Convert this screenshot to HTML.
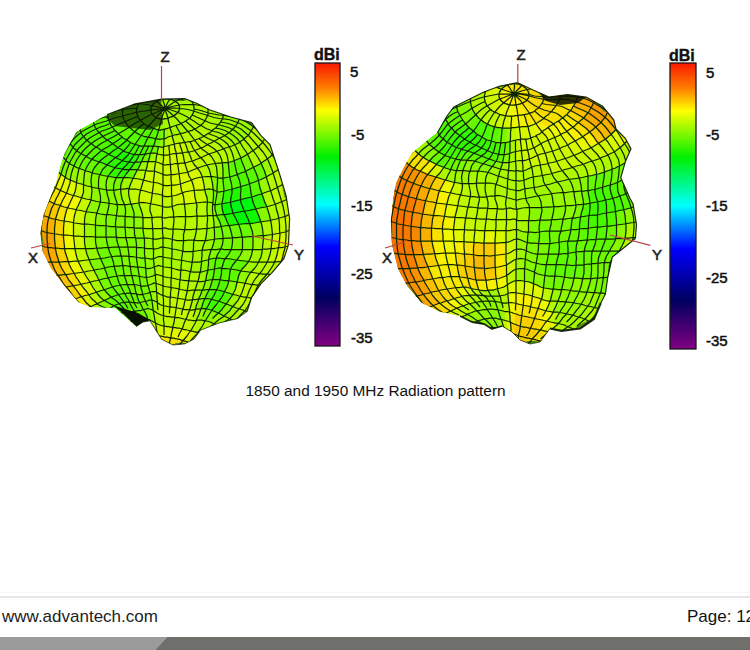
<!DOCTYPE html><html><head><meta charset="utf-8"><style>
html,body{margin:0;padding:0;background:#fff;}
body{width:750px;height:650px;position:relative;overflow:hidden;font-family:"Liberation Sans",sans-serif;}
.a{position:absolute;white-space:nowrap;}
.dbi{position:absolute;font-weight:bold;font-size:16px;line-height:1;color:#111;-webkit-text-stroke:0.4px #111;}
.lab{position:absolute;font-size:15px;line-height:1;color:#111;-webkit-text-stroke:0.5px #111;}
.ax{position:absolute;font-size:15px;line-height:1;color:#222;-webkit-text-stroke:0.55px #222;}
</style></head><body><svg style="position:absolute;left:0;top:0;filter:blur(0.45px)" width="750" height="370"><clipPath id="b1c"><polygon points="161.5,99.0 184.6,98.5 196.0,103.0 210.0,110.0 230.8,117.0 251.5,122.7 260.8,135.4 270.0,144.6 279.0,172.3 286.0,195.4 289.6,218.5 288.5,244.6 283.9,258.5 272.3,272.3 260.8,283.9 251.5,297.7 247.0,311.5 237.7,318.5 219.2,323.0 200.8,330.0 193.8,339.2 184.6,343.9 173.0,345.0 161.5,339.2 150.0,320.8 143.0,322.0 136.2,326.5 115.4,308.0 90.0,307.0 78.5,302.3 64.6,286.0 50.8,267.7 42.7,251.5 40.4,233.0 43.8,214.6 56.5,181.5 60.0,167.7 64.6,153.8 76.0,132.0 107.3,114.6 133.9,104.2"/></clipPath><g clip-path="url(#b1c)"><polygon points="161.5,99.0 184.6,98.5 196.0,103.0 210.0,110.0 230.8,117.0 251.5,122.7 260.8,135.4 270.0,144.6 279.0,172.3 286.0,195.4 289.6,218.5 288.5,244.6 283.9,258.5 272.3,272.3 260.8,283.9 251.5,297.7 247.0,311.5 237.7,318.5 219.2,323.0 200.8,330.0 193.8,339.2 184.6,343.9 173.0,345.0 161.5,339.2 150.0,320.8 143.0,322.0 136.2,326.5 115.4,308.0 90.0,307.0 78.5,302.3 64.6,286.0 50.8,267.7 42.7,251.5 40.4,233.0 43.8,214.6 56.5,181.5 60.0,167.7 64.6,153.8 76.0,132.0 107.3,114.6 133.9,104.2" fill="#4a8a10"/><path fill="#a8f800" stroke="#a8f800" stroke-width=".7" d="M165,108.5L179.5,108.5L179.5,109.5L165,108.5ZM165,108.5L179.5,109.5L179,110.5L165,108.5ZM165,108.5L179,110.5L178.5,111.5L165,108.5ZM165,108.5L178.5,111.5L177.5,112.5L165,108.5ZM165,108.5L177.5,112.5L177,113.5L165,108.5ZM165,108.5L177,113.5L176,114L165,108.5ZM165,108.5L176,114L174.5,115L165,108.5ZM165,108.5L174.5,115L173.5,115.5L165,108.5ZM165,108.5L173.5,115.5L172,116.5L165,108.5ZM165,108.5L172,116.5L170.5,117L165,108.5ZM165,108.5L170.5,117L169,117.5L165,108.5ZM165,108.5L169,117.5L167.5,118L165,108.5ZM165,108.5L167.5,118L166,118.5L165,108.5ZM165,108.5L166,118.5L164.5,118.5L165,108.5ZM165,108.5L164.5,118.5L163,119L165,108.5ZM165,108.5L163,119L161.5,119L165,108.5ZM165,108.5L161.5,119L160,119L165,108.5ZM165,108.5L160,119L158.5,118.5L165,108.5ZM165,108.5L158.5,118.5L157.5,118L165,108.5ZM165,108.5L164.5,99L166.5,99L165,108.5ZM165,108.5L166.5,99L168,99L165,108.5ZM165,108.5L168,99L170,99L165,108.5ZM165,108.5L170,99L171.5,99.5L165,108.5ZM165,108.5L171.5,99.5L173,100L165,108.5ZM165,108.5L173,100L174.5,100.5L165,108.5ZM165,108.5L174.5,100.5L175.5,101.5L165,108.5ZM165,108.5L175.5,101.5L176.5,102L165,108.5ZM165,108.5L176.5,102L177.5,103L165,108.5ZM165,108.5L177.5,103L178.5,104L165,108.5ZM165,108.5L178.5,104L179,105L165,108.5ZM165,108.5L179,105L179.5,106L165,108.5ZM165,108.5L179.5,106L179.5,107.5L165,108.5ZM165,108.5L179.5,107.5L179.5,108.5L165,108.5ZM179.5,108.5L194,111L193,113L179.5,109.5ZM179.5,109.5L193,113L192.5,115L179,110.5ZM179,110.5L192.5,115L191,116.5L178.5,111.5ZM178.5,111.5L191,116.5L189.5,118.5L177.5,112.5ZM177.5,112.5L189.5,118.5L187.5,119.5L177,113.5ZM177,113.5L187.5,119.5L185.5,121L176,114ZM176,114L185.5,121L183.5,122.5L174.5,115ZM174.5,115L183.5,122.5L181,123.5L173.5,115.5ZM173.5,115.5L181,123.5L178.5,124.5L172,116.5ZM172,116.5L178.5,124.5L176,125.5L170.5,117ZM170.5,117L176,125.5L173,126.5L169,117.5ZM169,117.5L173,126.5L170,127.5L167.5,118ZM167.5,118L170,127.5L167,128.5L166,118.5ZM166,118.5L167,128.5L164.5,129L164.5,118.5ZM171.5,99.5L177.5,104.5L180.5,103.5L173,100ZM173,100L180.5,103.5L183.5,103L174.5,100.5ZM174.5,100.5L183.5,103L186,102L175.5,101.5ZM175.5,101.5L186,102L188.5,101L176.5,102ZM176.5,102L188.5,101L191,100L177.5,103ZM177.5,103L191,100L192.5,102.5L178.5,104ZM178.5,104L192.5,102.5L193.5,104.5L179,105ZM179,105L193.5,104.5L194,107L179.5,106ZM179.5,106L194,107L194,109L179.5,107.5ZM179.5,107.5L194,109L194,111L179.5,108.5ZM183.5,122.5L191.5,130.5L188,131.5L181,123.5ZM181,123.5L188,131.5L184.5,132.5L178.5,124.5ZM178.5,124.5L184.5,132.5L180.5,133.5L176,125.5ZM176,125.5L180.5,133.5L176.5,134.5L173,126.5ZM173,126.5L176.5,134.5L172,136L170,127.5ZM170,127.5L172,136L168,137L167,128.5ZM191,100L202,109L205,107.5L192.5,102.5ZM207.5,115.5L222.5,118.5L221,122L206.5,118.5ZM206.5,118.5L221,122L218.5,125L205,121ZM207.5,106.5L220.5,113L223.5,112L208,110ZM208,110L223.5,112L223,115.5L208,113ZM208,113L223,115.5L222.5,118.5L207.5,115.5ZM224.5,135.5L235,144.5L229.5,147L219.5,138ZM239.5,142L247.5,154.5L241,158L235,144.5ZM235,144.5L241,158L234.5,160.5L229.5,147ZM215.5,163.5L217.5,177.5L211,176.5L207,165ZM129,188.5L131,204L124.5,204.5L120.5,189.5ZM213,215.5L214,227.5L207,228.5L207.5,215.5ZM97,213L95.5,225L84.5,224L86,211.5ZM152.5,228.5L153,239L144.5,238L143,228ZM205.5,240.5L202.5,250.5L193,251.5L194,240ZM194,240L193,251.5L182.5,251L183.5,240.5ZM183.5,240.5L182.5,251L172,249L172.5,239.5ZM172.5,239.5L172,249L163,247L163,237.5ZM163,237.5L163,247L153.5,249L153,239ZM202.5,250.5L201.5,261.5L192.5,262L193,251.5ZM193,251.5L192.5,262L181.5,260L182.5,251ZM182.5,251L181.5,260L172,258.5L172,249ZM172,249L172,258.5L163,257L163,247ZM163,247L163,257L153.5,259L153.5,249ZM192.5,262L190.5,271.5L181,270L181.5,260ZM181.5,260L181,270L171.5,268L172,258.5ZM172,258.5L171.5,268L163,266.5L163,257ZM163,257L163,266.5L154.5,267L153.5,259ZM205.5,281L202.5,290L195,290L197.5,281.5ZM99,280L104.5,289.5L96,292L89.5,282ZM202.5,290L199,299L192.5,299.5L195,290ZM97,303.5L108.5,309L103,312.5L91,306.5ZM234.5,319L220.5,323L220.5,327L234.5,321ZM234.5,321L220.5,327L218,326L229.5,318.5ZM229.5,318.5L218,326L214,324L224,316Z"/><path fill="#a0f800" stroke="#a0f800" stroke-width=".7" d="M165,108.5L157.5,118L156,117.5L165,108.5ZM165,108.5L156,117.5L155,117L165,108.5ZM165,108.5L155,117L154,116L165,108.5ZM165,108.5L154,116L153,115L165,108.5ZM165,108.5L154,103.5L155,102.5L165,108.5ZM165,108.5L155,102.5L156.5,101.5L165,108.5ZM165,108.5L156.5,101.5L158,100.5L165,108.5ZM165,108.5L158,100.5L159.5,100L165,108.5ZM165,108.5L159.5,100L161,99.5L165,108.5ZM165,108.5L161,99.5L163,99L165,108.5ZM165,108.5L163,99L164.5,99L165,108.5ZM164.5,118.5L164.5,129L161.5,129.5L163,119ZM215.5,128L229,132.5L224.5,135.5L212,131ZM148,161.5L146,170.5L137.5,169.5L141.5,162ZM133,178L129,188.5L120.5,189.5L124,177.5ZM85.5,170.5L84,185L76.5,182.5L79,168.5ZM213,203.5L213,215.5L207.5,215.5L207.5,202ZM95.5,225L95.5,237L84.5,236.5L84.5,224ZM263.5,235.5L262.5,249L253,249.5L253,236.5ZM214.5,239.5L211,249.5L202.5,250.5L205.5,240.5ZM153,239L153.5,249L144.5,248.5L144.5,238ZM95.5,237L97,248L85.5,248.5L84.5,236.5ZM262.5,249L258.5,262L248.5,261.5L253,249.5ZM211,249.5L209,259.5L201.5,261.5L202.5,250.5ZM258.5,262L251,272.5L241,271L248.5,261.5ZM201.5,261.5L200,272L190.5,271.5L192.5,262ZM207.5,270.5L205.5,281L197.5,281.5L200,272ZM240.5,296L233,306.5L226,304L233,294ZM239,309L229.5,318.5L224,316L233,306.5ZM157.5,302.5L158.5,313.5L153.5,310.5L152,300ZM153.5,310.5L155.5,323L151.5,320.5L148.5,308.5Z"/><path fill="#98f800" stroke="#98f800" stroke-width=".7" d="M165,108.5L153,115L152,114L165,108.5ZM165,108.5L152,114L151.5,113L165,108.5ZM165,108.5L151.5,113L151,112L165,108.5ZM165,108.5L151,112L151,111L165,108.5ZM165,108.5L151,111L150.5,110L165,108.5ZM165,108.5L150.5,110L151,109L165,108.5ZM165,108.5L151,109L151,107.5L165,108.5ZM165,108.5L151,107.5L151.5,106.5L165,108.5ZM165,108.5L151.5,106.5L152,105.5L165,108.5ZM165,108.5L152,105.5L153,104.5L165,108.5ZM165,108.5L153,104.5L154,103.5L165,108.5ZM163,119L161.5,129.5L158.5,129.5L161.5,119ZM167,128.5L168,137L164,138.5L164.5,129ZM222.5,118.5L238,122.5L235.5,126L221,122ZM221,122L235.5,126L232.5,129.5L218.5,125ZM218.5,125L232.5,129.5L229,132.5L215.5,128ZM223.5,112L238.5,116.5L239.5,119L223,115.5ZM223,115.5L239.5,119L238,122.5L222.5,118.5ZM238,122.5L251,131L248,135L235.5,126ZM235.5,126L248,135L244,139L232.5,129.5ZM232.5,129.5L244,139L239.5,142L229,132.5ZM229,132.5L239.5,142L235,144.5L224.5,135.5ZM157,153.5L155.5,161.5L148,161.5L150.5,153ZM239.5,119L253.5,126.5L251,131L238,122.5ZM222.5,163L223,178L217.5,177.5L215.5,163.5ZM267,159L273,173L266.5,177L261,163ZM92,173L91.5,187L84,185L85.5,170.5ZM79,168.5L76.5,182.5L70.5,180L74,166ZM266.5,177L270.5,190.5L262,193.5L258.5,180.5ZM213,189.5L213,203.5L207.5,202L205,189.5ZM215,204.5L216.5,215.5L213,215.5L213,203.5ZM214,227.5L214.5,239.5L205.5,240.5L207,228.5ZM153.5,249L153.5,259L145,258L144.5,248.5ZM97,248L100.5,258.5L89,260L85.5,248.5ZM155,274.5L156,283L148,285.5L146.5,277.5ZM156,283L156.5,292.5L150,292L148,285.5ZM156.5,292.5L157.5,302.5L152,300L150,292ZM224,316L214,324L210,322L218,313ZM206.5,309L201,320L196.5,320.5L201,308.5ZM147.5,319L152,333L149.5,332L144,319Z"/><path fill="#90f800" stroke="#90f800" stroke-width=".7" d="M161.5,119L158.5,129.5L156,129L160,119ZM164,138.5L163.5,146.5L158.5,146.5L160,139ZM238.5,116.5L250.5,126.5L253.5,126.5L239.5,119ZM74,166L70.5,180L65,177L69.5,163.5ZM120.5,189.5L124.5,204.5L117,204.5L113.5,190ZM99,188.5L100.5,202L91,200L91.5,187ZM139,203L143,217.5L134,217L131,204ZM100.5,202L97,213L86,211.5L91,200ZM216.5,215.5L221,226.5L214,227.5L213,215.5ZM143,217.5L143,228L134,227.5L134,217ZM253,249.5L248.5,261.5L237,260L242,249.5ZM209,259.5L207.5,270.5L200,272L201.5,261.5ZM153.5,259L154.5,267L145.5,268L145,258ZM251,272.5L245,283.5L237,282L241,271ZM154.5,267L155,274.5L146.5,277.5L145.5,268ZM104.5,289.5L111.5,297L104,300.5L96,292Z"/><path fill="#80f800" stroke="#80f800" stroke-width=".7" d="M160,119L156,129L153.5,128.5L158.5,118.5ZM156.5,101.5L148.5,105.5L151.5,106L158,100.5ZM164.5,129L164,138.5L160,139L161.5,129.5ZM116,177.5L113.5,190L106.5,189.5L108,176.5ZM69.5,163.5L65,177L61,174L66,160.5ZM66,160.5L61,174L57.5,171L63,157ZM217,191.5L215,204.5L213,203.5L213,189.5ZM116.5,215.5L115.5,226.5L106,226L107,214.5ZM125,227L126,237.5L116.5,237.5L115.5,226.5ZM106,226L106,237L95.5,237L95.5,225ZM253,236.5L253,249.5L242,249.5L242,237ZM223,238.5L220.5,249L211,249.5L214.5,239.5ZM144.5,238L144.5,248.5L136.5,247L135.5,237.5ZM135.5,237.5L136.5,247L128,246.5L126,237.5ZM126,237.5L128,246.5L118.5,247L116.5,237.5ZM106,237L108,247.5L97,248L95.5,237ZM220.5,249L216,258L209,259.5L211,249.5ZM144.5,248.5L145,258L136.5,257.5L136.5,247ZM136.5,247L136.5,257.5L129,256L128,246.5ZM128,246.5L129,256L121,256L118.5,247ZM145,258L145.5,268L137.5,267L136.5,257.5ZM136.5,257.5L137.5,267L130,266L129,256ZM129,256L130,266L122.5,265.5L121,256ZM100.5,258.5L104.5,268L94,270L89,260ZM145.5,268L146.5,277.5L139,276L137.5,267ZM104.5,268L108,278L99,280L94,270ZM209.5,289.5L205,298.5L199,299L202.5,290ZM233,306.5L224,316L218,313L226,304ZM212,310.5L205.5,320.5L201,320L206.5,309ZM152,300L153.5,310.5L148.5,308.5L145.5,301.5ZM148.5,308.5L151.5,320.5L147.5,319L144,309.5Z"/><path fill="#78f800" stroke="#78f800" stroke-width=".7" d="M158.5,118.5L153.5,128.5L150.5,127.5L157.5,118ZM155,102.5L145.5,105L148.5,105.5L156.5,101.5ZM247.5,154.5L253.5,167L245.5,171L241,158ZM228.5,162L229.5,177L223,178L222.5,163ZM223,178L224,191L217,191.5L217.5,177.5ZM124,177.5L120.5,189.5L113.5,190L116,177.5ZM229,225.5L232.5,237.5L223,238.5L221,226.5ZM221,226.5L223,238.5L214.5,239.5L214,227.5ZM115.5,226.5L116.5,237.5L106,237L106,226ZM242,237L242,249.5L231,249.5L232.5,237.5ZM232.5,237.5L231,249.5L220.5,249L223,238.5ZM116.5,237.5L118.5,247L108,247.5L106,237ZM137.5,267L139,276L131.5,275.5L130,266ZM130,266L131.5,275.5L124.5,275.5L122.5,265.5ZM146.5,277.5L148,285.5L140.5,286L139,276ZM139,276L140.5,286L134,284.5L131.5,275.5ZM131.5,275.5L134,284.5L127.5,284.5L124.5,275.5ZM108,278L112.5,287L104.5,289.5L99,280ZM148,285.5L150,292L143,294.5L140.5,286ZM140.5,286L143,294.5L136.5,294L134,284.5ZM134,284.5L136.5,294L130.5,293L127.5,284.5ZM150,292L152,300L145.5,301.5L143,294.5ZM143,294.5L145.5,301.5L139.5,302.5L136.5,294ZM145.5,301.5L148.5,308.5L144,309.5L139.5,302.5ZM140.5,319L147,332L144.5,332L137,320Z"/><path fill="#70f800" stroke="#70f800" stroke-width=".7" d="M157.5,118L150.5,127.5L148.5,126L156,117.5ZM152,105.5L138.5,103.5L140.5,103L153,104.5ZM153,104.5L140.5,103L143,104L154,103.5ZM154,103.5L143,104L145.5,105L155,102.5ZM158.5,146.5L157,153.5L150.5,153L153.5,146ZM150.5,153L148,161.5L141.5,162L145,154ZM238.5,224.5L242,237L232.5,237.5L229,225.5ZM118.5,247L121,256L111.5,257L108,247.5ZM108,247.5L111.5,257L100.5,258.5L97,248ZM121,256L122.5,265.5L114.5,266L111.5,257ZM122.5,265.5L124.5,275.5L116.5,276L114.5,266ZM124.5,275.5L127.5,284.5L120,285.5L116.5,276ZM127.5,284.5L130.5,293L124.5,293.5L120,285.5ZM136.5,294L139.5,302.5L134,302.5L130.5,293ZM139.5,302.5L144,309.5L139,310.5L134,302.5ZM103,312.5L116,316L115.5,314L99.5,314.5ZM144,309.5L147.5,319L144,319L139,310.5ZM137,320L144.5,332L142.5,332L134,320.5ZM134,320.5L142.5,332L141,330.5L131.5,321.5Z"/><path fill="#68f800" stroke="#68f800" stroke-width=".7" d="M156,117.5L148.5,126L146,125L155,117ZM155,117L146,125L144,123.5L154,116ZM154,116L144,123.5L142,122L153,115ZM153,115L142,122L140.5,120.5L152,114ZM152,114L140.5,120.5L139,118.5L151.5,113ZM151.5,113L139,118.5L138,116.5L151,112ZM151,112L138,116.5L137,114.5L151,111ZM151,111L137,114.5L136.5,112.5L150.5,110ZM150.5,110L136.5,112.5L136.5,110L151,109ZM151,109L136.5,110L137,108L151,107.5ZM151,107.5L137,108L137.5,106L151.5,106.5ZM151.5,106.5L137.5,106L138.5,103.5L152,105.5ZM161.5,129.5L160,139L156,138.5L158.5,129.5ZM142,122L132,129.5L129,127L140.5,120.5ZM140.5,120.5L129,127L127,124.5L139,118.5ZM139,118.5L127,124.5L125,121.5L138,116.5ZM138,116.5L125,121.5L123.5,118.5L137,114.5ZM137,114.5L123.5,118.5L122.5,116L136.5,112.5ZM136.5,112.5L122.5,116L122.5,112.5L136.5,110ZM136.5,110L122.5,112.5L122.5,109.5L137,108ZM137,108L122.5,109.5L124,108L137.5,106ZM137.5,106L124,108L127,110L138.5,103.5ZM160,139L158.5,146.5L153.5,146L156,138.5ZM129,127L118.5,134L115,130.5L127,124.5ZM127,124.5L115,130.5L112.5,127L125,121.5ZM125,121.5L112.5,127L110,123.5L123.5,118.5ZM123.5,118.5L110,123.5L108.5,120L122.5,116ZM122.5,116L108.5,120L108,116.5L122.5,112.5ZM122.5,112.5L108,116.5L108.5,114L122.5,109.5ZM122.5,109.5L108.5,114L112.5,116L124,108ZM99,162L92,173L85.5,170.5L92,159ZM92,159L85.5,170.5L79,168.5L86,156.5ZM86,156.5L79,168.5L74,166L81,153.5ZM81,153.5L74,166L69.5,163.5L76.5,150.5ZM76.5,150.5L69.5,163.5L66,160.5L73,147.5ZM261,163L266.5,177L258.5,180.5L253.5,167ZM224,191L222,204L215,204.5L217,191.5ZM222,204L224,214.5L216.5,215.5L215,204.5ZM249.5,223.5L253,236.5L242,237L238.5,224.5ZM242,249.5L237,260L225.5,258.5L231,249.5ZM216,258L214.5,269L207.5,270.5L209,259.5ZM111.5,257L114.5,266L104.5,268L100.5,258.5ZM214.5,269L212.5,279.5L205.5,281L207.5,270.5ZM114.5,266L116.5,276L108,278L104.5,268ZM116.5,276L120,285.5L112.5,287L108,278ZM120,285.5L124.5,293.5L118.5,294.5L112.5,287ZM112.5,287L118.5,294.5L111.5,297L104.5,289.5ZM130.5,293L134,302.5L129.5,302L124.5,293.5ZM111.5,297L119.5,303.5L114,306L104,300.5ZM134,302.5L139,310.5L134.5,311.5L129.5,302ZM139,310.5L144,319L140.5,319L134.5,311.5ZM131.5,321.5L141,330.5L140,327.5L129,322.5ZM129,322.5L140,327.5L139.5,325L127.5,321Z"/><path fill="#b0f800" stroke="#b0f800" stroke-width=".7" d="M194,111L207.5,115.5L206.5,118.5L193,113ZM193,113L206.5,118.5L205,121L192.5,115ZM192.5,115L205,121L203,123L191,116.5ZM191,116.5L203,123L200.5,125.5L189.5,118.5ZM189.5,118.5L200.5,125.5L198,127.5L187.5,119.5ZM187.5,119.5L198,127.5L195,129L185.5,121ZM185.5,121L195,129L191.5,130.5L183.5,122.5ZM192.5,102.5L205,107.5L207.5,106.5L193.5,104.5ZM193.5,104.5L207.5,106.5L208,110L194,107ZM194,107L208,110L208,113L194,109ZM194,109L208,113L207.5,115.5L194,111ZM205,121L218.5,125L215.5,128L203,123ZM203,123L215.5,128L212,131L200.5,125.5ZM200.5,125.5L212,131L208,133.5L198,127.5ZM212,131L224.5,135.5L219.5,138L208,133.5ZM163.5,146.5L163.5,155L157,153.5L158.5,146.5ZM219.5,138L229.5,147L223.5,149L214,141.5ZM244,139L253.5,150.5L247.5,154.5L239.5,142ZM229.5,147L234.5,160.5L228.5,162L223.5,149ZM250.5,126.5L260,139L265.5,137.5L253.5,126.5ZM253.5,150.5L261,163L253.5,167L247.5,154.5ZM272,154.5L279,169L273,173L267,159ZM274,151.5L279,166.5L279,169L272,154.5ZM91.5,187L91,200L81.5,198L84,185ZM270.5,190.5L275,204L266.5,206.5L262,193.5ZM275,204L278.5,218.5L270.5,220.5L266.5,206.5ZM270.5,220.5L272.5,234.5L263.5,235.5L261,222ZM207,228.5L205.5,240.5L194,240L196.5,229ZM196.5,229L194,240L183.5,240.5L185,229.5ZM185,229.5L183.5,240.5L172.5,239.5L173,229ZM173,229L172.5,239.5L163,237.5L162.5,228.5ZM162.5,228.5L163,237.5L153,239L152.5,228.5ZM271,248.5L267.5,262L258.5,262L262.5,249ZM267.5,262L259.5,273.5L251,272.5L258.5,262ZM200,272L197.5,281.5L189,280.5L190.5,271.5ZM190.5,271.5L189,280.5L180,280L181,270ZM163,266.5L163,276.5L155,274.5L154.5,267ZM247,310.5L234.5,319L234.5,321L244.5,310.5ZM244.5,310.5L234.5,321L229.5,318.5L239,309ZM199,299L195.5,309.5L189.5,310L192.5,299.5ZM201,308.5L196.5,320.5L191.5,320.5L195.5,309.5ZM220.5,327L207,331L206.5,334L218,326ZM218,326L206.5,334L204,333.5L214,324ZM214,324L204,333.5L201,333L210,322ZM210,322L201,333L198,332.5L205.5,320.5ZM205.5,320.5L198,332.5L194.5,331.5L201,320ZM158.5,313.5L159.5,325L155.5,323L153.5,310.5ZM206.5,334L193,338.5L192,341L204,333.5ZM151.5,320.5L155,334L152,333L147.5,319ZM144.5,332L154.5,337L153.5,335.5L142.5,332Z"/><path fill="#60f800" stroke="#60f800" stroke-width=".7" d="M158.5,129.5L156,138.5L152,138L156,129ZM148.5,126L141.5,135L138,133.5L146,125ZM146,125L138,133.5L135,131.5L144,123.5ZM144,123.5L135,131.5L132,129.5L142,122ZM135,131.5L126.5,140L122.5,137L132,129.5ZM132,129.5L122.5,137L118.5,134L129,127ZM108.5,120L94.5,125L93,121L108,116.5ZM108,116.5L93,121L96.5,122L108.5,114ZM234.5,160.5L237.5,174.5L229.5,177L228.5,162ZM137.5,169.5L133,178L124,177.5L129.5,169.5ZM107,165L100,175L92,173L99,162ZM73,147.5L66,160.5L63,157L70,143.5ZM70,143.5L63,157L65,156L71,141.5ZM229.5,177L232,189L224,191L223,178ZM231,249.5L225.5,258.5L216,258L220.5,249ZM248.5,261.5L241,271L231,269L237,260ZM241,271L237,282L228.5,281L231,269ZM124.5,293.5L129.5,302L124.5,302.5L118.5,294.5ZM118.5,294.5L124.5,302.5L119.5,303.5L111.5,297ZM129.5,302L134.5,311.5L130,311.5L124.5,302.5ZM108.5,309L119.5,314L116,316L103,312.5ZM134.5,311.5L140.5,319L137,320L130,311.5Z"/><path fill="#58f800" stroke="#58f800" stroke-width=".7" d="M156,129L152,138L148.5,137L153.5,128.5ZM153.5,128.5L148.5,137L144.5,136.5L150.5,127.5ZM150.5,127.5L144.5,136.5L141.5,135L148.5,126ZM156,138.5L153.5,146L148.5,146L152,138ZM152,138L148.5,146L144,146L148.5,137ZM141.5,135L135,144.5L130.5,142.5L138,133.5ZM138,133.5L130.5,142.5L126.5,140L135,131.5ZM153.5,146L150.5,153L145,154L148.5,146ZM118.5,134L107.5,140L103,136.5L115,130.5ZM115,130.5L103,136.5L99,132.5L112.5,127ZM112.5,127L99,132.5L96.5,129L110,123.5ZM110,123.5L96.5,129L94.5,125L108.5,120ZM107.5,140L96,147L91,143.5L103,136.5ZM103,136.5L91,143.5L87,140L99,132.5ZM99,132.5L87,140L83.5,136.5L96.5,129ZM96.5,129L83.5,136.5L81,132.5L94.5,125ZM94.5,125L81,132.5L80.5,129.5L93,121ZM102,150.5L92,159L86,156.5L96,147ZM96,147L86,156.5L81,153.5L91,143.5ZM91,143.5L81,153.5L76.5,150.5L87,140ZM87,140L76.5,150.5L73,147.5L83.5,136.5ZM83.5,136.5L73,147.5L70,143.5L81,132.5ZM81,132.5L70,143.5L71,141.5L80.5,129.5ZM241,158L245.5,171L237.5,174.5L234.5,160.5ZM253.5,167L258.5,180.5L249.5,184L245.5,171ZM237.5,174.5L241,187L232,189L229.5,177ZM258.5,180.5L262,193.5L251.5,197L249.5,184ZM224,214.5L229,225.5L221,226.5L216.5,215.5ZM237,260L231,269L222,268.5L225.5,258.5ZM225.5,258.5L222,268.5L214.5,269L216,258ZM231,269L228.5,281L220,279.5L222,268.5ZM222,268.5L220,279.5L212.5,279.5L214.5,269ZM220,279.5L216.5,290L209.5,289.5L212.5,279.5ZM211.5,299.5L206.5,309L201,308.5L205,298.5ZM124.5,302.5L130,311.5L126.5,312L119.5,303.5ZM119.5,303.5L126.5,312L123,312.5L114,306ZM114,306L123,312.5L119.5,314L108.5,309ZM130,311.5L137,320L134,320.5L126.5,312ZM126.5,312L134,320.5L131.5,321.5L123,312.5ZM123,312.5L131.5,321.5L129,322.5L119.5,314ZM119.5,314L129,322.5L127.5,321L116,316Z"/><path fill="#b8f800" stroke="#b8f800" stroke-width=".7" d="M198,127.5L208,133.5L204,136L195,129ZM195,129L204,136L199,138.5L191.5,130.5ZM191.5,130.5L199,138.5L194.5,140.5L188,131.5ZM188,131.5L194.5,140.5L189.5,141.5L184.5,132.5ZM184.5,132.5L189.5,141.5L185,142.5L180.5,133.5ZM180.5,133.5L185,142.5L179.5,143L176.5,134.5ZM176.5,134.5L179.5,143L174.5,144L172,136ZM168,137L169,145.5L163.5,146.5L164,138.5ZM208,133.5L219.5,138L214,141.5L204,136ZM214,141.5L223.5,149L216.5,151L207.5,144.5ZM251,131L262.5,142L258.5,146.5L248,135ZM248,135L258.5,146.5L253.5,150.5L244,139ZM223.5,149L228.5,162L222.5,163L216.5,151ZM216.5,151L222.5,163L215.5,163.5L209,154ZM253.5,126.5L265.5,137.5L262.5,142L251,131ZM262.5,142L272,154.5L267,159L258.5,146.5ZM258.5,146.5L267,159L261,163L253.5,150.5ZM207,165L211,176.5L202.5,177L197.5,168ZM146,170.5L143.5,180.5L133,178L137.5,169.5ZM265.5,137.5L274,151.5L272,154.5L262.5,142ZM211,176.5L213,189.5L205,189.5L202.5,177ZM273,173L277.5,187.5L270.5,190.5L266.5,177ZM279,166.5L281.5,182.5L283,184L279,169ZM207.5,202L207.5,215.5L197,216L196.5,203ZM196.5,203L197,216L185.5,216.5L184.5,204ZM184.5,204L185.5,216.5L174,217L172,206.5ZM150.5,203.5L152,217.5L143,217.5L139,203ZM282,201.5L285,216.5L278.5,218.5L275,204ZM207.5,215.5L207,228.5L196.5,229L197,216ZM197,216L196.5,229L185,229.5L185.5,216.5ZM185.5,216.5L185,229.5L173,229L174,217ZM152,217.5L152.5,228.5L143,228L143,217.5ZM272.5,234.5L271,248.5L262.5,249L263.5,235.5ZM281,261.5L273.5,274.5L267,274L274.5,262ZM274.5,262L267,274L259.5,273.5L267.5,262ZM274,272.5L262.5,283.5L263.5,286L273.5,274.5ZM273.5,274.5L263.5,286L258,285L267,274ZM267,274L258,285L252,284.5L259.5,273.5ZM259.5,273.5L252,284.5L245,283.5L251,272.5ZM181,270L180,280L171,278L171.5,268ZM171.5,268L171,278L163,276.5L163,266.5ZM245,283.5L240.5,296L233,294L237,282ZM197.5,281.5L195,290L187,290.5L189,280.5ZM189,280.5L187,290.5L179,289L180,280ZM180,280L179,289L171,287.5L171,278ZM171,278L171,287.5L163,286L163,276.5ZM163,276.5L163,286L156,283L155,274.5ZM256.5,299L247,310.5L244.5,310.5L252,298ZM252,298L244.5,310.5L239,309L247,297ZM247,297L239,309L233,306.5L240.5,296ZM195,290L192.5,299.5L185.5,300L187,290.5ZM171,287.5L170.5,297L163,295.5L163,286ZM163,286L163,295.5L156.5,292.5L156,283ZM96,292L104,300.5L97,303.5L88.5,294.5ZM163,295.5L163.5,305.5L157.5,302.5L156.5,292.5ZM201,320L194.5,331.5L190.5,331L196.5,320.5ZM163.5,315.5L164,326L159.5,325L158.5,313.5ZM204,333.5L192,341L191,343L201,333Z"/><path fill="#c0f800" stroke="#c0f800" stroke-width=".7" d="M172,136L174.5,144L169,145.5L168,137ZM204,136L214,141.5L207.5,144.5L199,138.5ZM199,138.5L207.5,144.5L201,148L194.5,140.5ZM194.5,140.5L201,148L194.5,150.5L189.5,141.5ZM189.5,141.5L194.5,150.5L188.5,152L185,142.5ZM207.5,144.5L216.5,151L209,154L201,148ZM201,148L209,154L200.5,157.5L194.5,150.5ZM194.5,150.5L200.5,157.5L192.5,161L188.5,152ZM163.5,155L163,164.5L155.5,161.5L157,153.5ZM209,154L215.5,163.5L207,165L200.5,157.5ZM200.5,157.5L207,165L197.5,168L192.5,161ZM155.5,161.5L154.5,171.5L146,170.5L148,161.5ZM279,169L283,184L277.5,187.5L273,173ZM172,196L172,206.5L162.5,206L162.5,195.5ZM140.5,190L139,203L131,204L129,188.5ZM283,184L287,199L282,201.5L277.5,187.5ZM277.5,187.5L282,201.5L275,204L270.5,190.5ZM172,206.5L174,217L162,217L162.5,206ZM162.5,206L162,217L152,217.5L150.5,203.5ZM281.5,182.5L284,197.5L287,199L283,184ZM287,199L290,214L285,216.5L282,201.5ZM174,217L173,229L162.5,228.5L162,217ZM162,217L162.5,228.5L152.5,228.5L152,217.5ZM285,216.5L286,231.5L280,233L278.5,218.5ZM278.5,218.5L280,233L272.5,234.5L270.5,220.5ZM278.5,247.5L274.5,262L267.5,262L271,248.5ZM85.5,248.5L89,260L78,261L75,248.5ZM283,260L274,272.5L273.5,274.5L281,261.5ZM89,260L94,270L83.5,272L78,261ZM94,270L99,280L89.5,282L83.5,272ZM263.5,286L256.5,299L252,298L258,285ZM258,285L252,298L247,297L252,284.5ZM252,284.5L247,297L240.5,296L245,283.5ZM187,290.5L185.5,300L177.5,298.5L179,289ZM179,289L177.5,298.5L170.5,297L171,287.5ZM170.5,297L170,307L163.5,305.5L163,295.5ZM91,306.5L103,312.5L99.5,314.5L85,309.5ZM170,307L169,316.5L163.5,315.5L163.5,305.5ZM163.5,305.5L163.5,315.5L158.5,313.5L157.5,302.5ZM196.5,320.5L190.5,331L186.5,330L191.5,320.5ZM186,319.5L182,329L177.5,328L180.5,318ZM180.5,318L177.5,328L173,327.5L175,317ZM175,317L173,327.5L168.5,326.5L169,316.5ZM169,316.5L168.5,326.5L164,326L163.5,315.5ZM155.5,323L158,335L155,334L151.5,320.5ZM147,332L155.5,338.5L154.5,337L144.5,332Z"/><path fill="#50f800" stroke="#50f800" stroke-width=".7" d="M148.5,137L144,146L139.5,145.5L144.5,136.5ZM144.5,136.5L139.5,145.5L135,144.5L141.5,135ZM148.5,146L145,154L139.5,154.5L144,146ZM144,146L139.5,154.5L134.5,154.5L139.5,145.5ZM122.5,137L112.5,144L107.5,140L118.5,134ZM145,154L141.5,162L135,162.5L139.5,154.5ZM112.5,144L102,150.5L96,147L107.5,140ZM141.5,162L137.5,169.5L129.5,169.5L135,162.5ZM115,167.5L108,176.5L100,175L107,165ZM245.5,171L249.5,184L241,187L237.5,174.5ZM228.5,281L224.5,291.5L216.5,290L220,279.5ZM233,294L226,304L219,301.5L224.5,291.5ZM216.5,290L211.5,299.5L205,298.5L209.5,289.5ZM226,304L218,313L212,310.5L219,301.5Z"/><path fill="#c8f800" stroke="#c8f800" stroke-width=".7" d="M185,142.5L188.5,152L182.5,152.5L179.5,143ZM169,145.5L169.5,154.5L163.5,155L163.5,146.5ZM188.5,152L192.5,161L185,162.5L182.5,152.5ZM163,164.5L163,174.5L154.5,171.5L155.5,161.5ZM143.5,180.5L140.5,190L129,188.5L133,178ZM205,189.5L207.5,202L196.5,203L194.5,190.5ZM162.5,195.5L162.5,206L150.5,203.5L152.5,193ZM91,200L86,211.5L76.5,209.5L81.5,198ZM290,214L290.5,230L286,231.5L285,216.5ZM84.5,224L84.5,236.5L73.5,235.5L73.5,222.5ZM192.5,299.5L189.5,310L183,309L185.5,300ZM185.5,300L183,309L176.5,307.5L177.5,298.5ZM177.5,298.5L176.5,307.5L170,307L170.5,297ZM195.5,309.5L191.5,320.5L186,319.5L189.5,310ZM189.5,310L186,319.5L180.5,318L183,309ZM183,309L180.5,318L175,317L176.5,307.5ZM176.5,307.5L175,317L169,316.5L170,307ZM191.5,320.5L186.5,330L182,329L186,319.5ZM201,333L191,343L188.5,342.5L198,332.5Z"/><path fill="#d0f800" stroke="#d0f800" stroke-width=".7" d="M179.5,143L182.5,152.5L176,153.5L174.5,144ZM174.5,144L176,153.5L169.5,154.5L169,145.5ZM182.5,152.5L185,162.5L177.5,163.5L176,153.5ZM176,153.5L177.5,163.5L170.5,164.5L169.5,154.5ZM169.5,154.5L170.5,164.5L163,164.5L163.5,155ZM192.5,161L197.5,168L187.5,172L185,162.5ZM185,162.5L187.5,172L179,174L177.5,163.5ZM177.5,163.5L179,174L171,174.5L170.5,164.5ZM170.5,164.5L171,174.5L163,174.5L163,164.5ZM171,174.5L171.5,185L163,185L163,174.5ZM163,174.5L163,185L153.5,182L154.5,171.5ZM154.5,171.5L153.5,182L143.5,180.5L146,170.5ZM171.5,185L172,196L162.5,195.5L163,185ZM163,185L162.5,195.5L152.5,193L153.5,182ZM153.5,182L152.5,193L140.5,190L143.5,180.5ZM182.5,193L184.5,204L172,206.5L172,196ZM152.5,193L150.5,203.5L139,203L140.5,190ZM84,185L81.5,198L73.5,195.5L76.5,182.5ZM86,211.5L84.5,224L73.5,222.5L76.5,209.5ZM290.5,230L288,245L285,246.5L286,231.5ZM280,233L278.5,247.5L271,248.5L272.5,234.5ZM84.5,236.5L85.5,248.5L75,248.5L73.5,235.5ZM159.5,325L161,336L158,335L155.5,323ZM149.5,332L156.5,340L155.5,338.5L147,332Z"/><path fill="#48f800" stroke="#48f800" stroke-width=".7" d="M139.5,145.5L134.5,154.5L129,153L135,144.5ZM126.5,140L118,147.5L112.5,144L122.5,137ZM108.5,154L99,162L92,159L102,150.5Z"/><path fill="#40f800" stroke="#40f800" stroke-width=".7" d="M135,144.5L129,153L123.5,151L130.5,142.5ZM130.5,142.5L123.5,151L118,147.5L126.5,140ZM118,147.5L108.5,154L102,150.5L112.5,144ZM115.5,157.5L107,165L99,162L108.5,154ZM224.5,291.5L219,301.5L211.5,299.5L216.5,290ZM219,301.5L212,310.5L206.5,309L211.5,299.5Z"/><path fill="#30f800" stroke="#30f800" stroke-width=".7" d="M139.5,154.5L135,162.5L129,162L134.5,154.5ZM123.5,151L115.5,157.5L108.5,154L118,147.5ZM122.5,160.5L115,167.5L107,165L115.5,157.5ZM129.5,169.5L124,177.5L116,177.5L122.5,169ZM232,189L230.5,202L222,204L224,191ZM262,193.5L266.5,206.5L256,209L251.5,197Z"/><path fill="#20f800" stroke="#20f800" stroke-width=".7" d="M134.5,154.5L129,162L122.5,160.5L129,153ZM129,153L122.5,160.5L115.5,157.5L123.5,151ZM135,162.5L129.5,169.5L122.5,169L129,162ZM241,187L241,200L230.5,202L232,189ZM233,213L238.5,224.5L229,225.5L224,214.5Z"/><path fill="#18f800" stroke="#18f800" stroke-width=".7" d="M129,162L122.5,169L115,167.5L122.5,160.5Z"/><path fill="#d8f800" stroke="#d8f800" stroke-width=".7" d="M197.5,168L202.5,177L191,180L187.5,172ZM187.5,172L191,180L180.5,184L179,174ZM179,174L180.5,184L171.5,185L171,174.5ZM202.5,177L205,189.5L194.5,190.5L191,180ZM191,180L194.5,190.5L182.5,193L180.5,184ZM180.5,184L182.5,193L172,196L171.5,185ZM194.5,190.5L196.5,203L184.5,204L182.5,193ZM286,231.5L285,246.5L278.5,247.5L280,233ZM285,246.5L281,261.5L274.5,262L278.5,247.5ZM89.5,282L96,292L88.5,294.5L81,284ZM88.5,294.5L97,303.5L91,306.5L81.5,296.5ZM198,332.5L188.5,342.5L186,341.5L194.5,331.5ZM164,326L164,336.5L161,336L159.5,325Z"/><path fill="#38f800" stroke="#38f800" stroke-width=".7" d="M122.5,169L116,177.5L108,176.5L115,167.5ZM249.5,184L251.5,197L241,200L241,187Z"/><path fill="#88f800" stroke="#88f800" stroke-width=".7" d="M217.5,177.5L217,191.5L213,189.5L211,176.5ZM108,176.5L106.5,189.5L99,188.5L100,175ZM100,175L99,188.5L91.5,187L92,173ZM113.5,190L117,204.5L109,203.5L106.5,189.5ZM106.5,189.5L109,203.5L100.5,202L99,188.5ZM131,204L134,217L125,216.5L124.5,204.5ZM124.5,204.5L125,216.5L116.5,215.5L117,204.5ZM117,204.5L116.5,215.5L107,214.5L109,203.5ZM109,203.5L107,214.5L97,213L100.5,202ZM266.5,206.5L270.5,220.5L261,222L256,209ZM134,217L134,227.5L125,227L125,216.5ZM125,216.5L125,227L115.5,226.5L116.5,215.5ZM107,214.5L106,226L95.5,225L97,213ZM261,222L263.5,235.5L253,236.5L249.5,223.5ZM143,228L144.5,238L135.5,237.5L134,227.5ZM134,227.5L135.5,237.5L126,237.5L125,227ZM237,282L233,294L224.5,291.5L228.5,281ZM212.5,279.5L209.5,289.5L202.5,290L205.5,281ZM205,298.5L201,308.5L195.5,309.5L199,299ZM104,300.5L114,306L108.5,309L97,303.5ZM218,313L210,322L205.5,320.5L212,310.5ZM144,319L149.5,332L147,332L140.5,319Z"/><path fill="#e0f800" stroke="#e0f800" stroke-width=".7" d="M76.5,182.5L73.5,195.5L66.5,193L70.5,180ZM61,174L55.5,187.5L52.5,185L57.5,171ZM288,245L283,260L281,261.5L285,246.5ZM177.5,328L174,338L171,337.5L173,327.5ZM173,327.5L171,337.5L167.5,337L168.5,326.5ZM168.5,326.5L167.5,337L164,336.5L164,326ZM152,333L158,341.5L156.5,340L149.5,332Z"/><path fill="#e8f800" stroke="#e8f800" stroke-width=".7" d="M70.5,180L66.5,193L60.5,190.5L65,177ZM73.5,222.5L73.5,235.5L63.5,235L64,221ZM75,248.5L78,261L68,261.5L64.5,248.5ZM83.5,272L89.5,282L81,284L74,273.5ZM194.5,331.5L186,341.5L183,340.5L190.5,331ZM190.5,331L183,340.5L180.5,339.5L186.5,330ZM186.5,330L180.5,339.5L177,339L182,329ZM182,329L177,339L174,338L177.5,328Z"/><path fill="#f0f800" stroke="#f0f800" stroke-width=".7" d="M65,177L60.5,190.5L55.5,187.5L61,174ZM81.5,198L76.5,209.5L67.5,208L73.5,195.5ZM76.5,209.5L73.5,222.5L64,221L67.5,208ZM73.5,235.5L75,248.5L64.5,248.5L63.5,235ZM78,261L83.5,272L74,273.5L68,261.5ZM155,334L159.5,342.5L158,341.5L152,333Z"/><path fill="#00f810" stroke="#00f810" stroke-width=".7" d="M251.5,197L256,209L244,211.5L241,200Z"/><path fill="#00f818" stroke="#00f818" stroke-width=".7" d="M241,200L244,211.5L233,213L230.5,202Z"/><path fill="#08f800" stroke="#08f800" stroke-width=".7" d="M230.5,202L233,213L224,214.5L222,204Z"/><path fill="#f8f000" stroke="#f8f000" stroke-width=".7" d="M73.5,195.5L67.5,208L60,205.5L66.5,193ZM81,284L88.5,294.5L81.5,296.5L73.5,286ZM81.5,296.5L91,306.5L85,309.5L75.5,298.5ZM161,336L163,344.5L161,343.5L158,335ZM158,335L161,343.5L159.5,342.5L155,334Z"/><path fill="#f8e800" stroke="#f8e800" stroke-width=".7" d="M66.5,193L60,205.5L54,203.5L60.5,190.5ZM191,343L177.5,340.5L176.5,341.5L188.5,342.5ZM167.5,337L166.5,345L164.5,345L164,336.5ZM164,336.5L164.5,345L163,344.5L161,336Z"/><path fill="#f8e000" stroke="#f8e000" stroke-width=".7" d="M60.5,190.5L54,203.5L49,201L55.5,187.5ZM67.5,208L64,221L55.5,219.5L60,205.5ZM74,273.5L81,284L73.5,286L65.5,274.5ZM75.5,298.5L85,309.5L86,306L74,297ZM188.5,342.5L176.5,341.5L175.5,342.5L186,341.5ZM186,341.5L175.5,342.5L174.5,343L183,340.5ZM183,340.5L174.5,343L173,344L180.5,339.5ZM180.5,339.5L173,344L171.5,344.5L177,339ZM177,339L171.5,344.5L170,345L174,338ZM174,338L170,345L168,345L171,337.5ZM171,337.5L168,345L166.5,345L167.5,337Z"/><path fill="#f8d800" stroke="#f8d800" stroke-width=".7" d="M55.5,187.5L49,201L47.5,199L52.5,185ZM68,261.5L74,273.5L65.5,274.5L59,262Z"/><path fill="#10f800" stroke="#10f800" stroke-width=".7" d="M256,209L261,222L249.5,223.5L244,211.5Z"/><path fill="#00f808" stroke="#00f808" stroke-width=".7" d="M244,211.5L249.5,223.5L238.5,224.5L233,213Z"/><path fill="#f8c800" stroke="#f8c800" stroke-width=".7" d="M60,205.5L55.5,219.5L49,217.5L54,203.5Z"/><path fill="#f8c000" stroke="#f8c000" stroke-width=".7" d="M54,203.5L49,217.5L43.5,215.5L49,201ZM49,201L43.5,215.5L43,213.5L47.5,199ZM65.5,274.5L73.5,286L66.5,287.5L58,275ZM66.5,287.5L75.5,298.5L74,297L63,287Z"/><path fill="#f8d000" stroke="#f8d000" stroke-width=".7" d="M64,221L63.5,235L54.5,233.5L55.5,219.5ZM63.5,235L64.5,248.5L55.5,248L54.5,233.5ZM64.5,248.5L68,261.5L59,262L55.5,248ZM73.5,286L81.5,296.5L75.5,298.5L66.5,287.5Z"/><path fill="#f8b000" stroke="#f8b000" stroke-width=".7" d="M55.5,219.5L54.5,233.5L47,232.5L49,217.5ZM43.5,215.5L41,230.5L41.5,228.5L43,213.5ZM58,275L66.5,287.5L63,287L52.5,275.5Z"/><path fill="#f8a800" stroke="#f8a800" stroke-width=".7" d="M49,217.5L47,232.5L41,230.5L43.5,215.5ZM55.5,248L59,262L51.5,262L47.5,247.5Z"/><path fill="#f8a000" stroke="#f8a000" stroke-width=".7" d="M54.5,233.5L55.5,248L47.5,247.5L47,232.5ZM51.5,262L58,275L52.5,275.5L45,261.5Z"/><path fill="#f89800" stroke="#f89800" stroke-width=".7" d="M47,232.5L47.5,247.5L41.5,246.5L41,230.5ZM41,230.5L41.5,246.5L44,244L41.5,228.5ZM47.5,247.5L51.5,262L45,261.5L41.5,246.5Z"/><path fill="#f8b800" stroke="#f8b800" stroke-width=".7" d="M59,262L65.5,274.5L58,275L51.5,262Z"/><path fill="none" stroke="#0e2600" stroke-width="1.25" d="M179.5,108.5L179.5,109L179.5,109L179.5,109.5L179,110L179,110.5L179,111L178.5,111L178.5,111.5L178,112L178,112.5L177.5,112.5L177,113L177,113.5L176.5,113.5L176,114L175.5,114.5L175,114.5L175,115L174.5,115L174,115.5L173.5,116L173,116L172.5,116.5L172,116.5L171.5,116.5L171,117L170,117L169.5,117.5L169,117.5L168.5,118L168,118L167.5,118L167,118.5L166,118.5L165.5,118.5L165,118.5L164.5,118.5L164,119L163.5,119L162.5,119L162,119L161.5,119L161,119L160.5,119L160,119L159.5,118.5L159,118.5L158.5,118.5L158,118.5L157.5,118L157,118L156.5,117.5L156,117.5L155.5,117L155,117L154.5,116.5L154,116L154,116L153.5,115.5L153,115L153,115L152.5,114.5L152,114L152,114L151.5,113.5L151.5,113L151.5,112.5L151,112L151,112L151,111.5L151,111L151,110.5L150.5,110L150.5,109.5L151,109L151,109L151,108.5L151,108L151,107.5L151.5,107L151.5,106.5L151.5,106L152,106L152,105.5L152.5,105L153,104.5L153,104L153.5,103.5L154,103.5L154.5,103L155,102.5L155.5,102L156,102L156.5,101.5L157,101L157.5,101L158,100.5L158.5,100.5L159,100L160,100L160.5,99.5L161,99.5L161.5,99.5L162.5,99L163,99L163.5,99L164.5,99L165,99L165.5,99L166.5,99L167,99L167.5,99L168.5,99L169,99L169.5,99L170.5,99.5L171,99.5L171.5,99.5L172,99.5L172.5,100L173,100L174,100.5L174.5,100.5L175,101L175.5,101L175.5,101.5L176,102L176.5,102L177,102.5L177.5,103L177.5,103L178,103.5L178.5,104L178.5,104.5L178.5,104.5L179,105L179,105.5L179,106L179.5,106.5L179.5,106.5L179.5,107L179.5,107.5L179.5,108L179.5,108.5M194,111L193.5,112L193.5,112.5L193,113.5L192.5,114L192.5,114.5L192,115.5L191.5,116L191,116.5L190.5,117.5L190,118L189,118.5L188.5,119L188,119.5L187,120L186.5,120.5L185.5,121L184.5,121.5L184,122L183,122.5L182,123L181,123.5L180,124L179,124.5L178,124.5L177,125L176,125.5L175,125.5L174,126L172.5,126.5L171.5,127L170.5,127L169.5,127.5L168.5,128L167,128.5L166,128.5L165,129L164,129L163,129.5L162,129.5L160.5,130L159.5,130L158.5,129.5L157.5,129.5L156.5,129.5L155.5,129L154.5,128.5L153.5,128.5L152.5,128L151.5,127.5L150.5,127L149.5,126.5L148.5,126.5L147.5,126L147,125.5L146,125L145,124.5L144.5,124L143.5,123.5L143,122.5L142,122L141.5,121.5L141,121L140.5,120L139.5,119.5L139,119L138.5,118L138.5,117.5L138,116.5L137.5,116L137.5,115L137,114.5L137,113.5L136.5,112.5L136.5,112L136.5,111L136.5,110L136.5,109.5L137,108.5L137,107.5L137.5,107L137.5,106L138,105L138.5,104.5L139,103.5L139.5,102.5L140,102.5L141,103M189.5,100.5L190.5,100.5L191,100L191.5,101L192,102L192.5,102.5L193,103.5L193.5,104.5L193.5,105.5L193.5,106L194,107L194,108L194,108.5L194,109.5L194,110.5L194,111M207.5,115.5L207,116.5L206.5,118L206,118.5L205.5,119.5L205,120.5L204.5,121.5L203.5,122.5L203,123.5L202,124L201,125L200,126L199,126.5L198,127L197,128L195.5,128.5L194.5,129L193.5,129.5L192,130.5L190.5,130.5L189.5,131L188,131.5L186.5,132L185,132.5L183.5,133L182,133L180.5,133.5L179,134L177.5,134.5L176,134.5L174.5,135L173,135.5L171.5,136L169.5,136.5L168,137L166.5,138L165,138.5L163.5,138.5L162,139L160.5,139L159,139L157.5,139L156,138.5L154.5,138.5L153,138L151.5,137.5L150,137.5L148.5,137L147,137L146,136.5L144.5,136.5L143,136L142,135.5L140.5,135L139,134.5L138,133.5L136.5,133L135.5,132L134.5,131.5L133,130.5L132,129.5L131,128.5L130,128L129,127L128,126L127.5,125L126.5,124L126,122.5L125,121.5L124.5,120.5L124,119.5L123.5,118.5L123,117.5L123,116L122.5,115L122.5,114L122.5,112.5L122.5,111.5L122.5,110L122.5,109L123,108L123.5,108M206.5,106.5L207.5,106.5L208,107.5L208,109L208,110L208,111.5L208,112.5L208,113.5L208,114.5L207.5,115.5M222.5,118.5L222,120L221,121L220.5,122L219.5,123.5L218.5,124.5L217.5,125.5L216.5,127L215.5,128L214,129L212.5,130L211.5,131.5L210,132.5L208,133.5L206.5,134.5L205,135.5L203.5,136.5L201.5,137.5L200,138L198,139L196,139.5L194.5,140.5L192.5,141L191,141.5L189,141.5L187,142L185,142.5L183,142.5L181,143L179,143L177,143.5L175,144L173,144.5L171,145L169,145.5L167,146L165,146.5L163,147L161,147L159,146.5L157,146.5L155,146L153,146L151.5,146L149.5,146L147.5,146L146,146L144,146L142.5,146L140.5,146L139,145.5L137.5,145L135.5,144.5L134,144L132.5,143.5L130.5,142.5L129,141.5L127.5,140.5L126,139.5L124,138.5L122.5,137.5L121,136L119.5,135L118.5,133.5L117,132.5L115.5,131L114.5,130L113.5,128.5L112.5,127L111.5,126L110.5,124.5L110,123L109.5,122L109,120.5L108.5,119L108,117.5L108,116L108,114.5L108,113.5M223,111.5L223.5,112.5L223.5,113.5L223.5,115L223,116L223,117.5L222.5,118.5M238,122.5L237,124L236,125.5L235.5,126.5L234,128L233,129L231.5,130.5L230.5,131.5L229,132.5L227,134L225.5,135L224,136L222,137L220,138L218,139L215.5,140.5L213.5,141.5L211,143L208.5,144L206,145.5L203.5,147L201,148L198.5,149L196,150L193.5,151L191.5,151.5L189,152L186.5,152L184.5,152.5L182,153L179.5,153L177,153.5L174.5,153.5L172,154L170,154.5L167.5,155L165,155L162.5,155L160,154.5L157.5,154L155,153L153,153L150.5,153L148,153.5L146,154L144,154L142,154.5L140,154.5L138,154.5L136,154.5L134,154.5L132,154L130,153.5L128,152.5L125.5,152L123.5,151L121.5,149.5L119.5,148.5L117,147L115,145.5L113,144L111,142.5L109,141L107,140L105,138.5L103.5,137L102,135.5L100.5,134L99.5,132.5L98,131.5L97,130L96,128.5L95,127L94.5,125.5L94,124L93.5,122.5L93,120.5L94,120.5M239,116.5L240,116.5L239.5,118L239,119.5L238.5,121L238,122.5M251,131L250,132.5L249,134.5L247.5,136L246,137L244.5,138.5L243,140L241,141L239.5,142.5L237.5,143.5L235.5,144.5L234,145L232,146L230,146.5L227.5,147.5L225.5,148L223,149L220.5,150L217.5,151L215,152L212,153L208.5,154L205.5,155.5L202.5,157L199,158.5L196,159.5L193,161L190,161.5L187,162.5L184.5,163L181.5,163L179,163.5L176,163.5L173.5,164L170.5,164.5L167.5,164.5L165,165L162.5,164.5L159.5,163L156.5,162L153.5,161.5L150.5,161.5L148,161.5L145.5,161.5L142.5,161.5L140,162L137.5,162L135.5,162L133,162.5L130.5,162L128.5,162L126,161.5L123.5,161L121,160L118.5,159L115.5,157.5L113,156.5L110,155L107.5,153.5L105,152L102.5,151L100,149.5L98,148L95.5,147L93.5,145.5L92,144L90,143L88.5,141.5L87,140.5L85.5,139L84.5,137.5L83,136L82,134.5L81,133L80.5,131.5L79.5,129.5L80.5,129.5M253,125.5L254,126L253,127.5L252,129.5L251,131M262.5,142L261,144L259.5,145.5L258,147L256,148.5L254,150L251.5,151.5L249.5,153L247,154.5L244.5,156L242,157.5L239.5,158.5L237,159.5L234.5,160.5L232,161.5L230,162L227.5,162.5L225.5,162.5L223,162.5L220.5,163L218,163L215.5,163.5L212,164L209,164.5L205.5,165.5L202,166.5L198,168L194,169.5L190.5,171L187,172.5L183.5,173L180.5,173.5L177,174L174,174.5L171,174.5L168,175L165,175L162,174L158.5,172.5L155.5,171.5L152,171L149,171L145.5,170.5L142.5,170L139,170L136,169.5L133,169.5L130,169.5L127.5,169.5L124.5,169.5L122,169L119,168.5L116,168L113,167L110,166L107,165L104,163.5L101,162.5L98,161.5L95,160.5L92.5,159.5L90,158.5L88,157.5L85.5,156L83.5,155L82,154L80,153L78.5,152L77,151L75.5,149.5L74,148.5L73,147L71.5,145.5L70.5,144L69.5,142.5L69.5,141.5M265,137.5L265,138.5L263.5,140.5L262.5,142M272,154.5L270.5,156.5L268.5,158L266.5,159.5L264,161L261.5,163L259,164.5L256,166L253,167.5L250,169L247,170.5L244,172L241,173L237.5,174.5L234.5,175.5L231.5,176.5L229,177L226,177.5L223.5,178L221.5,178L219.5,178L217.5,177.5L215,177L212.5,176.5L209.5,176.5L206.5,176.5L203,177L199,177.5L195,178.5L190.5,180.5L186,182L182,183.5L178,184.5L175,185L171.5,185L168.5,185.5L165,185.5L161.5,184.5L158,183L154.5,182.5L151,182L147,181L143,180L139,179L135,178.5L131,178L127.5,177.5L124.5,177.5L121.5,177.5L118.5,177.5L115.5,177.5L112.5,177L109,176.5L106,176L103,175.5L100,174.5L97,174L94,173.5L91,172.5L88.5,171.5L86,171L83.5,170L81,169L79,168.5L76.5,167.5L75,166.5L73,165.5L71,164.5L69.5,163.5L68,162.5L67,161.5L65.5,160L64.5,158.5L63,157.5L62,156M275,151L273.5,153L272,154.5M279,169L277,170.5L274.5,172L272.5,173.5L269.5,175L267,176.5L264,178L261,179.5L258,180.5L254.5,182L251.5,183L248,184.5L244.5,185.5L241,186.5L237.5,187.5L234.5,188.5L231,189.5L228,190L225,191L222,191.5L219,192L217,191.5L215.5,191L214,190L212,189.5L209,189L205.5,189.5L201.5,190L197.5,190L193.5,190.5L189.5,191L184.5,192L179.5,194L175.5,195.5L172,196L168.5,196.5L165,196.5L161.5,195L157.5,194L153.5,193.5L149.5,192.5L144.5,191L140,190L135.5,189L131,189L127.5,188.5L124,189L121,189L118,189.5L115.5,190L113,190L110,190L107.5,190L104.5,189.5L102,189L99,188.5L96,188L93,187.5L90,186.5L87,186L84.5,185L81.5,184L79,183.5L76,182.5L74,181.5L71.5,180.5L69,179.5L67,178.5L65,177L63.5,176L62,175L60.5,174L59,172.5L58,171.5L58,170.5M280.5,166.5L280.5,167.5L279,169M283,184L281,185.5L279,186.5L276.5,188L274,189L271.5,190.5L268,191.5L265,192.5L261.5,194L257.5,195L253.5,196.5L249.5,197.5L245,198.5L241,199.5L237,200.5L233.5,201.5L229.5,202.5L226,203L223,203.5L220,204L217,204.5L215,204.5L213.5,204.5L213,204L212.5,203L211,202.5L208,202L204,202L200,202.5L195.5,203L190.5,203.5L186,204L182,204L177.5,204.5L172.5,206.5L168.5,207L165,207L161,206L157,205L152,204L147,203L142.5,202.5L138.5,203L135,203.5L132.5,204L129.5,204L127,204.5L124.5,204.5L122,204.5L119.5,204.5L116.5,204.5L113.5,204L110.5,203.5L107,203L103.5,202.5L100,202L96.5,201.5L93,200.5L89.5,199.5L86,199L82.5,198L79,197L76,196L73,195.5L70,194.5L67.5,193.5L65,192.5L63,191.5L60.5,190.5L58.5,189.5L57,188.5L55,187.5L53.5,186L52,185M285,182.5L283,184M287,199L285.5,200L283.5,201L281,202L278.5,203L276,204L273,205L269.5,206L266,207L262,207.5L258,208.5L253.5,209.5L249,210.5L244.5,211L240,212L236,212.5L232,213.5L228.5,214L225,214.5L222,214.5L219,215L216.5,215.5L214.5,215.5L213.5,215.5L212.5,215.5L211,215.5L208,215.5L204.5,216L200.5,216L196,216L191.5,216.5L187.5,216.5L183,216.5L178.5,216.5L174,217L169.5,217L165,218L160.5,217L156,217L153,217.5L149.5,217.5L146,217.5L142.5,217.5L139,217L135.5,217L132.5,217L129,216.5L125.5,216.5L122,216L119,216L115.5,215.5L112,215L108,214.5L104.5,214.5L100.5,214L96.5,213L92.5,212.5L88.5,212L84.5,211.5L81,210.5L77,210L73.5,209L70,208.5L67,207.5L64,207L61.5,206L59,205L56.5,204.5L54,203.5L52,202.5L50,201.5L48.5,200.5L47,199.5L46.5,199M287.5,198L287,199M290,214L288,215L286.5,216L284,216.5L282,217.5L279,218L276.5,219L273.5,219.5L270,220.5L266.5,221L263,221.5L259,222L254.5,223L250,223.5L245.5,223.5L241.5,224L237.5,224.5L233.5,225L230,225.5L227,225.5L224,226L221,226.5L218,227L215.5,227L213,227.5L210.5,228L207.5,228.5L204,228.5L200,229L195.5,229L191.5,229.5L187,229.5L182.5,229.5L177.5,229L173,229L169,229L165,228L161.5,228.5L157.5,228.5L154,228.5L150,228.5L146,228.5L142.5,228L139.5,228L136,228L132.5,227.5L129,227.5L125.5,227L122,227L118.5,227L115,226.5L111,226.5L107,226L103.5,225.5L99.5,225.5L95,225L91,224.5L87,224L82.5,224L78.5,223.5L74.5,223L70.5,222L67,221.5L63.5,221L60,220.5L57,219.5L54,219L51.5,218.5L49,217.5L46.5,216.5L44.5,216L42.5,215L41,214.5M290.5,230L289,230.5L287.5,231L285,232L283,232.5L280.5,233L278,233.5L275,234L272,234.5L268.5,235L265,235.5L261.5,235.5L257.5,236L253.5,236.5L249,236.5L245,237L241,237L237,237.5L233.5,237.5L230,238L226,238L223,238.5L219.5,238.5L216,239L213,239.5L209.5,240L206,240.5L202,240.5L197.5,240.5L193,240L189,240L185,240.5L181,240.5L177,240.5L172.5,239.5L168.5,238.5L165,238L161.5,238L157.5,239L154,239L150.5,238.5L147.5,238L144,238L140.5,238L137,238L133.5,237.5L130,237.5L126.5,237.5L123,237.5L119,237.5L115.5,237L111.5,237L107.5,237L103.5,237L99.5,237L95.5,237L91,236.5L87,236.5L83,236.5L78.5,236L74.5,236L70.5,235.5L66.5,235L63,235L59,234.5L56,234L52.5,233.5L49.5,233L47,232.5L44.5,232L42.5,231L40.5,230.5L39,230M288.5,246L286.5,246.5L284,247L282,247.5L279,247.5L276.5,248L273.5,248.5L270.5,248.5L267.5,249L264,249L260.5,249.5L257,249.5L253,249.5L249,249.5L245,249.5L241,249.5L237,249.5L232.5,249.5L228.5,249.5L224.5,249.5L220.5,249L216.5,249.5L213,249.5L209.5,249.5L206,250L203,250L199.5,250.5L196,251L192.5,251.5L188.5,251.5L184.5,251.5L180,250.5L176,249.5L172,249L168.5,248L165,247.5L161.5,247L158,248.5L154,249L151,248.5L147.5,248.5L144,248L141,247.5L138,247.5L135,247L131.5,247L128.5,247L125,247L121.5,247L117.5,247L114,247L109.5,247.5L105.5,247.5L101,248L97,248L92.5,248.5L88,248.5L84,248.5L80,248.5L75.5,248.5L71.5,248.5L68,248.5L64,248.5L60.5,248.5L57,248L53.5,248L50.5,247.5L48,247.5L45.5,247L43,246.5L41,246M284.5,261L282.5,261.5L280,261.5L278,261.5L275.5,262L272.5,262L270,262L267,262L263.5,262L260.5,262L257,262L253,262L249,261.5L244.5,261L240,260.5L235.5,260L231,259L226.5,258.5L222.5,258.5L219,258L216,258L213,258.5L210.5,259L207.5,260L205,260.5L202,261.5L199,262L195.5,262L191.5,262L187.5,261.5L183,260.5L179.5,260L175.5,259.5L172,258.5L168.5,258L165,257.5L161.5,256.5L158.5,256.5L154.5,258.5L151,259L148,258.5L144.5,258L141.5,258L138,257.5L135,257L132.5,256.5L129.5,256.5L126.5,256L123.5,256L120.5,256L117,256L113,256.5L109,257L105,258L100.5,258.5L96,259L91.5,259.5L87.5,260L83,260.5L79,261L75,261L71,261.5L67.5,261.5L64,261.5L60.5,262L57.5,262L54.5,262L51.5,262L49,262L46.5,261.5L44.5,261.5M274.5,274.5L272.5,274.5L270,274.5L267.5,274L265,274L262.5,274L259,273.5L256,273L252.5,272.5L249,272L245,271.5L241,271L237,270L233.5,269.5L229.5,269L226.5,268.5L223,268.5L220,268L217,268.5L214.5,269L211.5,269.5L209,270L206.5,270.5L203.5,271.5L200.5,272L197.5,272L193.5,272L189.5,271.5L186,270.5L182.5,270L179,270L175,269L171.5,268L168.5,267.5L165,267L162,266.5L158.5,265.5L155.5,266.5L151.5,268L148.5,268.5L145,268L142.5,267.5L139,267L136,267L133,266.5L130.5,266.5L127.5,266L124.5,265.5L122,265.5L119,266L115.5,266L112,266.5L108.5,267L104.5,268L100.5,269L96.5,269.5L92.5,270.5L88.5,271L84.5,272L80.5,272.5L77,273L73.5,273.5L70,274L67,274.5L64,274.5L61,275L58,275L55.5,275.5L53,275.5M264.5,286L263,286L261,285.5L258.5,285L256.5,285L254,284.5L251.5,284.5L249,284L246.5,283.5L243.5,283L240.5,282.5L237,282L234,281.5L231,281L227.5,280.5L224.5,280.5L221.5,280L218,279.5L215,279.5L212.5,279.5L209.5,280L207,280.5L204.5,281L201.5,281.5L198.5,281.5L195,281L191.5,281L188,280.5L185,280.5L181.5,280L178,279.5L174.5,278.5L171.5,278L168,277.5L165,277L162,276L159,275L156,274.5L153,276L149.5,277L146,277.5L143,277L140.5,276.5L137.5,276L135,275.5L132,275.5L129,275.5L126.5,275.5L123.5,275.5L121,275.5L118,276L114.5,276.5L111.5,277L108,278L104.5,278.5L101,279.5L97.5,280.5L94,281L90.5,282L87,283L84,283.5L80.5,284.5L77.5,285L74.5,285.5L71.5,286L69,286.5L66.5,287L64,288L62,288M256,299L254.5,298.5L252.5,298L250.5,298L248.5,297.5L246.5,297L244,297L241.5,296.5L239,296L236,295L233,294.5L230,293.5L227,292.5L223.5,291.5L220.5,290.5L217.5,290L214.5,289.5L212,289.5L209,289.5L206.5,289.5L204,290L201,290L198.5,290L195.5,290L192.5,290L189.5,290.5L186.5,290.5L183.5,290L180.5,289.5L177,288.5L174,288L171,287.5L168,287L165,286.5L162,285.5L159.5,284.5L156.5,283.5L154,283L151,284.5L147.5,285.5L144.5,286L142,286L139.5,285.5L137,285L134.5,284.5L132,284.5L129,284.5L126.5,284.5L124,284.5L121,285L118.5,285.5L115.5,286L112.5,287L109.5,288L106.5,289L103,290L100,291L97,292L94,293L91,294L88,295L85,295.5L82.5,296.5L80,297L78,298L75.5,298.5L73.5,299.5M247.5,311L246.5,311.5L245,311L243,310L241,309.5L239,308.5L236.5,308L234,307L231.5,306L229,305L226.5,304L223.5,303L221,302L218,301L215.5,300.5L212.5,299.5L210,299L207.5,298.5L205,298.5L202.5,298.5L200,299L198,299L195.5,299.5L193,299.5L190,300L187.5,300L184.5,299.5L182,299L179,298.5L176,298L173.5,297.5L170.5,297L167.5,297L165,296L162.5,295.5L159.5,294L157.5,292.5L155,291.5L152.5,291.5L149.5,292.5L147,293.5L144,294L141.5,294.5L139,294.5L136.5,294L134.5,293.5L132.5,293.5L130,293L128,293L125.5,293.5L123,293.5L121,294L118.5,294.5L116,295.5L113,296.5L110.5,297.5L107.5,299L105,300L102,301.5L99.5,302.5L97,304L94,305L92,306L89.5,307L87.5,308L85.5,309.5L84.5,309M235.5,321L234.5,321.5L233,320.5L231,319.5L229.5,318.5L227.5,317.5L225,316.5L223,315.5L220.5,314L218.5,313L216,312L213.5,311L211.5,310L209,309.5L207,309L205,308.5L203,308.5L201,308.5L198.5,309L196.5,309L194.5,309.5L192.5,310L190,310L187.5,309.5L185,309.5L182.5,309L180,308.5L177.5,308L175,307.5L172.5,307L170,307L167.5,306.5L165,306L162.5,305.5L160,304.5L158,303L156,301.5L153.5,300.5L151.5,300L149.5,300L147,301L144.5,301.5L142,302L140,302.5L138,303L135.5,302.5L133.5,302.5L132,302.5L130,302L128,302L126,302L124.5,302.5L122.5,302.5L120.5,303L118.5,304L116.5,304.5L114.5,305.5L112.5,306.5L110.5,308L108,309L106,310.5L104,311.5L102,313L100,314.5L99.5,314.5M220.5,326.5L220.5,328L219,327L218,326L216.5,325L215,324L213,323.5L211.5,322.5L210,322L208.5,321.5L206.5,321L205,320.5L203.5,320.5L201.5,320L200,320L198,320L196.5,320.5L194.5,320.5L192.5,320.5L190.5,320L188.5,320L186.5,319.5L184,319L182,318.5L180,318L178,317.5L175.5,317.5L173.5,317L171.5,317L169,316.5L167,316.5L165,316L163,315.5L161,315L159,314L157,313L155,311.5L153,310.5L151.5,309.5L149.5,309L148,308.5L146,309L144,309.5L142,310L140.5,310.5L138.5,310.5L136.5,311L135,311L133.5,311.5L131.5,311.5L130,311.5L128.5,311.5L127.5,311.5L126,312L124.5,312L123,312.5L121.5,313L120.5,313.5L119,314L118,315L116.5,315.5L115.5,316.5L115,315.5M206.5,333L206.5,334L205.5,334.5L204.5,334L203.5,333.5L202.5,333L201.5,333L200,332.5L199,332.5L197.5,332L196.5,332L195,332L193.5,331.5L192,331L190.5,331L189,330.5L187,330L185.5,329.5L184,329.5L182,329L180.5,328.5L179,328L177,328L175.5,327.5L173.5,327.5L172,327L170,327L168.5,326.5L166.5,326.5L165,326L163.5,326L161.5,325.5L160,325L158.5,324.5L156.5,323.5L155,322.5L153.5,322L152,321L150.5,320.5L149.5,319.5L148,319.5L146.5,319L145,319L143.5,319L142.5,319L141,319L140,319.5L138.5,319.5L137,320L136,320L135,320.5L133.5,320.5L132.5,321L131.5,321.5L130.5,322L129.5,322L128.5,322.5L128,322.5L127.5,321.5M191.5,342L191,343L190,343L189.5,342.5L188.5,342.5L187.5,342L186.5,341.5L185.5,341L184.5,341L183,340.5L182,340L181,340L180,339.5L178.5,339L177.5,339L176,338.5L175,338.5L174,338L172.5,338L171.5,338L170,337.5L169,337.5L167.5,337L166.5,337L165,337L163.5,336.5L162.5,336.5L161.5,336L160,336L159,335.5L157.5,335L156.5,334.5L155.5,334L154.5,333.5L153,333.5L152,333L151,332.5L150,332.5L149,332L148,332L147,332L146.5,332L145.5,332L144.5,332L143.5,332L143,332L142,332.5L141.5,332L141,331M169.5,345L169,345L168.5,345L167.5,345L167,345L166.5,345L165.5,345L165,345L164.5,344.5L163.5,344.5L163,344.5L162.5,344L161.5,344L161,343.5L160.5,343.5M165,108.5L170,108L175,108L180,108.5L185,109L190,110L195,111.5L199.5,113L204.5,114.5L209.5,116L214,117.5L219.5,118.5L225,119L230.5,120L236,122L241,124L245.5,127L250,130L254,133.5L258,137.5L262,141.5L265.5,145.5L269,150L272,154.5L275,159L277,164L279,169.5L280.5,174.5L282,180L283.5,185L285,190L286.5,195.5L287.5,200.5L288.5,206L289.5,211L290.5,216.5L290.5,222L290.5,227.5L290,233L289.5,238M221,122L226,123L231.5,124.5L236,126.5L241,129L245,132.5L249,136L252.5,140L256,144L259.5,148L263,152L266,156.5L268.5,161L270.5,166L272.5,171L274,176L275.5,181L277,186L278.5,191L280,196L281.5,201L283,206L284,211L285,216L285.5,221.5L286,226.5L286,232L286,237L285.5,242.5L285,248L283.5,253L282.5,258L280.5,263L278,267.5L275,272L272,276.5L268.5,280.5L265,284L262,288.5L259.5,293L257.5,297.5L254.5,302L251.5,306M192.5,115L196.5,117L201,119L205.5,121L210,123L214.5,124L219.5,125L225,126.5L229.5,128L234.5,130.5L238.5,133.5L242.5,137L245.5,141L249,145L252,149L255,153L258,157.5L260.5,162L262.5,166.5L264.5,171L266,176L267.5,181L269,185.5L270.5,190.5L272,195L273.5,200L275.5,204.5L276.5,209.5L278,214.5L279,219.5L279.5,224.5L279.5,229.5L280,234.5L279.5,240L279,245L278,250L277,255L275.5,259.5L273.5,264.5L271,268.5L268,273L265,276.5L261.5,280.5L258.5,284.5L256.5,288.5L254.5,293L252,297.5L250,302.5L247.5,307L244.5,311L241,314.5L237.5,318.5L233.5,321.5L229.5,324.5L224.5,326.5L219.5,327M215.5,128L220.5,129L225,130.5L229.5,133L233.5,135.5L237.5,139L240.5,143L243,147.5L246,151.5L248.5,156L250.5,160.5L252.5,165L254.5,169.5L256.5,174L258,178.5L259,183.5L260,188L261.5,192.5L263,197L264.5,201.5L266.5,206L268,210.5L269.5,215.5L270.5,220L271.5,225L272,230L272.5,235L272,240L271.5,244.5L271,249.5L270,254.5L268.5,259L266.5,263.5L264,267.5L261.5,271.5L258.5,275L255.5,278.5L253,282.5L251,287L249,291L247.5,295.5L245.5,300L243,304.5L240,308L236.5,311.5L233.5,315L230,318.5L226,321L222,323.5M165,108.5L169.5,109.5L174,111L178,112.5L182.5,114.5L186.5,116.5L190.5,119L194.5,121.5L198,124L202,126L206,128.5L210,130L214,131.5L218.5,132.5L223,134.5L227,137L231,140L234,143.5L236.5,148L238.5,152.5L240.5,157L242,162L244,166.5L245.5,171L247,175.5L248.5,179.5L249.5,184L250.5,189L251,193.5L252,197.5L253,202L254.5,206L256.5,210.5L258.5,215L260,219.5L261.5,224L262.5,228.5L263,233.5L263.5,238L263,243L262.5,247.5L262,252.5L261,257L259,261L257,265L254,269L251,272L248.5,275.5L246.5,279.5L245,283.5L243.5,288L242,292.5L240,296.5L238,300.5L235,304L232,307.5L229.5,311L226,314L223,317L219,319.5L215.5,322.5L212,325.5L209,328.5L205.5,332.5L202,336L198,340M208,133.5L212,135L216,136.5L220,138.5L224,141L227.5,144L230,148L232,152.5L233.5,157.5L234.5,162.5L235.5,167.5L236.5,172L238,176.5L239.5,180.5L240.5,185L241,189.5L240.5,194L240.5,198.5L241,203L242.5,206.5L244,210.5L246,214.5L248,219L249.5,223L251,227.5L252.5,232L253,236.5L253,241.5L253,246L252.5,250.5L251.5,255L250,259L248,262.5L245,266L242,269L240,272.5L238.5,276L237.5,280.5L236.5,284.5L235.5,289L233.5,293L231.5,296.5L229,300L226.5,303.5L224,306.5L221.5,310L218.5,313L215.5,315.5L212.5,318.5M185.5,121L189,124L192,126.5L195,129.5L198.5,132L201.5,134.5L204.5,136.5L208,138.5L211.5,140L215.5,142L219,144L222,147L225,150.5L227,155L228,160L228.5,165.5L229,170.5L229.5,175.5L230.5,180L231.5,184L232,188.5L232,193L231,197.5L230.5,202L231,206L232,209.5L233,213.5L235,217L237,221L239,225.5L240.5,229.5L241.5,234L242.5,238.5L242.5,243L242.5,247.5L242,251.5L240,255.5L238,258.5L235.5,261.5L233,264.5L231,268L230,271.5L229.5,275.5L229,280L228,284L226.5,288L224.5,291.5L223,295L221,298.5L218.5,301.5L216.5,304.5L214,307.5L211.5,311L209.5,314L207,318L204.5,322L202.5,326L199.5,330L197,334L193.5,337.5L190.5,341M199,138.5L202,141L205,143L208,145L211.5,147L214.5,149L217.5,152L220,155.5L221.5,159.5L222.5,164.5L223,170L223,175.5L223,180.5L223.5,185L224,189.5L223.5,194L223,198.5L222,202.5L222,206.5L222.5,210.5L223.5,214L225.5,217.5L227,221.5L229,225.5L230.5,229.5L231.5,233.5L232.5,238L232.5,242L232,246.5L231,250L229,253.5L227,256.5L224.5,259.5L223.5,262.5L222.5,266L221.5,270L221.5,274L220.5,278L219.5,282L218.5,285.5L217,289L215.5,292L214,295.5L212,298.5L210,302L208.5,305L206.5,308.5L204.5,312.5L203,316.5M165,108.5L168,111L171,113.5L173.5,116L176.5,118.5L179,121.5L181.5,124L184,127L186.5,130L189,132.5L191,135.5L193.5,138.5L195.5,141.5L198,144.5L200,147L202.5,149.5L205.5,151.5L208,153.5L211,156L213,159L215,162.5L216.5,167L217,172L217.5,177L217.5,182.5L217,187.5L217,192L216.5,196.5L215.5,201.5L215,205.5L215,209.5L216,213L217,216.5L219,220L220.5,224L221.5,228L222.5,232.5L223,236.5L223,240.5L222.5,244.5L221,248L219.5,251.5L217.5,254.5L216.5,257.5L215.5,261L215,264.5L214.5,268.5L214,272.5L213.5,276L212.5,279.5L211.5,283L210.5,286.5L209,290L207.5,293L206,296L204.5,299.5L203,303L202,306.5L200.5,310L199,314.5L197,318.5L195.5,322.5L193.5,326L191.5,329.5L189,333L186.5,336.5L184,339.5L181,343L178,346M189.5,141.5L191.5,144.5L193,148L195,151L197,153.5L199,156L201,158L203.5,160.5L205.5,163L207.5,166L209.5,170L210.5,174L211.5,179L212.5,183.5L213,188L213.5,192.5L213.5,197L213,202L212.5,206.5L212.5,211L213,215L213.5,219L214,223L214,227.5L214.5,231.5L214.5,235.5L214.5,239.5L213.5,243.5L212.5,247L211,250L210,253.5L209,257L208.5,260.5L208.5,264.5L208,268L207.5,272L206.5,275.5L206,279L205,282.5L204,286L203,289L201.5,292L200.5,295L199,298L198,301.5L196.5,305L195.5,309L194.5,313L193,317M176,125.5L177.5,128.5L179,131L180.5,134L182,137L183.5,140L185,143L186.5,146.5L187.5,150L189,153L190.5,156.5L191.5,159.5L193,162.5L194.5,165L196.5,167L198.5,169.5L200.5,172.5L202,176L203,180L204,184.5L204.5,189L205.5,193L207,197.5L207.5,202L207,207L207,211.5L207.5,216L207.5,220.5L207,225L207,229.5L206.5,233.5L206,237.5L205,241.5L203.5,245L202.5,248.5L202,252L202,256L201.5,259.5L201.5,263.5L201,267L200.5,271L199.5,274.5L199,277.5L198,281L197,284L196,287L195,290L194,293L193,296.5L192.5,300L191.5,303.5L190.5,307L189.5,310.5L188,314L187,317L185.5,320L184,323.5L183,327L181.5,330L179.5,333.5L178,337M179.5,143L180.5,146.5L181.5,149.5L182.5,153L183.5,156.5L184,160L185,163.5L186,167L187,170L188,173L189,176L190.5,178.5L192,181.5L193,184.5L194,188.5L194.5,193L195,197.5L196,201.5L197,206L196.5,211L197,215.5L197,220L197,224.5L196.5,229L196,233L195,237L194,240.5L193.5,244L193.5,248L193,252L193,256L192.5,259.5L192,263L191.5,266.5L191,269.5L190,273L189.5,276L189,279.5L188.5,282.5L188,286L187.5,289L187,292.5L186,296L185.5,299L184.5,302.5L184,305.5L183,308.5L182,312L181.5,315M165,108.5L166,112L167,115L168,118.5L168.5,121.5L169.5,125L170,128L171,131L172,134L172.5,137L173,139.5L174,142.5L174.5,145.5L175,149L176,152L176.5,155.5L177,159L177.5,162.5L178,166L178.5,169.5L179,173L179.5,177L180,180.5L180.5,184L181,187.5L181.5,190.5L182.5,193L183.5,196.5L184,200.5L184.5,205L185,209L185.5,213.5L185.5,218L185.5,222.5L185,227L184.5,231L183.5,234.5L183.5,238.5L183.5,242.5L183,246.5L183,250L182.5,253L182,256.5L181.5,259.5L181.5,263L181,266.5L181,270L180.5,273.5L180.5,276.5L180,280L179.5,283.5L179.5,286.5L179,289.5L178.5,293L178,296L177.5,299.5L177,302.5L176.5,305.5L176,309L175.5,312.5L175,315.5L174.5,319L174,322.5L173,326L172.5,329.5L171.5,333L171,337L170,340.5L169,344L168,345.5M169,145.5L169,148.5L169.5,151.5L169.5,155L170,158.5L170,161.5L170.5,165L170.5,168.5L171,172.5L171,176L171,179.5L171.5,183L171.5,187L171.5,190.5L171.5,194.5L172,198.5L172,202L172,205.5L172.5,208.5L173.5,212L173.5,216L174,220.5L173.5,225L173,229L173,233L172.5,236.5L172.5,239.5L172,243L172,246.5L172,249.5L172,253L172,256L171.5,259.5L171.5,263L171.5,266L171.5,269.5L171.5,273L171.5,276.5L171,280L171,283L171,286.5L171,290L170.5,293L170.5,296.5L170,300L170,303L170,306.5L169.5,310L169.5,313.5M164.5,129L164,132.5L164,136L164,139L164,142L164,144.5L163.5,147.5L163.5,150.5L163.5,153L163.5,156.5L163.5,159.5L163,163L163,166L163,169.5L163,173L163,176.5L163,180.5L163,184L163,187.5L162.5,191.5L162.5,195L162.5,198.5L162.5,202.5L162.5,206L162.5,210L162.5,213.5L162,217.5L162.5,222L162.5,225.5L162.5,229.5L162.5,232.5L163,235.5L163,238.5L163,242L163,245L163,248.5L163,252L163,255.5L163,259L163,262L163,265.5L163,269L163,272.5L163,276L163,279L163,282.5L163,286L163,289L163,292.5L163,296L163.5,299.5L163.5,302.5L163.5,306L163.5,309.5L163.5,313L163.5,316.5L163.5,320L164,324L164,327.5L164,331L164,335M158.5,146.5L158,149L157.5,151.5L157,154L156.5,156.5L156,159.5L155.5,162.5L155,165.5L154.5,169L154.5,172.5L154,176.5L153.5,180L153.5,184L153,188L152.5,191.5L152,195.5L151.5,199L151,202.5L150,206.5L150,211L152,216.5L152,221L152.5,224.5L152.5,228.5L153,232L153,235.5L153,239L153,242.5L153,246L153.5,249.5L153.5,253.5L153.5,256.5L153.5,260L154,263L154,265.5L154.5,268L155,271L155,273.5L155.5,276.5L155.5,279L156,282L156,285L156.5,288.5L156.5,291.5L157,295L157,298.5L157.5,302.5L157.5,306L158,310M165,108.5L164,112L162.5,115.5L161.5,119.5L160.5,123L159.5,127L158.5,130.5L157.5,134L156.5,137L155.5,139.5L155,142L154,144.5L153,147L152,149.5L151,152L150,154.5L149.5,157.5L148.5,160.5L147.5,163.5L147,167L146,170L145,173.5L144.5,177L143.5,180L142.5,183.5L141.5,187L140.5,190.5L139.5,194.5L139,198.5L139,204L141,209.5L142.5,214.5L143,218.5L143,222.5L143,226L143,230L143.5,233.5L144,236.5L144.5,240L144.5,243.5L144.5,247L144.5,250.5L144.5,254L145,257.5L145,260.5L145.5,264L145.5,267.5L146,271L146,274.5L146.5,277.5L147,280.5L147.5,283.5L148,286L149,288.5L149.5,290.5L150,293L151,295.5L151.5,298L152,301L152.5,304.5L153,308.5L153.5,312.5L154.5,317L155,321.5L156,325.5L156.5,330L157.5,334L158.5,338L159.5,342L161,344M148.5,146L147.5,149L146,151.5L145,154.5L143.5,157L142.5,159.5L141,162.5L140,165L138.5,168L137,170.5L135.5,173.5L134,176.5L132.5,179.5L131,183L129.5,187L128.5,191.5L129,196.5L130.5,202.5L132.5,208L134,212.5L134,216.5L134,220L134,224L134,227.5L134.5,231L134.5,234.5L135.5,238L136,241L136.5,244.5L136.5,248L136.5,251.5L136.5,255L136.5,258.5L137,262L137.5,265L138,268.5L138.5,271.5L139,274.5L139.5,278L140,281.5L140.5,284.5L141,288L142,291L142.5,294L143.5,296.5L144.5,299L145.5,301L146.5,303.5L148,306M153.5,128.5L151.5,131.5L150,134.5L148,137.5L146.5,140.5L145,144L143.5,147L142,150L140.5,153L139,155.5L137.5,158.5L136,161L134,163.5L132.5,166L130.5,168.5L128.5,171L126.5,173.5L124.5,176.5L122.5,180L121,184L120.5,188.5L121,193.5L122,199L124.5,204.5L125.5,209L125.5,213L125,216.5L125,220.5L125,224L125,228L125.5,231.5L125.5,235L126,238.5L127,242L127.5,245L128,248L128.5,251.5L129,254.5L129,258L129.5,261.5L130,265L130.5,268.5L131,272L131.5,275L132.5,278L133,281L134,284.5L135,287.5L135.5,291L136.5,294L137.5,297.5L138.5,300.5L140,303L141.5,305.5L142.5,308L144,310.5L145.5,313L147,316.5L148,321L149.5,326L151,330.5M139.5,145.5L137.5,149L136,152L134,155L132.5,157.5L130.5,160L128.5,162.5L126.5,165L124,167.5L122,170L119.5,173L117.5,176L115.5,179.5L114,183.5L113.5,188L114,193L115.5,198.5L117,203L117.5,207.5L117,211.5L116.5,215L116,219L115.5,222.5L115.5,226.5L116,230L116,234L116.5,237.5L117,241L118,244.5L119,247.5L120,250.5L120.5,254L121.5,257L122,260.5L122.5,263.5L123,267L123.5,270.5L124,274L125,277.5L126,280.5L127,283.5L128,286.5L129.5,289.5L130.5,292.5L131.5,295.5L133,299L134,302.5L135.5,305.5L137,308M165,108.5L162,111.5L158.5,114.5L156,118L153,121L150.5,124L147.5,127L145,130L143,133L140.5,136.5L138.5,139.5L136,143L134,146L132,149L130,152L128,155L125.5,157.5L123,160L121,162L118,164.5L115.5,167L113,170L110.5,173L108,176.5L106.5,180.5L106,185L106.5,190L107.5,195.5L109,200L109,204.5L108.5,208L107.5,212L106.5,216L106,219.5L106,223.5L106,227.5L106,231.5L106,235.5L106.5,239L107,243L108,246.5L109,250L110,253L111.5,256L112.5,259.5L113.5,262.5L114,266L115,269.5L116,273L117,276L118,279.5L119,282.5L120.5,285.5L122,288.5L123.5,291.5L125,294L126.5,297L128.5,300L130,303.5L131.5,306.5L133.5,310L135.5,312.5L137.5,315.5L140,318L142,321.5L144,326L146.5,330.5L148.5,335.5L151.5,339M130.5,142.5L128.5,145.5L126,148.5L123.5,151L120.5,153.5L118,156L115,158L112,160.5L109,163L106,166L103,169L101,172.5L99,177L98.5,181.5L98.5,186.5L99.5,192L100.5,196.5L100.5,201L99.5,205L98.5,208.5L97,212.5L96,216.5L95.5,220.5L95.5,225L95.5,229L95.5,233L95.5,237L95.5,241L96,245L97,249L98,252.5L99.5,256L101,259.5L102.5,263L104,266L105,269.5L106.5,273L107.5,276.5L109,279.5L110.5,283L112,286L114,289L116,291.5L118,294L120,296.5L122,299.5L124,302L126,305L128,308.5M144,123.5L140.5,126.5L137.5,129L134.5,132L131.5,135L128.5,138L126,141L123,143.5L120,146L117,148.5L113.5,150.5L110.5,153L107,155.5L103.5,158L100.5,160.5L97.5,164L94.5,167.5L92.5,171.5L91.5,176L91,181L91.5,186L92,191L91.5,195.5L91,200L89.5,204L87.5,208L86,212L85,216L84.5,220.5L84.5,225L84.5,229L84.5,233.5L84.5,237.5L84.5,242L85,246L86,250.5L87,254.5L88.5,258L90,262L91.5,265.5L93.5,269L95,272.5L97,276L98.5,279.5L100.5,283L102,286L104,289.5L106.5,292.5L109,295L111.5,297.5L114.5,299.5L117,301.5L119.5,304L122,306.5L124.5,309.5L127,312.5L129.5,316L132.5,319L135.5,321.5L138,325L141,330M122.5,137L119,139.5L115.5,142L112,144L108.5,146.5L104.5,148.5L101,151L97.5,154L94,157L91,160.5L88.5,164L86,168.5L84.5,173L84,178L83.5,183L83.5,188L83.5,192.5L82,196.5L80.5,200.5L78.5,205L76.5,209L75,213.5L74,218L73.5,222.5L73.5,227L73.5,231.5L73.5,236L74,240.5L74.5,245L75,249.5L76,254L77,258L78.5,262L80.5,266L82.5,270L84.5,273.5L86.5,277L89,280.5L91,284L93,287.5L95.5,291L98,294.5L100.5,297.5L103.5,300L107,302L110.5,304L114,305.5L117,307.5L120,310M165,108.5L160.5,110.5L156,112.5L151.5,114.5L147.5,116.5L143.5,118.5L139.5,121L135.5,123L131.5,125.5L128,128L124,130.5L120.5,132.5L116.5,135L113,137L109,139L105,141.5L101,143.5L97,146.5L93.5,149L90,152.5L86.5,156L83.5,159.5L81,164L79,168.5L78,173L77,178L76.5,183L76,187.5L75,192L73,196.5L71,200.5L69,205L67,209L65.5,214L64.5,218.5L64,223L63.5,228L63.5,232.5L63.5,237.5L64,242.5L64.5,247L65,251.5L66.5,256L68,260.5L69.5,265L71.5,269L74,273L76,277L78.5,280.5L81,284.5L83.5,288L86.5,291.5L89,295L91.5,298.5L95,301.5L98,304.5L102,306.5L106,308L110,309.5L114,311L117.5,313L121,315.5L124.5,318.5L127.5,321.5L131,324.5L135,325.5M115,130.5L111,132.5L106.5,134.5L102.5,136.5L98,139L94,141.5L90,144.5L86.5,147.5L83,151L80,155L77,159.5L75,163.5L73,168.5L71.5,173L70.5,178L70,183L68.5,187.5L67,192L65,196L62.5,200.5L60.5,205L58.5,209.5L57,214.5L55.5,219L55,224L54.5,229L54.5,234L54.5,239L55,244L55.5,249L56.5,254L58,258.5L59.5,263.5L61.5,268L64,272L66.5,276L69,280.5L72,284L75,288L77.5,291.5L80.5,295.5L83.5,299L86.5,303L90,306L94,309L98,311L103,312L107.5,313L112,314.5M138,116.5L133.5,118L129,120L124.5,122L120,123.5L116,125.5L111.5,127.5L106.5,129.5L102,131L97.5,133.5L93,136L89,138.5L85,142L81.5,145.5L78,149L75,153L72.5,157.5L70,162L68,167L66.5,171.5L65.5,176.5L64,181L62.5,185.5L60.5,190L58.5,194.5L56,199L54,204L51.5,208.5L50,213.5L48.5,218.5L47.5,223.5L47,229L47,234L47,239L47.5,244.5L48,249.5L49,254.5L50.5,259.5L52.5,264.5L54.5,269.5L57,274L60,278L62.5,282.5L65.5,286.5L69,290.5L72,294.5L75,298.5L78.5,302.5L81.5,306L85.5,309.5L89.5,312.5L94.5,314L100.5,314.5M110,123.5L105.5,125.5L100.5,127L96,129L91,131.5L86.5,134L82.5,137.5L78.5,141L75,144.5L72,149L69.5,153.5L67,158L65,162.5L63,167.5L61.5,172.5L60,177L58,181.5L56,186.5L54,191L51.5,195.5L49.5,200L47,205L45,210L43.5,215L42,220.5L41.5,226L41,231L41,236.5L41,242L41.5,247.5L42.5,253L44,258L45.5,263.5L47.5,268.5L50.5,273L54,277.5L57.5,281.5M165,108.5L160,109L155,109.5L150,110L145.5,111L140.5,111.5L135.5,112.5L130.5,114L126,115L121,116.5L116,117.5L111.5,119L106.5,121L101.5,122.5L96.5,124L91.5,126.5L86.5,129L82,131.5L78,135L74,138.5L70.5,143L68,147L65,152L63,156.5L61,161.5L59,166.5L57.5,171.5L55.5,176L54,181L52.5,186L50.5,190.5M108,116.5L103,117.5L97.5,119.5L92.5,121L87.5,123.5L83,126.5L79.5,130.5M137,108L132,108.5L127,109L122,109.5L117,110.5L112,112L107.5,114.5M165,108.5L160.5,107.5L156,106.5L151.5,105.5L147,104.5L142.5,104L137.5,103.5L133.5,105M165,108.5L162,106L159,103.5L156,101L153,99.5M165,108.5L164.5,105L163.5,102L162.5,99M165,108.5L166.5,105L168,102L170,99M165,108.5L168.5,106L172,103.5L176,101L180,99L183.5,100M165,108.5L170,107L174.5,106L179.5,105L184.5,104.5L189.5,104.5L194.5,104.5L199.5,105.5L204.5,106L209.5,107L214,109.5M223.5,112L229,112.5L234.5,114.5M194,109L199,110L204,111.5L208.5,113L213.5,114L219,115L224.5,115.5L230.5,116.5L236,117.5L241.5,119.5L246.5,122L251,125L255.5,128.5L260,132L264,136L267.5,140.5L270.5,145L273,150"/><polygon points="105,117 134,104 161,99 163,124 150,130 132,128 115,126" fill="#081400" fill-opacity="0.65"/><polygon points="115,306 137,327 150,320 138,313" fill="#081000"/></g><clipPath id="b2c"><polygon points="517.8,82.7 533.0,90.0 549.0,97.0 567.7,94.6 586.0,97.0 602.3,106.0 613.8,120.0 616.0,129.0 625.4,138.5 631.0,148.8 625.4,161.5 620.8,177.7 630.0,198.5 633.0,203.8 636.5,224.6 635.4,238.5 623.9,247.7 612.3,257.0 607.7,277.7 605.4,293.9 600.8,303.0 593.8,319.2 580.0,328.5 561.5,330.8 550.0,328.5 546.0,334.0 540.0,342.0 530.0,344.0 520.0,340.0 512.0,332.0 502.0,326.0 492.0,329.0 484.0,324.0 472.0,322.0 460.0,316.0 439.2,311.5 420.8,302.3 407.0,286.0 397.7,267.7 392.0,244.6 390.8,221.5 393.0,198.5 396.0,183.0 405.4,164.6 412.3,153.0 426.0,141.5 437.7,132.3 447.0,116.0 453.8,107.0 467.7,100.0 483.9,92.0 500.0,86.0"/></clipPath><g clip-path="url(#b2c)"><polygon points="517.8,82.7 533.0,90.0 549.0,97.0 567.7,94.6 586.0,97.0 602.3,106.0 613.8,120.0 616.0,129.0 625.4,138.5 631.0,148.8 625.4,161.5 620.8,177.7 630.0,198.5 633.0,203.8 636.5,224.6 635.4,238.5 623.9,247.7 612.3,257.0 607.7,277.7 605.4,293.9 600.8,303.0 593.8,319.2 580.0,328.5 561.5,330.8 550.0,328.5 546.0,334.0 540.0,342.0 530.0,344.0 520.0,340.0 512.0,332.0 502.0,326.0 492.0,329.0 484.0,324.0 472.0,322.0 460.0,316.0 439.2,311.5 420.8,302.3 407.0,286.0 397.7,267.7 392.0,244.6 390.8,221.5 393.0,198.5 396.0,183.0 405.4,164.6 412.3,153.0 426.0,141.5 437.7,132.3 447.0,116.0 453.8,107.0 467.7,100.0 483.9,92.0 500.0,86.0" fill="#4a8a10"/><path fill="#f8e000" stroke="#f8e000" stroke-width=".7" d="M514,94L529,96L528.5,97L514,94ZM514,94L528.5,97L528.5,98L514,94ZM514,94L528.5,98L527.5,99L514,94ZM514,94L527.5,99L527,100L514,94ZM514,94L527,100L526,101L514,94ZM514,94L526,101L525,101.5L514,94ZM514,94L525,101.5L523.5,102.5L514,94ZM514,94L523.5,102.5L522.5,103L514,94ZM514,94L516.5,84L518.5,84L514,94ZM514,94L518.5,84L520,84.5L514,94ZM514,94L520,84.5L521.5,85.5L514,94ZM514,94L521.5,85.5L523.5,86L514,94ZM514,94L523.5,86L524.5,87L514,94ZM514,94L524.5,87L526,88.5L514,94ZM514,94L526,88.5L527,89.5L514,94ZM514,94L527,89.5L528,90.5L514,94ZM514,94L528,90.5L528.5,92L514,94ZM514,94L528.5,92L529,93.5L514,94ZM514,94L529,93.5L529,94.5L514,94ZM514,94L529,94.5L529,96L514,94ZM526,101L536.5,109.5L534.5,111L525,101.5ZM525,101.5L534.5,111L532,112.5L523.5,102.5ZM523.5,102.5L532,112.5L529.5,113.5L522.5,103ZM522.5,103L529.5,113.5L527,114L521,103.5ZM543.5,99L559.5,99L558.5,102L543,101.5ZM536.5,109.5L547.5,115L544,118L534.5,111ZM534.5,111L544,118L540,121L532,112.5ZM532,112.5L540,121L536,123.5L529.5,113.5ZM540.5,88L552,95.5L555.5,92.5L542,90ZM542,90L555.5,92.5L559,90L543,92.5ZM543,92.5L559,90L560,93L543.5,94.5ZM543.5,94.5L560,93L560,96L544,97ZM544,97L560,96L559.5,99L543.5,99ZM559.5,99L576,101.5L573.5,106L558.5,102ZM558.5,102L573.5,106L570.5,110.5L556.5,105.5ZM556.5,105.5L570.5,110.5L566.5,114.5L554,108.5ZM554,108.5L566.5,114.5L562.5,118L551,112ZM551,112L562.5,118L558.5,121L547.5,115ZM547.5,115L558.5,121L553.5,124L544,118ZM544,118L553.5,124L548,127.5L540,121ZM560,96L577.5,97L576,101.5L559.5,99ZM578.5,122.5L589.5,132L582.5,136.5L572.5,127.5ZM429.5,161L420.5,171.5L414.5,168.5L423,157.5ZM423,157.5L414.5,168.5L409,165L418.5,153.5ZM442.5,229L443.5,241L432,241L431.5,228ZM474,242.5L473.5,255L464.5,254L464,241.5ZM476,280L479,290L471,288.5L467.5,278ZM467.5,278L471,288.5L463.5,287L459.5,277ZM446.5,301L456.5,308.5L450.5,311L439.5,303ZM538,308.5L534.5,318.5L528,317L530.5,307ZM530.5,307L528,317L522,316L523,305.5ZM547,321L540,330L535.5,329L541,319.5ZM548.5,332L538.5,340.5L535.5,339.5L544.5,331ZM511.5,333L512.5,341L510.5,340L508,331.5Z"/><path fill="#f8e800" stroke="#f8e800" stroke-width=".7" d="M514,94L522.5,103L521,103.5L514,94ZM514,94L521,103.5L519.5,104L514,94ZM514,94L519.5,104L517.5,104.5L514,94ZM514,94L517.5,104.5L516,104.5L514,94ZM514,94L516,104.5L514.5,105L514,94ZM514,94L514.5,105L513,105L514,94ZM514,94L513,105L511,105L514,94ZM514,94L500.5,90L501.5,89L514,94ZM514,94L501.5,89L502.5,88L514,94ZM514,94L502.5,88L504,87L514,94ZM514,94L504,87L505.5,86L514,94ZM514,94L505.5,86L507,85L514,94ZM514,94L507,85L509,84.5L514,94ZM514,94L509,84.5L510.5,84L514,94ZM514,94L510.5,84L512.5,83.5L514,94ZM514,94L512.5,83.5L514.5,83.5L514,94ZM514,94L514.5,83.5L516.5,84L514,94ZM521,103.5L527,114L524,114.5L519.5,104ZM519.5,104L524,114.5L521,115L517.5,104.5ZM529.5,113.5L536,123.5L532,125L527,114ZM527,114L532,125L528,126L524,114.5ZM560,93L578,92L577.5,97L560,96ZM566.5,114.5L578.5,122.5L572.5,127.5L562.5,118ZM418.5,153.5L409,165L405,161L414.5,149.5ZM447,204.5L444,216.5L433.5,215L436,203ZM506,242.5L506,254L495,255.5L495,243ZM506,254L506.5,265L495.5,267.5L495,255.5ZM506.5,265L507,275.5L496,279L495.5,267.5ZM457,265L459.5,277L451,276.5L448,264.5ZM438.5,265.5L442.5,277.5L433,279L428,266.5ZM486,280L488,290.5L479,290L476,280ZM459.5,277L463.5,287L455.5,287.5L451,276.5ZM451,276.5L455.5,287.5L447,289L442.5,277.5ZM455.5,287.5L462,296.5L454.5,298.5L447,289ZM546,311L541,319.5L534.5,318.5L538,308.5ZM523,305.5L522,316L515.5,314L516,303.5ZM515.5,314L515,324.5L510.5,322L509.5,312Z"/><path fill="#f8f000" stroke="#f8f000" stroke-width=".7" d="M514,94L511,105L509.5,104.5L514,94ZM514,94L509.5,104.5L508,104.5L514,94ZM514,94L508,104.5L506.5,104L514,94ZM514,94L506.5,104L505,103.5L514,94ZM514,94L505,103.5L504,102.5L514,94ZM514,94L504,102.5L502.5,102L514,94ZM514,94L502.5,102L501.5,101L514,94ZM514,94L501.5,101L500.5,100L514,94ZM514,94L500.5,100L500,99L514,94ZM514,94L500,99L499.5,98L514,94ZM514,94L499.5,98L499,96.5L514,94ZM514,94L499,96.5L499,95.5L514,94ZM514,94L499,95.5L499,94L514,94ZM514,94L499,94L499.5,93L514,94ZM514,94L499.5,93L500,91.5L514,94ZM514,94L500,91.5L500.5,90L514,94ZM517.5,104.5L521,115L518,115.5L516,104.5ZM516,104.5L518,115.5L515,115.5L514.5,105ZM504,87L494.5,90L497.5,90.5L505.5,86ZM505.5,86L497.5,90.5L501,91L507,85ZM524,114.5L528,126L523.5,126.5L521,115ZM521,115L523.5,126.5L519.5,127L518,115.5ZM540,121L548,127.5L542,132L536,123.5ZM562.5,118L572.5,127.5L567,131L558.5,121ZM558.5,121L567,131L560.5,134.5L553.5,124ZM572.5,127.5L582.5,136.5L575,141L567,131ZM589.5,132L598.5,143.5L591,147.5L582.5,136.5ZM436.5,164.5L428,174.5L420.5,171.5L429.5,161ZM450,193L447,204.5L436,203L439.5,191ZM455,217.5L453.5,229.5L442.5,229L444,216.5ZM464,241.5L464.5,254L455.5,253L454,241ZM443.5,241L445.5,253L434.5,253.5L432,241ZM455.5,253L457,265L448,264.5L445.5,253ZM445.5,253L448,264.5L438.5,265.5L434.5,253.5ZM448,264.5L451,276.5L442.5,277.5L438.5,265.5ZM496,279L497.5,289L488,290.5L486,280ZM541.5,299L538,308.5L530.5,307L532.5,296ZM532.5,296L530.5,307L523,305.5L524,294ZM524,294L523,305.5L516,303.5L516,292.5ZM553,322.5L544.5,331L540,330L547,321ZM552.5,333L541,341.5L538.5,340.5L548.5,332ZM508,331.5L510.5,340L509,339L504.5,330Z"/><path fill="#f8d800" stroke="#f8d800" stroke-width=".7" d="M529,96L543.5,99L543,101.5L528.5,97ZM528.5,97L543,101.5L542,103.5L528.5,98ZM528.5,98L542,103.5L540.5,105.5L527.5,99ZM527.5,99L540.5,105.5L538.5,107.5L527,100ZM527,100L538.5,107.5L536.5,109.5L526,101ZM521.5,85.5L529,91L532,90.5L523.5,86ZM523.5,86L532,90.5L535,90L524.5,87ZM524.5,87L535,90L537.5,89.5L526,88.5ZM526,88.5L537.5,89.5L540.5,88L527,89.5ZM527,89.5L540.5,88L542,90L528,90.5ZM528,90.5L542,90L543,92.5L528.5,92ZM528.5,92L543,92.5L543.5,94.5L529,93.5ZM529,93.5L543.5,94.5L544,97L529,94.5ZM529,94.5L544,97L543.5,99L529,96ZM543,101.5L558.5,102L556.5,105.5L542,103.5ZM542,103.5L556.5,105.5L554,108.5L540.5,105.5ZM540.5,105.5L554,108.5L551,112L538.5,107.5ZM538.5,107.5L551,112L547.5,115L536.5,109.5ZM570.5,110.5L583.5,118L578.5,122.5L566.5,114.5ZM444,216.5L442.5,229L431.5,228L433.5,215ZM464.5,254L465.5,266L457,265L455.5,253ZM442.5,277.5L447,289L439,290.5L433,279ZM447,289L454.5,298.5L446.5,301L439,290.5ZM439.5,303L450.5,311L445,314L433,305.5ZM541,319.5L535.5,329L530.5,328L534.5,318.5ZM544.5,331L535.5,339.5L532.5,339L540,330ZM515,324.5L515,334.5L511.5,333L510.5,322Z"/><path fill="#f8f800" stroke="#f8f800" stroke-width=".7" d="M514.5,105L515,115.5L511.5,116L513,105ZM502.5,88L491.5,89.5L494.5,90L504,87ZM454.5,298.5L463,306L456.5,308.5L446.5,301Z"/><path fill="#f0f800" stroke="#f0f800" stroke-width=".7" d="M513,105L511.5,116L508.5,116L511,105ZM511,105L508.5,116L505.5,115.5L509.5,104.5ZM501.5,89L489,88.5L491.5,89.5L502.5,88ZM518,115.5L519.5,127L515,127.5L515,115.5ZM559,90L574,94L578,92L560,93ZM553.5,124L560.5,134.5L554.5,137.5L548,127.5ZM454.5,182.5L450,193L439.5,191L445.5,180ZM453.5,229.5L454,241L443.5,241L442.5,229ZM454,241L455.5,253L445.5,253L443.5,241ZM507,275.5L507.5,285L497.5,289L496,279ZM550,301L546,311L538,308.5L541.5,299ZM516,292.5L516,303.5L508.5,302.5L508,294ZM553,312L547,321L541,319.5L546,311ZM516,303.5L515.5,314L509.5,312L508.5,302.5ZM445,314L459,319L457.5,317.5L441,316ZM510.5,322L511.5,333L508,331.5L505.5,320.5Z"/><path fill="#e8f800" stroke="#e8f800" stroke-width=".7" d="M509.5,104.5L505.5,115.5L502.5,115L508,104.5ZM500.5,90L487,89L489,88.5L501.5,89ZM515,115.5L515,127.5L511,128L511.5,116ZM536,123.5L542,132L536,135.5L532,125ZM548,127.5L554.5,137.5L548,140L542,132ZM567,131L575,141L567.5,145L560.5,134.5ZM582.5,136.5L591,147.5L583,151.5L575,141ZM619.5,124.5L626,140L624.5,143.5L616,129.5ZM457.5,206L455,217.5L444,216.5L447,204.5ZM495.5,230.5L495,243L484,243L485,230.5ZM463.5,287L469.5,295L462,296.5L455.5,287.5ZM556,334L542.5,339.5L541,341.5L552.5,333Z"/><path fill="#e0f800" stroke="#e0f800" stroke-width=".7" d="M508,104.5L502.5,115L500,114.5L506.5,104ZM506.5,104L500,114.5L497,113.5L505,103.5ZM500,91.5L485.5,91.5L487,89L500.5,90ZM511.5,116L511,128L506.5,128L508.5,116ZM532,125L536,135.5L531,138L528,126ZM616,129.5L624.5,143.5L620,147.5L611,134.5ZM464.5,229.5L464,241.5L454,241L453.5,229.5ZM543.5,288L541.5,299L532.5,296L533.5,283.5ZM516,280.5L516,292.5L508,294L507.5,285ZM450.5,311L463,316.5L459,319L445,314ZM558,323.5L548.5,332L544.5,331L553,322.5ZM504.5,330L509,339L507.5,337.5L501.5,329Z"/><path fill="#d8f800" stroke="#d8f800" stroke-width=".7" d="M505,103.5L497,113.5L495,112L504,102.5ZM504,102.5L495,112L492.5,111L502.5,102ZM502.5,102L492.5,111L490.5,109.5L501.5,101ZM499,94L484.5,97L485,94.5L499.5,93ZM499.5,93L485,94.5L485.5,91.5L500,91.5ZM508.5,116L506.5,128L502.5,128L505.5,115.5ZM528,126L531,138L525.5,139L523.5,126.5ZM523.5,126.5L525.5,139L520.5,139.5L519.5,127ZM542,132L548,140L541,144L536,135.5ZM560.5,134.5L567.5,145L560,148.5L554.5,137.5ZM575,141L583,151.5L574,155L567.5,145ZM611,134.5L620,147.5L614.5,151.5L605.5,139ZM443.5,167.5L436,177.5L428,174.5L436.5,164.5ZM460.5,195L457.5,206L447,204.5L450,193ZM466,218L464.5,229.5L453.5,229.5L455,217.5ZM506,230.5L506,242.5L495,243L495.5,230.5ZM485,230.5L484,243L474,242.5L475,230ZM475,230L474,242.5L464,241.5L464.5,229.5ZM533.5,283.5L532.5,296L524,294L524.5,281ZM524.5,281L524,294L516,292.5L516,280.5ZM462,296.5L469.5,304L463,306L454.5,298.5ZM559,335.5L544,337L542.5,339.5L556,334Z"/><path fill="#d0f800" stroke="#d0f800" stroke-width=".7" d="M501.5,101L490.5,109.5L488.5,107.5L500.5,100ZM500.5,100L488.5,107.5L487,105.5L500,99ZM500,99L487,105.5L486,103.5L499.5,98ZM499.5,98L486,103.5L485,101.5L499,96.5ZM499,96.5L485,101.5L484.5,99L499,95.5ZM499,95.5L484.5,99L484.5,97L499,94ZM505.5,115.5L502.5,128L498.5,127.5L502.5,115ZM519.5,127L520.5,139.5L515.5,140L515,127.5ZM536,135.5L541,144L534,147.5L531,138ZM531,138L534,147.5L527.5,150L525.5,139ZM525.5,139L527.5,150L521.5,150.5L520.5,139.5ZM554.5,137.5L560,148.5L552.5,151L548,140ZM548,140L552.5,151L545,153L541,144ZM541,144L545,153L537.5,155.5L534,147.5ZM534,147.5L537.5,155.5L529.5,159L527.5,150ZM527.5,150L529.5,159L522.5,160.5L521.5,150.5ZM567.5,145L574,155L565.5,158.5L560,148.5ZM545,153L548.5,163.5L540,165L537.5,155.5ZM537.5,155.5L540,165L531.5,167.5L529.5,159ZM605.5,139L614.5,151.5L607.5,155L598.5,143.5ZM598.5,143.5L607.5,155L600.5,158L591,147.5ZM516.5,239L516.5,249.5L506,254L506,242.5ZM516.5,249.5L516.5,259L506.5,265L506,254ZM516.5,259L516,269L507,275.5L506.5,265ZM471,288.5L476.5,295L469.5,295L463.5,287ZM456.5,308.5L467.5,314.5L463,316.5L450.5,311Z"/><path fill="#c8f800" stroke="#c8f800" stroke-width=".7" d="M502.5,115L498.5,127.5L494.5,126.5L500,114.5ZM520.5,139.5L521.5,150.5L515.5,151.5L515.5,140ZM521.5,150.5L522.5,160.5L515.5,161L515.5,151.5ZM560,148.5L565.5,158.5L556.5,161.5L552.5,151ZM552.5,151L556.5,161.5L548.5,163.5L545,153ZM529.5,159L531.5,167.5L523,170.5L522.5,160.5ZM591,147.5L600.5,158L592,161L583,151.5ZM583,151.5L592,161L583,164L574,155ZM574,155L583,164L572.5,167.5L565.5,158.5ZM565.5,158.5L572.5,167.5L562,170.5L556.5,161.5ZM556.5,161.5L562,170.5L552,173.5L548.5,163.5ZM462,183.5L460.5,195L450,193L454.5,182.5ZM468,207L466,218L455,217.5L457.5,206ZM476,218.5L475,230L464.5,229.5L466,218ZM507.5,285L508,294L499.5,296L497.5,289ZM560,312.5L553,322.5L547,321L553,312ZM509.5,312L510.5,322L505.5,320.5L503.5,311Z"/><path fill="#c0f800" stroke="#c0f800" stroke-width=".7" d="M500,114.5L494.5,126.5L491,125.5L497,113.5ZM497,113.5L491,125.5L487.5,124L495,112ZM515,127.5L515.5,140L510,141.5L511,128ZM522.5,160.5L523,170.5L516,170.5L515.5,161ZM548.5,163.5L552,173.5L542,175.5L540,165ZM626,140L632,155.5L631.5,158L624.5,143.5ZM470.5,196.5L468,207L457.5,206L460.5,195ZM516.5,209L516.5,220L506.5,219.5L506.5,208.5ZM506.5,208.5L506.5,219.5L496,219.5L497,208.5ZM497,208.5L496,219.5L486,219L487.5,208.5ZM487.5,208.5L486,219L476,218.5L478,207.5ZM478,207.5L476,218.5L466,218L468,207ZM516.5,220L516.5,229.5L506,230.5L506.5,219.5ZM506.5,219.5L506,230.5L495.5,230.5L496,219.5ZM496,219.5L495.5,230.5L485,230.5L486,219ZM486,219L485,230.5L475,230L476,218.5ZM516.5,229.5L516.5,239L506,242.5L506,230.5ZM516,269L516,280.5L507.5,285L507,275.5ZM553,289L550,301L541.5,299L543.5,288ZM469.5,295L476,302L469.5,304L462,296.5ZM463,306L472,312.5L467.5,314.5L456.5,308.5ZM563.5,324.5L552.5,333L548.5,332L558,323.5ZM505.5,320.5L508,331.5L504.5,330L501,319.5ZM501.5,329L507.5,337.5L506,336L498.5,328Z"/><path fill="#b8f800" stroke="#b8f800" stroke-width=".7" d="M495,112L487.5,124L484,122L492.5,111ZM492.5,111L484,122L481,120L490.5,109.5ZM490.5,109.5L481,120L478.5,117.5L488.5,107.5ZM485.5,91.5L472.5,96.5L475.5,98L487,89ZM540,165L542,175.5L533,177L531.5,167.5ZM624.5,143.5L631.5,158L626,162.5L620,147.5ZM592,161L596.5,174.5L588,176.5L583,164ZM476.5,183L479,197L470.5,196.5L469,183.5ZM469,183.5L470.5,196.5L460.5,195L462,183.5ZM506.5,197.5L506.5,208.5L497,208.5L495,196ZM495,196L497,208.5L487.5,208.5L486.5,197ZM486.5,197L487.5,208.5L478,207.5L479,197ZM479,197L478,207.5L468,207L470.5,196.5ZM639.5,221L636.5,236L633,237.5L634,222.5ZM479,290L484,295.5L476.5,295L471,288.5ZM558,301L553,312L546,311L550,301ZM508,294L508.5,302.5L501.5,302.5L499.5,296ZM508.5,302.5L509.5,312L503.5,311L501.5,302.5Z"/><path fill="#b0f800" stroke="#b0f800" stroke-width=".7" d="M488.5,107.5L478.5,117.5L476,114.5L487,105.5ZM487,105.5L476,114.5L473.5,111.5L486,103.5ZM486,103.5L473.5,111.5L472,108.5L485,101.5ZM485,101.5L472,108.5L471,105L484.5,99ZM484.5,99L471,105L470.5,101.5L484.5,97ZM484.5,97L470.5,101.5L470.5,98L485,94.5ZM485,94.5L470.5,98L472.5,96.5L485.5,91.5ZM515.5,161L516,170.5L508.5,170.5L509,162.5ZM531.5,167.5L533,177L524,180.5L523,170.5ZM523,170.5L524,180.5L516,180.5L516,170.5ZM516,170.5L516,180.5L508,179L508.5,170.5ZM620,147.5L626,162.5L619.5,166L614.5,151.5ZM614.5,151.5L619.5,166L612.5,169L607.5,155ZM607.5,155L612.5,169L604.5,172L600.5,158ZM600.5,158L604.5,172L596.5,174.5L592,161ZM583,164L588,176.5L579.5,178L572.5,167.5ZM572.5,167.5L579.5,178L569.5,179.5L562,170.5ZM562,170.5L569.5,179.5L557.5,182L552,173.5ZM516,180.5L516,190L507.5,188L508,179ZM508,179L507.5,188L496,184.5L498.5,176ZM450.5,169.5L445.5,180L436,177.5L443.5,167.5ZM516,190L516,200L506.5,197.5L507.5,188ZM507.5,188L506.5,197.5L495,196L496,184.5ZM496,184.5L495,196L486.5,197L485.5,183ZM485.5,183L486.5,197L479,197L476.5,183ZM516,200L516.5,209L506.5,208.5L506.5,197.5ZM634,222.5L633,237.5L625,238.5L626,224ZM636.5,236L630,250.5L627,251.5L633,237.5ZM633,237.5L627,251.5L618.5,251L625,238.5ZM603,309L590.5,319L589.5,321.5L600,309ZM600,309L589.5,321.5L584.5,319L594,307.5ZM476.5,295L482,301.5L476,302L469.5,295ZM590.5,319L576,326L576,330L589.5,321.5ZM589.5,321.5L576,330L573,329L584.5,319ZM469.5,304L477,311L472,312.5L463,306ZM576,330L560,332.5L559,335.5L573,329ZM573,329L559,335.5L556,334L568,326.5ZM568,326.5L556,334L552.5,333L563.5,324.5ZM459,319L473,321.5L472.5,319L457.5,317.5Z"/><path fill="#98f800" stroke="#98f800" stroke-width=".7" d="M511,128L510,141.5L505.5,142.5L506.5,128ZM470.5,98L457.5,104.5L461.5,107L472.5,96.5ZM433.5,148L423,157.5L418.5,153.5L429,144ZM425.5,140L414.5,149.5L418,149.5L427.5,138.5ZM579.5,178L582,191L574,191.5L569.5,179.5ZM574,191.5L576,205L566,206L563.5,192.5ZM563.5,192.5L566,206L554,206.5L551.5,194ZM551.5,194L554,206.5L541.5,207.5L538,196ZM538,196L541.5,207.5L529.5,207.5L526,198.5ZM528,232L527.5,242.5L516.5,239L516.5,229.5ZM527.5,242.5L526,251L516.5,249.5L516.5,239ZM524.5,268.5L524.5,281L516,280.5L516,269ZM610.5,294L603,309L600,309L606,293.5ZM606,293.5L600,309L594,307.5L600.5,293ZM587,292L581,304.5L573.5,303L579.5,291.5ZM562,289.5L558,301L550,301L553,289ZM581,304.5L573,315.5L566.5,313.5L573.5,303ZM573.5,303L566.5,313.5L560,312.5L566,302ZM566,302L560,312.5L553,312L558,301ZM499.5,296L501.5,302.5L495,301.5L491.5,296ZM482,301.5L487,309.5L482,310L476,302ZM503.5,311L505.5,320.5L501,319.5L498,310ZM477,311L484.5,319L481,320L472,312.5ZM472,312.5L481,320L478,321L467.5,314.5ZM501,319.5L504.5,330L501.5,329L496.5,318.5ZM496,327.5L504.5,334.5L503,332.5L493,327.5Z"/><path fill="#78f800" stroke="#78f800" stroke-width=".7" d="M506.5,128L505.5,142.5L500.5,143L502.5,128ZM476,114.5L465.5,124L462.5,120L473.5,111.5ZM457,107L444,114L447.5,115.5L457.5,104.5ZM626,162.5L624,179L617.5,182L619.5,166ZM572.5,218L570.5,230L561,231L563,219ZM563,219L561,231L549.5,231L552,219.5ZM552,219.5L549.5,231L539.5,232L540,220ZM539.5,232L538.5,243.5L527.5,242.5L528,232ZM550,243.5L548,254L537.5,254L538.5,243.5ZM627,251.5L616.5,263L610.5,262.5L618.5,251ZM548,254L546.5,264.5L536,263.5L537.5,254ZM617,261L611,274L613,277L616.5,263ZM616.5,263L613,277L608.5,277L610.5,262.5ZM610.5,262.5L608.5,277L603.5,277.5L604.5,262.5ZM604.5,262.5L603.5,277.5L597.5,278L598,263ZM598,263L597.5,278L591,278.5L591.5,264ZM546.5,264.5L545,275.5L534.5,272.5L536,263.5ZM613,277L610.5,294L606,293.5L608.5,277ZM608.5,277L606,293.5L600.5,293L603.5,277.5ZM603.5,277.5L600.5,293L594,292.5L597.5,278ZM554.5,276L553,289L543.5,288L545,275.5Z"/><path fill="#68f800" stroke="#68f800" stroke-width=".7" d="M502.5,128L500.5,143L496,142.5L498.5,127.5ZM460,115.5L448.5,124L446,119.5L458,111.5ZM496,161L492.5,166.5L483.5,163.5L489,159ZM445,155.5L436.5,164.5L429.5,161L439,152ZM612.5,169L610,185L602.5,187.5L604.5,172ZM596.5,174.5L595,189L588,190.5L588,176.5ZM630,175.5L631,191L625.5,193.5L624,179ZM631,191L637.5,205.5L631.5,207.5L625.5,193.5ZM580.5,217L579.5,229L570.5,230L572.5,218ZM616.5,225L615.5,238.5L605.5,239L607,226ZM579.5,229L578,240.5L568,241L570.5,230ZM587,240L584,251L576,252L578,240.5ZM559,242L558.5,254L548,254L550,243.5ZM609.5,251L604.5,262.5L598,263L601,251ZM601,251L598,263L591.5,264L592.5,251ZM592.5,251L591.5,264L584.5,264.5L584,251ZM584,251L584.5,264.5L576,265L576,252ZM558.5,254L556.5,264.5L546.5,264.5L548,254ZM584.5,264.5L583,278.5L574,278L576,265ZM556.5,264.5L554.5,276L545,275.5L546.5,264.5Z"/><path fill="#58f800" stroke="#58f800" stroke-width=".7" d="M498.5,127.5L496,142.5L491,141L494.5,126.5ZM494.5,126.5L491,141L486.5,139.5L491,125.5ZM465.5,124L455.5,132L451.5,128L462.5,120ZM474,153.5L467,160L461,159.5L467.5,151ZM443,139L433.5,148L429,144L439.5,135ZM450.5,157.5L443.5,167.5L436.5,164.5L445,155.5ZM625.5,193.5L631.5,207.5L624,209.5L619.5,196ZM607,226L605.5,239L596,239.5L597.5,227ZM597.5,227L596,239.5L587,240L588.5,228Z"/><path fill="#50f800" stroke="#50f800" stroke-width=".7" d="M491,125.5L486.5,139.5L482,137.5L487.5,124ZM487.5,124L482,137.5L477.5,134.5L484,122ZM484,122L477.5,134.5L473.5,131L481,120ZM505.5,142.5L504,154.5L498.5,154L500.5,143ZM498.5,154L496,161L489,159L493,153ZM446,119.5L436.5,130.5L435.5,127L444,114ZM467.5,151L461,159.5L455.5,159L462,149.5ZM447.5,142.5L439,152L433.5,148L443,139ZM617.5,182L619.5,196L613,198L610,185ZM590,203L589,216L580.5,217L583.5,204ZM615.5,211.5L616.5,225L607,226L606.5,213ZM589,216L588.5,228L579.5,229L580.5,217Z"/><path fill="#60f800" stroke="#60f800" stroke-width=".7" d="M481,120L473.5,131L469,127.5L478.5,117.5ZM462.5,120L451.5,128L448.5,124L460,115.5ZM504,154.5L502.5,162.5L496,161L498.5,154ZM489,159L483.5,163.5L474.5,161.5L481.5,156ZM481.5,156L474.5,161.5L467,160L474,153.5ZM439.5,135L429,144L425.5,140L436.5,130.5ZM436.5,130.5L425.5,140L427.5,138.5L435.5,127ZM455.5,159L450.5,169.5L443.5,167.5L450.5,157.5ZM604.5,172L602.5,187.5L595,189L596.5,174.5ZM624,179L625.5,193.5L619.5,196L617.5,182ZM588.5,228L587,240L578,240.5L579.5,229ZM615.5,238.5L609.5,251L601,251L605.5,239ZM605.5,239L601,251L592.5,251L596,239.5ZM596,239.5L592.5,251L584,251L587,240ZM578,240.5L576,252L568,253L568,241ZM568,241L568,253L558.5,254L559,242ZM576,252L576,265L566.5,265L568,253ZM568,253L566.5,265L556.5,264.5L558.5,254ZM576,265L574,278L564.5,277L566.5,265ZM566.5,265L564.5,277L554.5,276L556.5,264.5Z"/><path fill="#70f800" stroke="#70f800" stroke-width=".7" d="M478.5,117.5L469,127.5L465.5,124L476,114.5ZM510,141.5L509.5,153.5L504,154.5L505.5,142.5ZM458,111.5L446,119.5L444,114L457,107ZM461,159.5L456.5,170.5L450.5,169.5L455.5,159ZM619.5,166L617.5,182L610,185L612.5,169ZM588,190.5L590,203L583.5,204L582,191ZM629.5,173.5L627.5,189.5L631,191L630,175.5ZM624,209.5L626,224L616.5,225L615.5,211.5ZM570.5,230L568,241L559,242L561,231ZM561,231L559,242L550,243.5L549.5,231ZM549.5,231L550,243.5L538.5,243.5L539.5,232ZM618.5,251L610.5,262.5L604.5,262.5L609.5,251ZM591.5,264L591,278.5L583,278.5L584.5,264.5ZM564.5,277L562,289.5L553,289L554.5,276Z"/><path fill="#80f800" stroke="#80f800" stroke-width=".7" d="M473.5,111.5L462.5,120L460,115.5L472,108.5ZM472,108.5L460,115.5L458,111.5L471,105ZM509.5,153.5L509,162.5L502.5,162.5L504,154.5ZM467,160L463,170.5L456.5,170.5L461,159.5ZM583.5,204L580.5,217L572.5,218L576,205ZM554,206.5L552,219.5L540,220L541.5,207.5ZM540,220L539.5,232L528,232L528.5,220.5ZM538.5,243.5L537.5,254L526,251L527.5,242.5ZM597.5,278L594,292.5L587,292L591,278.5ZM574,278L570.5,290.5L562,289.5L564.5,277Z"/><path fill="#88f800" stroke="#88f800" stroke-width=".7" d="M471,105L458,111.5L457,107L470.5,101.5ZM502.5,162.5L500.5,169L492.5,166.5L496,161ZM492.5,166.5L488,172.5L478,171L483.5,163.5ZM483.5,163.5L478,171L470,171L474.5,161.5ZM439,152L429.5,161L423,157.5L433.5,148ZM631.5,158L630,175.5L624,179L626,162.5ZM588,176.5L588,190.5L582,191L579.5,178ZM566,206L563,219L552,219.5L554,206.5ZM541.5,207.5L540,220L528.5,220.5L529.5,207.5ZM625,238.5L618.5,251L609.5,251L615.5,238.5ZM630,250.5L617,261L616.5,263L627,251.5ZM537.5,254L536,263.5L525.5,259L526,251ZM536,263.5L534.5,272.5L524.5,268.5L525.5,259ZM591,278.5L587,292L579.5,291.5L583,278.5ZM545,275.5L543.5,288L533.5,283.5L534.5,272.5ZM534.5,272.5L533.5,283.5L524.5,281L524.5,268.5ZM498,310L501,319.5L496.5,318.5L492.5,309ZM492.5,309L496.5,318.5L492.5,318L487,309.5ZM487,309.5L492.5,318L488.5,318L482,310ZM496.5,318.5L501.5,329L498.5,328L492.5,318ZM492.5,318L498.5,328L496,327.5L488.5,318ZM488.5,318L496,327.5L493,327.5L484.5,319ZM484.5,319L493,327.5L491,328L481,320ZM481,320L491,328L489,327.5L478,321ZM478,321L489,327.5L487.5,325.5L475,322.5ZM475,322.5L487.5,325.5L487,323.5L473,321.5ZM493,327.5L503,332.5L502,331L491,328Z"/><path fill="#90f800" stroke="#90f800" stroke-width=".7" d="M470.5,101.5L457,107L457.5,104.5L470.5,98ZM474.5,161.5L470,171L463,170.5L467,160ZM632,155.5L629.5,173.5L630,175.5L631.5,158ZM582,191L583.5,204L576,205L574,191.5ZM576,205L572.5,218L563,219L566,206ZM631.5,207.5L634,222.5L626,224L624,209.5ZM626,224L625,238.5L615.5,238.5L616.5,225ZM583,278.5L579.5,291.5L570.5,290.5L574,278ZM579.5,291.5L573.5,303L566,302L570.5,290.5ZM570.5,290.5L566,302L558,301L562,289.5ZM491.5,296L495,301.5L488.5,301L484,295.5ZM501.5,302.5L503.5,311L498,310L495,301.5ZM495,301.5L498,310L492.5,309L488.5,301ZM488.5,301L492.5,309L487,309.5L482,301.5ZM482,310L488.5,318L484.5,319L477,311Z"/><path fill="#f8b000" stroke="#f8b000" stroke-width=".7" d="M576,101.5L591,108L588,113L573.5,106ZM605,117.5L616,129.5L611,134.5L601,122.5ZM436,177.5L430,188.5L421,186L428,174.5ZM431.5,228L432,241L421,241L421,227.5Z"/><path fill="#f8c000" stroke="#f8c000" stroke-width=".7" d="M573.5,106L588,113L583.5,118L570.5,110.5ZM583.5,118L595.5,127L589.5,132L578.5,122.5ZM432,241L434.5,253.5L423.5,254.5L421,241ZM495,255.5L495.5,267.5L484.5,268.5L484,255.5ZM474.5,267.5L476,280L467.5,278L465.5,266ZM433,279L439,290.5L431,292.5L424,280.5Z"/><path fill="#a8f800" stroke="#a8f800" stroke-width=".7" d="M515.5,140L515.5,151.5L509.5,153.5L510,141.5ZM515.5,151.5L515.5,161L509,162.5L509.5,153.5ZM508.5,170.5L508,179L498.5,176L500.5,169ZM552,173.5L557.5,182L545,185L542,175.5ZM542,175.5L545,185L534.5,187.5L533,177ZM533,177L534.5,187.5L525,188.5L524,180.5ZM524,180.5L525,188.5L516,190L516,180.5ZM498.5,176L496,184.5L485.5,183L488,172.5ZM488,172.5L485.5,183L476.5,183L478,171ZM478,171L476.5,183L469,183.5L470,171ZM525,188.5L526,198.5L516,200L516,190ZM526,198.5L529.5,207.5L516.5,209L516,200ZM529.5,207.5L528.5,220.5L516.5,220L516.5,209ZM637.5,205.5L639.5,221L634,222.5L631.5,207.5ZM528.5,220.5L528,232L516.5,229.5L516.5,220ZM488,290.5L491.5,296L484,295.5L479,290ZM594,307.5L584.5,319L579,317L588,306ZM584.5,319L573,329L568,326.5L579,317ZM579,317L568,326.5L563.5,324.5L573,315.5ZM573,315.5L563.5,324.5L558,323.5L566.5,313.5ZM566.5,313.5L558,323.5L553,322.5L560,312.5ZM463,316.5L475,322.5L473,321.5L459,319ZM498.5,328L506,336L504.5,334.5L496,327.5Z"/><path fill="#48f800" stroke="#48f800" stroke-width=".7" d="M500.5,143L498.5,154L493,153L496,142.5ZM493,153L489,159L481.5,156L487.5,150.5ZM451.5,128L443,139L439.5,135L448.5,124ZM448.5,124L439.5,135L436.5,130.5L446,119.5ZM462,149.5L455.5,159L450.5,157.5L456.5,147.5ZM610,185L613,198L605.5,200L602.5,187.5ZM595,189L597.5,202L590,203L588,190.5ZM619.5,196L624,209.5L615.5,211.5L613,198ZM606.5,213L607,226L597.5,227L597.5,214.5ZM597.5,214.5L597.5,227L588.5,228L589,216Z"/><path fill="#40f800" stroke="#40f800" stroke-width=".7" d="M496,142.5L493,153L487.5,150.5L491,141ZM469,127.5L459.5,135.5L455.5,132L465.5,124ZM487.5,150.5L481.5,156L474,153.5L481.5,148ZM455.5,132L447.5,142.5L443,139L451.5,128ZM456.5,147.5L450.5,157.5L445,155.5L452,145ZM452,145L445,155.5L439,152L447.5,142.5ZM602.5,187.5L605.5,200L597.5,202L595,189ZM613,198L615.5,211.5L606.5,213L605.5,200ZM597.5,202L597.5,214.5L589,216L590,203Z"/><path fill="#38f800" stroke="#38f800" stroke-width=".7" d="M491,141L487.5,150.5L481.5,148L486.5,139.5ZM486.5,139.5L481.5,148L475.5,145L482,137.5ZM481.5,148L474,153.5L467.5,151L475.5,145ZM459.5,135.5L452,145L447.5,142.5L455.5,132ZM605.5,200L606.5,213L597.5,214.5L597.5,202Z"/><path fill="#30f800" stroke="#30f800" stroke-width=".7" d="M482,137.5L475.5,145L470,142L477.5,134.5ZM473.5,131L464.5,139L459.5,135.5L469,127.5ZM475.5,145L467.5,151L462,149.5L470,142ZM470,142L462,149.5L456.5,147.5L464.5,139ZM464.5,139L456.5,147.5L452,145L459.5,135.5Z"/><path fill="#28f800" stroke="#28f800" stroke-width=".7" d="M477.5,134.5L470,142L464.5,139L473.5,131Z"/><path fill="#f8a800" stroke="#f8a800" stroke-width=".7" d="M578,92L592.5,100L593.5,102.5L577.5,97ZM577.5,97L593.5,102.5L591,108L576,101.5ZM588,113L601,122.5L595.5,127L583.5,118ZM607.5,112L619.5,124.5L616,129.5L605,117.5ZM430,188.5L425.5,201L416.5,199L421,186ZM423.5,294.5L433,305.5L427.5,308L417,296Z"/><path fill="#f8a000" stroke="#f8a000" stroke-width=".7" d="M591,108L605,117.5L601,122.5L588,113ZM428,174.5L421,186L413.5,183.5L420.5,171.5ZM423.5,254.5L428,266.5L418,268L413.5,254.5ZM424,280.5L431,292.5L423.5,294.5L415.5,282Z"/><path fill="#f89800" stroke="#f89800" stroke-width=".7" d="M592.5,100L604,112L607.5,112L593.5,102.5ZM593.5,102.5L607.5,112L605,117.5L591,108ZM417,296L427.5,308L428,305L415.5,294.5Z"/><path fill="#f8b800" stroke="#f8b800" stroke-width=".7" d="M601,122.5L611,134.5L605.5,139L595.5,127ZM433.5,215L431.5,228L421,227.5L422.5,214ZM484,255.5L484.5,268.5L474.5,267.5L473.5,255ZM484.5,268.5L486,280L476,280L474.5,267.5ZM428,266.5L433,279L424,280.5L418,268ZM431,292.5L439.5,303L433,305.5L423.5,294.5Z"/><path fill="#f8c800" stroke="#f8c800" stroke-width=".7" d="M595.5,127L605.5,139L598.5,143.5L589.5,132ZM439.5,191L436,203L425.5,201L430,188.5ZM436,203L433.5,215L422.5,214L425.5,201ZM495,243L495,255.5L484,255.5L484,243ZM484,243L484,255.5L473.5,255L474,242.5ZM473.5,255L474.5,267.5L465.5,266L464.5,254ZM495.5,267.5L496,279L486,280L484.5,268.5ZM439,290.5L446.5,301L439.5,303L431,292.5ZM535.5,329L529,338.5L525.5,337.5L530.5,328ZM530.5,328L525.5,337.5L522,336.5L525.5,327ZM525.5,327L522,336.5L518.5,336L520.5,326ZM520.5,326L518.5,336L515,334.5L515,324.5ZM529,338.5L522,342L520,342.5L525.5,337.5ZM525.5,337.5L520,342.5L518.5,342.5L522,336.5ZM522,336.5L518.5,342.5L516.5,342.5L518.5,336Z"/><path fill="#a0f800" stroke="#a0f800" stroke-width=".7" d="M509,162.5L508.5,170.5L500.5,169L502.5,162.5ZM500.5,169L498.5,176L488,172.5L492.5,166.5ZM429,144L418.5,153.5L414.5,149.5L425.5,140ZM470,171L469,183.5L462,183.5L463,170.5ZM463,170.5L462,183.5L454.5,182.5L456.5,170.5ZM456.5,170.5L454.5,182.5L445.5,180L450.5,169.5ZM569.5,179.5L574,191.5L563.5,192.5L557.5,182ZM557.5,182L563.5,192.5L551.5,194L545,185ZM545,185L551.5,194L538,196L534.5,187.5ZM534.5,187.5L538,196L526,198.5L525,188.5ZM526,251L525.5,259L516.5,259L516.5,249.5ZM525.5,259L524.5,268.5L516,269L516.5,259ZM600.5,293L594,307.5L588,306L594,292.5ZM594,292.5L588,306L581,304.5L587,292ZM497.5,289L499.5,296L491.5,296L488,290.5ZM588,306L579,317L573,315.5L581,304.5ZM484,295.5L488.5,301L482,301.5L476.5,295ZM476,302L482,310L477,311L469.5,304ZM467.5,314.5L478,321L475,322.5L463,316.5Z"/><path fill="#f8d000" stroke="#f8d000" stroke-width=".7" d="M445.5,180L439.5,191L430,188.5L436,177.5ZM434.5,253.5L438.5,265.5L428,266.5L423.5,254.5ZM465.5,266L467.5,278L459.5,277L457,265ZM433,305.5L445,314L441,316L427.5,308ZM534.5,318.5L530.5,328L525.5,327L528,317ZM528,317L525.5,327L520.5,326L522,316ZM522,316L520.5,326L515,324.5L515.5,314ZM540,330L532.5,339L529,338.5L535.5,329ZM541,341.5L527,339.5L526,340L538.5,340.5ZM538.5,340.5L526,340L525,341L535.5,339.5ZM535.5,339.5L525,341L523.5,341.5L532.5,339ZM532.5,339L523.5,341.5L522,342L529,338.5ZM518.5,336L516.5,342.5L514.5,342L515,334.5ZM515,334.5L514.5,342L512.5,341L511.5,333Z"/><path fill="#f89000" stroke="#f89000" stroke-width=".7" d="M420.5,171.5L413.5,183.5L407,180.5L414.5,168.5ZM421,186L416.5,199L408.5,196.5L413.5,183.5ZM425.5,201L422.5,214L413,212.5L416.5,199ZM422.5,214L421,227.5L411.5,226.5L413,212.5ZM421,241L423.5,254.5L413.5,254.5L411.5,240.5ZM418,268L424,280.5L415.5,282L409.5,268.5ZM415.5,282L423.5,294.5L417,296L409,283Z"/><path fill="#f88800" stroke="#f88800" stroke-width=".7" d="M414.5,168.5L407,180.5L401.5,177.5L409,165ZM409,165L401.5,177.5L398.5,175L405,161ZM421,227.5L421,241L411.5,240.5L411.5,226.5ZM409,283L417,296L415.5,294.5L405.5,282.5Z"/><path fill="#f88000" stroke="#f88000" stroke-width=".7" d="M413.5,183.5L408.5,196.5L402,194.5L407,180.5ZM413.5,254.5L418,268L409.5,268.5L405,254ZM409.5,268.5L415.5,282L409,283L402.5,268.5Z"/><path fill="#f87800" stroke="#f87800" stroke-width=".7" d="M407,180.5L402,194.5L397,192L401.5,177.5ZM401.5,177.5L397,192L395,189.5L398.5,175ZM416.5,199L413,212.5L405,210.5L408.5,196.5ZM408.5,196.5L405,210.5L398.5,208.5L402,194.5ZM413,212.5L411.5,226.5L403,225L405,210.5ZM411.5,226.5L411.5,240.5L403,239.5L403,225ZM411.5,240.5L413.5,254.5L405,254L403,239.5ZM405,254L409.5,268.5L402.5,268.5L398.5,253.5ZM398.5,253.5L402.5,268.5L397,268.5L392.5,253ZM402.5,268.5L409,283L405.5,282.5L397,268.5Z"/><path fill="#f87000" stroke="#f87000" stroke-width=".7" d="M402,194.5L398.5,208.5L393.5,206.5L397,192ZM397,192L393.5,206.5L393,204.5L395,189.5ZM405,210.5L403,225L396.5,223.5L398.5,208.5ZM398.5,208.5L396.5,223.5L391.5,221.5L393.5,206.5ZM393.5,206.5L391.5,221.5L392,219.5L393,204.5ZM403,225L403,239.5L396.5,238.5L396.5,223.5ZM396.5,223.5L396.5,238.5L391,237.5L391.5,221.5ZM391.5,221.5L391,237.5L393,235L392,219.5ZM403,239.5L405,254L398.5,253.5L396.5,238.5ZM396.5,238.5L398.5,253.5L392.5,253L391,237.5Z"/><path fill="none" stroke="#0e2600" stroke-width="1.25" d="M529,96L529,96L529,96.5L528.5,97L528.5,97.5L528.5,98L528,98.5L528,98.5L527.5,99L527.5,99.5L527,100L527,100L526.5,100.5L526,101L526,101L525.5,101.5L525,101.5L524.5,102L524,102L523.5,102.5L523,102.5L522.5,103L522,103L521.5,103.5L521,103.5L520.5,103.5L520,104L519.5,104L519,104L518,104.5L517.5,104.5L517,104.5L516.5,104.5L516,104.5L515,104.5L514.5,105L514,105L513.5,105L513,105L512,105L511.5,105L511,105L510.5,105L510,104.5L509,104.5L508.5,104.5L508,104.5L507.5,104L507,104L506.5,104L506,103.5L505.5,103.5L505,103.5L504.5,103L504,103L503.5,102.5L503,102L502.5,102L502,101.5L502,101.5L501.5,101L501,100.5L501,100L500.5,100L500.5,99.5L500,99L500,98.5L499.5,98L499.5,98L499.5,97.5L499,97L499,96.5L499,96L499,95.5L499,95L499,94.5L499,94L499,93.5L499.5,93L499.5,92.5L499.5,92L500,91.5L500,91L500.5,91L500.5,90.5L501,90L501,89.5L501.5,89L502,88.5L502.5,88L503,87.5L503.5,87.5L504,87L504.5,86.5L505,86L505.5,86L506,85.5L506.5,85.5L507,85L508,84.5L508.5,84.5L509,84.5L510,84L510.5,84L511,84L512,84L512.5,83.5L513.5,83.5L514,83.5L514.5,83.5L515.5,83.5L516,83.5L517,84L517.5,84L518,84L519,84L519.5,84.5L520,84.5L521,85L521.5,85L522,85.5L522.5,85.5L523,86L523.5,86.5L524,87L524.5,87L525,87.5L525.5,88L526,88.5L526.5,89L527,89.5L527,89.5L527.5,90L527.5,90.5L528,91L528,91.5L528.5,92L528.5,92.5L528.5,93L529,93.5L529,94L529,94.5L529,95L529,95.5L529,96M543.5,99L543.5,100L543,101L543,101.5L542.5,102.5L542,103L541.5,104L541,104.5L540.5,105.5L540,106L539.5,107L538.5,107.5L538,108.5L537,109L536.5,109.5L535.5,110L535,111L534,111.5L533,112L532,112.5L531,112.5L530,113L529.5,113.5L528.5,113.5L527.5,114L526,114L525,114.5L524,114.5L523,114.5L522,115L521,115L519.5,115L518.5,115.5L517.5,115.5L516.5,115.5L515,115.5L514,116L513,116L511.5,116L510.5,116L509.5,116L508.5,116L507,116L506,115.5L505,115.5L504,115.5L503,115L502,115L501,114.5L500,114.5L499,114L498,113.5L497,113L496,112.5L495,112.5L494,112L493.5,111.5L492.5,111L491.5,110.5L491,109.5L490,109L489.5,108.5L489,108L488.5,107L487.5,106.5L487,106L486.5,105L486.5,104.5L486,103.5L485.5,103L485,102L485,101L485,100.5L484.5,99.5L484.5,98.5L484.5,98L484.5,97L484.5,96L484.5,95L485,94L485,93L485.5,92L486,91L486,90L486.5,89L487,88.5L488,88.5L489,88.5M539,89L540,88.5L541,88.5L541.5,89L542,90L542.5,91L542.5,91.5L543,92.5L543.5,93.5L543.5,94L543.5,95L543.5,96L544,96.5L543.5,97.5L543.5,98.5L543.5,99M559.5,99L559,100L558.5,101.5L558,102.5L557.5,103.5L556.5,105L556,106L555,107L554,108.5L553,109.5L552,111L551,112L549.5,113L548.5,114.5L547,115.5L545.5,116.5L544,118L543,119L541.5,120L540,121L538.5,122L537,123L535.5,123.5L534,124.5L532.5,125L531,125.5L529.5,126L528,126L526.5,126.5L525,126.5L523.5,126.5L522,126.5L520.5,127L519,127L517,127L515.5,127.5L514,127.5L512.5,127.5L511,128L509.5,128L508,128L506,128L504.5,128L503,128L501.5,128L500,127.5L499,127.5L497.5,127.5L496,127L494.5,126.5L493,126.5L492,126L490.5,125.5L489,125L488,124L486.5,123.5L485.5,123L484,122.5L483,121.5L482,120.5L481,120L480,119L478.5,118L478,117L477,116L476,115L475,114L474.5,112.5L473.5,111.5L473,110.5L472.5,109L472,108L471.5,106.5L471,105.5L471,104L470.5,103L470.5,101.5L470.5,100L470.5,99L470.5,97.5L471,96L471.5,96M558,91L559,90.5L559.5,91.5L560,92.5L560,93.5L560,94.5L560,95.5L560,96.5L560,98L559.5,99M576,101.5L575,103.5L574,105L573,106.5L572,108.5L571,110L569.5,111.5L568,113L567,114.5L565.5,115.5L564,117L562.5,118L561,119L559.5,120.5L557.5,121.5L556,122.5L554,123.5L552,125L550,126L548,127.5L546,129L543.5,130.5L541.5,132.5L539.5,134L537,135L535,136.5L533,137L531,138L529.5,138.5L527.5,139L525.5,139L523.5,139L521.5,139L520,139.5L518,139.5L516,140L514,140.5L512,141L510.5,141.5L508.5,142L506.5,142.5L505,142.5L503,142.5L501.5,143L499.5,142.5L498,142.5L496,142.5L494.5,142L493,141.5L491,141L489.5,140.5L487.5,140L486,139.5L484.5,138.5L482.5,137.5L481,136.5L479.5,135.5L477.5,134.5L476,133.5L474.5,132L473,131L471.5,129.5L470,128.5L468.5,127L467,125.5L466,124L464.5,122.5L463.5,121L462.5,119.5L461.5,118L460.5,116.5L459.5,115L459,113.5L458,112L457.5,110.5L457,108.5L457,107L456.5,105.5L456.5,104M578,91.5L578,93L578,94.5L577.5,96.5L577,98L576.5,100L576,101.5M591,108L590,109.5L589,111.5L587.5,113.5L586,115L584.5,117L582.5,119L580.5,120.5L578.5,122.5L576.5,124L574.5,126L572.5,127.5L570,129L568,130.5L566,132L563.5,133L561.5,134L559,135.5L557,136.5L554.5,137.5L552,138.5L550,139.5L547.5,140.5L545,141.5L542,143L539.5,144.5L537,146L534.5,147.5L532,148.5L529.5,149.5L527.5,150L525,150L523,150.5L520.5,150.5L518.5,151L516,151.5L514,152L512,152.5L510,153.5L507.5,154L505.5,154.5L503.5,154.5L501.5,154.5L499.5,154.5L497.5,154L495.5,153.5L493.5,153L491.5,152.5L489.5,151.5L487,150.5L485,149.5L482.5,148.5L480.5,147.5L478.5,146.5L476.5,145.5L474,144.5L472,143.5L470,142L468,141L466,140L464,138.5L462.5,137.5L460.5,136L459,135L457,133.5L455.5,132L454,131L453,129.5L451.5,128L450,126.5L449,125L448,123.5L447,121.5L446,120L445.5,118L444.5,116.5L444,114.5L444.5,114M593.5,100L594,100L593.5,102L593,104L592,106L591,108M605,117.5L603.5,119L602,121L600.5,123L598.5,124.5L596.5,126.5L594.5,128L592.5,130L590,131.5L587.5,133.5L585,135L582.5,137L579.5,138.5L577,140L574,141.5L571,143L568.5,144.5L565.5,146L562.5,147L560,148.5L557,149.5L554.5,150.5L551.5,151.5L549,152L546,153L543.5,153.5L541,154L538,155L535,156.5L532,158L529,159L526.5,160L524,160.5L521.5,160.5L519,160.5L516.5,161L514,161.5L511.5,162L509,162.5L507,162.5L504.5,162.5L502,162.5L499.5,162L497,161.5L494.5,161L492,160L489.5,159L486.5,158L484,157L481.5,156L478.5,155L476,154L473.5,153L471,152L468.5,151.5L466,150.5L464,150L462,149.5L460,148.5L458,148L456,147.5L454.5,146.5L452.5,145.5L451,144.5L449.5,143.5L447.5,142.5L446,141.5L444.5,140L443,138.5L441.5,137.5L440,136L439,134.5L438,132.5L436.5,131L436,129L435,127.5L435.5,127M607,111L608,111.5L607,113.5L606,115.5L605,117.5M616,129.5L614,131.5L612.5,133L610.5,135L608.5,136.5L606.5,138.5L604,140L601.5,141.5L599,143L596.5,144.5L593.5,146.5L590.5,148L587.5,149.5L584.5,150.5L581.5,152L578.5,153.5L575,155L572,156L568.5,157.5L565.5,158.5L562,159.5L559,160.5L556,161.5L552.5,162.5L549.5,163L546.5,164L543.5,164.5L540.5,165L537.5,165.5L534.5,166L531,167.5L528,169L525,170.5L522,171L519.5,171L516.5,170.5L514,171L511.5,170.5L508.5,170.5L506,170L503,169.5L500,169L497,168L494,167L490.5,166L487.5,165L484,164L480.5,163L477.5,162L474.5,161L471.5,160.5L469,160.5L466.5,160L464,160L462,160L459.5,159.5L457.5,159.5L456,159L454,158.5L452,158L450,157.5L448,156.5L446,156L443.5,154.5L441.5,153.5L439.5,152.5L437.5,151L435.5,149.5L433.5,148L432,146.5L430,145L428.5,143.5L427.5,142L426,140.5L425,138.5L425,138M619,124.5L618.5,125.5L617.5,127.5L616,129.5M624.5,143.5L623,145L621.5,146.5L619.5,148L617.5,149.5L615.5,151L613,152.5L610.5,153.5L608,155L605.5,156L602.5,157L600,158.5L597,159.5L594,160.5L590.5,161.5L587.5,162.5L584,164L580.5,165L576.5,166L572.5,167.5L569,168.5L565,169.5L561,171L557,172L553.5,173L550,174L546.5,174.5L543,175.5L539.5,176L536,176.5L533,177L529.5,178L526,179.5L522.5,180.5L519.5,181L517,180.5L514,180.5L511,180L508,179L504.5,178L501.5,177L497.5,176L494,174.5L490,173L486,172L482,171.5L478.5,171L475.5,171L472.5,171L469.5,171L467,171L464.5,170.5L462,170.5L459.5,170.5L457.5,170.5L455,170.5L453,170L450.5,169.5L448.5,169L445.5,168L443,167L440.5,166L437.5,165L435,163.5L432.5,162.5L430,161L427.5,160L425,158.5L423,157L421,156L419.5,154.5L417.5,153L416,151.5L415,150L413.5,148.5M627.5,140L626,142L624.5,143.5M631.5,158L629.5,160L627.5,161.5L625,163L623,164L620.5,165.5L618,166.5L615.5,168L612.5,169L610,170L607,171L604.5,172L601.5,173L598.5,174L595.5,174.5L592,175.5L589,176L586,176.5L582.5,177.5L579.5,178L576,178.5L572,179L568,179.5L564,180.5L559.5,181.5L555,182.5L550.5,184L546,185L541.5,186L537.5,187L534,187.5L530.5,188L527,188.5L523.5,189L520,190.5L517,190.5L514,190L511,189.5L507.5,188.5L503.5,187L499.5,185.5L495,184L490.5,183L487,183L483.5,183L480,183L477,183L474,183.5L471,183.5L468.5,183.5L466,183.5L463.5,183.5L461,183.5L458.5,183L455.5,182.5L452.5,182L449,181L445.5,180L442,179L439,178L435.5,177L432.5,176L429,175L426.5,174L423.5,172.5L421,171.5L418.5,170.5L416,169.5L414,168L412,167L410,165.5L408.5,164.5L407,163L405.5,161.5L406,161M633.5,155.5L633.5,156.5L631.5,158M630,175.5L628,177L625.5,178.5L623.5,179.5L621,180.5L618.5,182L616,183L613.5,184L610.5,185L608,185.5L605,186.5L602,187.5L599.5,188L596.5,189L594,189.5L591,190L589,190.5L586.5,190.5L584,191L582,191L579,191L576,191.5L573,191.5L569,192L565.5,192.5L561,192.5L557,193L552.5,193.5L547.5,194.5L542.5,195L537.5,196L532.5,197L528,198L524.5,198.5L521,199L517,200L514,199.5L510.5,198.5L506.5,197.5L502,196L497.5,195.5L494,196L490.5,196L488,196.5L485.5,197L482.5,197L480,197L476.5,197L473.5,196.5L470,196.5L466.5,196L463,195.5L459,194.5L455.5,194L451.5,193L447.5,192.5L443.5,191.5L440,191L436,190L432.5,189L429,188.5L425.5,187.5L422.5,186.5L419.5,185.5L416.5,184.5L414,183.5L411.5,182.5L409,181.5L407,180.5L404.5,179.5L403,178.5L401,177.5L399.5,176L398,175M632,174.5L630,175.5M631,191L629,192L627,193L625,194L623,195L620.5,195.5L618.5,196.5L616,197.5L613,198L610.5,199L608,199.5L605,200L602,201L599,201.5L596.5,202L593.5,202.5L591,203L588.5,203.5L586,204L583.5,204L581,204.5L578.5,204.5L575.5,205L571.5,205.5L567.5,205.5L563.5,206L559,206.5L554.5,206.5L550,207L545.5,207L541,207.5L536.5,207.5L532,207.5L527.5,207.5L522.5,208L517.5,209L514,209L510,208L506.5,208.5L503.5,209L500,209L496.5,208.5L493,208.5L489.5,208.5L486,208L482.5,208L478.5,208L475,207.5L471.5,207L467.5,207L464,206.5L460,206L456,205.5L452,205L448.5,204.5L444.5,204L440.5,203.5L436.5,203L432.5,202L428.5,201.5L425,200.5L421.5,200L418,199L415,198.5L412,197.5L409,197L406.5,196L404,195L402,194.5L400,193.5L398,192.5L396.5,191.5L394.5,190.5L394.5,189.5M631,190L631,191M637.5,205.5L635.5,206L633,207L630.5,208L628,208.5L625,209.5L622,210L619,210.5L616,211.5L612.5,212L609.5,212.5L606,213L603,213.5L599.5,214.5L596.5,215L593,215L590,215.5L586.5,216L583.5,216.5L580.5,217L577.5,217.5L575,218L572,218L568.5,218.5L565,219L561,219L556.5,219.5L552.5,219.5L548,220L544,220L539.5,220L535.5,220.5L531,220.5L527,220.5L523,220.5L518,220.5L514,219L510.5,219.5L506.5,219.5L503,219.5L499,219.5L495,219.5L491.5,219.5L488,219L484,219L480.5,219L477,218.5L473,218.5L469.5,218L465.5,218L461.5,217.5L457.5,217.5L453.5,217L449.5,217L445.5,216.5L441.5,216L437.5,215.5L433.5,215.5L429.5,215L425.5,214.5L421.5,214L418,213L414.5,212.5L411.5,212L408.5,211.5L405.5,210.5L403,210L400.5,209.5L398.5,208.5L396.5,208L394.5,207L393,206L391.5,205.5M639.5,221L638,221.5L635.5,222L633,222.5L630,223L627,223.5L624,224L620.5,224.5L617,225L613.5,225.5L610,226L606.5,226L603,226.5L599.5,227L596,227L592.5,227.5L589.5,228L586,228.5L583,228.5L579.5,229L576.5,229.5L573,229.5L569.5,230L566,230.5L562.5,231L558.5,231L554.5,231L550,231L546,231L542.5,231.5L539,232L535,232.5L530.5,232L526.5,232L522,231.5L517.5,229.5L514,229.5L510,230.5L506.5,230.5L502.5,230.5L498.5,230.5L494.5,230.5L490.5,230.5L487,230.5L483,230.5L479.5,230.5L475.5,230L472,230L468,230L464,229.5L460,229.5L456,229.5L452,229.5L448,229L444,229L440,228.5L436,228.5L431.5,228L427.5,228L423.5,227.5L420,227.5L416.5,227L413,226.5L409.5,226L406.5,225.5L404,225L401,224.5L398.5,224L396.5,223.5L394.5,222.5L392.5,222L390.5,221.5L389.5,220.5M637,237L634.5,237.5L632,237.5L629.5,238L626.5,238L623,238.5L620,238.5L616,238.5L612.5,239L608.5,239L605,239L601.5,239L598,239L594.5,239.5L591.5,239.5L588,240L585,240L581.5,240.5L578,240.5L574.5,241L570.5,241L567,241L563.5,241.5L560.5,242L557.5,242.5L554,243L550.5,243.5L546.5,243.5L542.5,243.5L538.5,243.5L534,243L530,243L525.5,242L521,240L517.5,239L514,239.5L510,241.5L506,242.5L502,242.5L498,243L494,243L490,243L486,243L482,243L478,242.5L474.5,242.5L471,242L467.5,242L463.5,241.5L460,241.5L456.5,241.5L452.5,241L449,241L444.5,241L440.5,241L436.5,241L432,241L428,241L424,241L420,241L416.5,241L413,240.5L409.5,240.5L406.5,240L403.5,239.5L401,239.5L398.5,239L396.5,238.5L394,238L392,237.5L390.5,237M631.5,251.5L629,251.5L626,251.5L623,251.5L620,251L616.5,251L613.5,251L610,251L607,251L604,251L601,251L597.5,251L594.5,251L591.5,251L588,251L585,251L582,251.5L579,251.5L576,252L573,252.5L570,253L567,253.5L564,253.5L560.5,254L556.5,254L552.5,254L549,254L545,254L541,254L537,254L533,253.5L529,252L524.5,250L521,249L517.5,249L514,250L510.5,252.5L506.5,254L502,254.5L498,255L494,255.5L489.5,256L486,255.5L482,255.5L478,255.5L474.5,255L471,254.5L467.5,254L464,254L460.5,253.5L457.5,253L454,253L450.5,253L447,253L443,253L439,253.5L435,253.5L430.5,254L426.5,254L422.5,254.5L419,254.5L415,254.5L412,254.5L408.5,254.5L406,254.5L403,254L400.5,254L398,253.5L396,253.5L394,253L392,253M618,263L616,263L614,262.5L611.5,262.5L609.5,262.5L607,262.5L604.5,262.5L602.5,262.5L600,263L597.5,263L595.5,263.5L593,263.5L590.5,264L588,264L585,264.5L582.5,265L579,265L576,265L572.5,265.5L569,265L565.5,265L561.5,264.5L558,264.5L554.5,264.5L550.5,264.5L547,264.5L543.5,264.5L539.5,264L535.5,263L531.5,262L527.5,260L524,259L520.5,258.5L517.5,259L514,260L510.5,262.5L506.5,265L502.5,266L498.5,267L494.5,267.5L490.5,268L486,268.5L482.5,268L478.5,268L475,267.5L471.5,267L468.5,266.5L465,266L462,265.5L459,265L456,265L452.5,264.5L449.5,264.5L446,264.5L442.5,265L438.5,265.5L434.5,266L431,266.5L427,267L423,267.5L419.5,267.5L416,268L413,268L410,268.5L407.5,268.5L404.5,268.5L402.5,268.5L400,268.5L398,268.5M613.5,277L612.5,277L611,277L609,277L607.5,277L605.5,277.5L603.5,277.5L601.5,277.5L599.5,278L597,278L595,278L592.5,278.5L590,278.5L587,278.5L584,278.5L581,278.5L577.5,278L574,278L570.5,278L567,277.5L563.5,277L560,276.5L556,276L552.5,276L549,276L545.5,275.5L542,275L538,274L534,272L530,270.5L526.5,269L523.5,268.5L520.5,268.5L517,269L514,270L510.5,272.5L507,275.5L503,277L499,278.5L495.5,279L491.5,279.5L487.5,280L484,280L480,280L476.5,280L473.5,279.5L470,278.5L467,278L464,277.5L461,277L458.5,276.5L455,276.5L452,276.5L449,276.5L446,277L442.5,277.5L439,277.5L435.5,278.5L432,279L429,279.5L425.5,280L422,281L419,281.5L416,282L413.5,282L411,282.5L408.5,283L406.5,283L404.5,283.5M610,294L608.5,293.5L606.5,293.5L604.5,293.5L603,293L600.5,293L598.5,293L596,292.5L594,292.5L591.5,292.5L588.5,292L586,292L583,292L580,291.5L577,291L574,291L571,290.5L567.5,290L564,289.5L561,289.5L558,289.5L554.5,289L551,289L548,288.5L544.5,288L540.5,287L537,285L533,283.5L529.5,282L526.5,281.5L523.5,281L520,280.5L517,280.5L514,281L511,282.5L507.5,284.5L504,287L500.5,288L496.5,289L493,290L489.5,290L486,290.5L483,290.5L479.5,290L476.5,289.5L473.5,289L471,288.5L468,287.5L465.5,287L462.5,287L459.5,287.5L456.5,287.5L453.5,288L450.5,288.5L447.5,289L444,289.5L441,290L438,291L435,291.5L432,292L429.5,293L426.5,293.5L424,294L421.5,295L419,295.5L417,296L415,296.5M603,309.5L602.5,310L600.5,309L598.5,308.5L596.5,308L594.5,307.5L592.5,307L590,306.5L587.5,306L585,305.5L582.5,304.5L580,304L577,303.5L574.5,303L571.5,302.5L568.5,302L566,302L563,301.5L560,301.5L557.5,301L554.5,301L551.5,301L548.5,301L545.5,300.5L542,299.5L538.5,298L535,297L532,296L529,295L526,294.5L523,294L520,293.5L517,293L514,292.5L511,292.5L508,293.5L505,295L502,295.5L499,296L496,296L493,296L490,296L487,296L484.5,295.5L481.5,295.5L479,295L476.5,295L473.5,295L471,295L468.5,295.5L465.5,295.5L463,296L460,297L457.5,297.5L454.5,298.5L451.5,299.5L449,300.5L446,301L443.5,302L441,303L438.5,303.5L436,304.5L433.5,305.5L431.5,306.5L429.5,307L427,308L426.5,307.5M591,321.5L590,321.5L588.5,321L586.5,320L585,319L583,318.5L580.5,317.5L578.5,317L576.5,316.5L574,315.5L572,315L569.5,314.5L567,314L565,313.5L562.5,313L560,312.5L557.5,312L555,312L552.5,312L550,311.5L547,311L544.5,310.5L541.5,309.5L538.5,308.5L536,308L533,307.5L530,306.5L527.5,306L524.5,305.5L522,305L519.5,304.5L516.5,303.5L514,303L511.5,302.5L509,302.5L506,303L503.5,303L501,302.5L498.5,302L496,301.5L494,301.5L491.5,301L489,301L486.5,301L484.5,301L482,301.5L479.5,301.5L477.5,302L475,302.5L472.5,303L470,303.5L468,304L465.5,305L463,306L461,306.5L458.5,307.5L456,308.5L454,309.5L452,310.5L449.5,311.5L447.5,312.5L445.5,313.5L443.5,315L442,316L441,315.5M576,329.5L576,331L574.5,330L573,329L571.5,328L569.5,327.5L568,326.5L566,326L564.5,325L562.5,324.5L560.5,324L559,323.5L557,323L555,323L553,322.5L550.5,322L548.5,321.5L546.5,321L544,320.5L542,320L539.5,319.5L537,319L535,318.5L532.5,318L530,317.5L528,317L525.5,316.5L523,316L521,315.5L518.5,315L516.5,314L514,313.5L512,312.5L509.5,312L507.5,311.5L505,311.5L503,311L501,310.5L499,310L497,309.5L495,309.5L493,309L491,309L489,309L487,309.5L485,309.5L483,309.5L481.5,310L479.5,310.5L477.5,310.5L476,311L474,311.5L472,312.5L470.5,313L468.5,313.5L467,314.5L465.5,315.5L463.5,316L462,317L460.5,318L459,319L458,320L457.5,319M559.5,334.5L559,335.5L558,335L557,334.5L556,334L554.5,333.5L553.5,333L552,332.5L550.5,332.5L549,332L547.5,331.5L546,331L544.5,331L543,330.5L541.5,330L539.5,330L538,329.5L536,329L534.5,329L532.5,328.5L531,328L529,328L527,327.5L525,327L523.5,327L521.5,326.5L519.5,326L517.5,325.5L516,324.5L514,324L512,323L510.5,322L508.5,321.5L507,321L505,320.5L503.5,320L502,319.5L500,319L498.5,319L497,318.5L495.5,318L494,318L492.5,318L491,318L489.5,318L488,318.5L486.5,318.5L485,319L484,319L482.5,319.5L481,320L480,320L479,320.5L477.5,321L476.5,321.5L475.5,322L474.5,322.5L473.5,323L473,322M542,340.5L541.5,341L540.5,341.5L540,341L539,340.5L538,340.5L536.5,340L535.5,339.5L534.5,339.5L533.5,339L532,339L531,338.5L530,338.5L528.5,338L527,338L526,337.5L524.5,337.5L523.5,337L522,336.5L520.5,336.5L519.5,336L518,335.5L516.5,335L515.5,334.5L514,334L512.5,333.5L511.5,333L510,332.5L509,332L507.5,331.5L506.5,331L505,330.5L504,330L503,329.5L501.5,329L500.5,328.5L499.5,328.5L498.5,328L497.5,328L496.5,327.5L495.5,327.5L494.5,327.5L493.5,327.5L492.5,327.5L491.5,327.5L491,328L490,328L489.5,328L489,327.5M519,342.5L518,342.5L517.5,342.5L517,342.5L516,342.5L515.5,342L514.5,342L514,341.5L513.5,341.5L512.5,341L512,341L511,340.5L510.5,340L510,339.5L509,339M514,94L519,94L524.5,95L529.5,96L534.5,97.5L539.5,98.5L545,99.5L550,99.5L556,99L561.5,99L567.5,99.5L573,101L578.5,102.5L584,104.5L589,106.5L594,109.5L599,112.5L603.5,116L608,120L612,124.5L615.5,129L618.5,133.5L621.5,138.5L624.5,143.5L627.5,148L630,153L631.5,158.5L632,164.5L631,171L630,177L629.5,182.5L630,187.5L631.5,192.5L634,197.5L636.5,202.5L638,207.5L639.5,213L639.5,218.5L639,224L638,229M573.5,106L578.5,108.5L583.5,110.5L588.5,113L593,116L597.5,119.5L601.5,123L605.5,127L609,131.5L612.5,136L615.5,140.5L618.5,145L621.5,150L624,155L625.5,160L626,166L625.5,172L624.5,177.5L623.5,183L624,188L625.5,193L627.5,197.5L629.5,202.5L631,207.5L632.5,212.5L633.5,217.5L634,223L634,228L633.5,233.5L633,238.5L631.5,243.5L629,248.5L626,253L622,257L618,260.5L615.5,264.5L614,269.5L613,274.5L612.5,280.5L611.5,286L610.5,292L609,298L606.5,303L603.5,308M542,103.5L546.5,104.5L551.5,105L557,105.5L562,106.5L567,109L571.5,111L576,113.5L580.5,116L585,119L589.5,122L593.5,125L597.5,129L601,133L604,137.5L607.5,141.5L610.5,146L613.5,150.5L616,155L618.5,159.5L619.5,165L619,171L618.5,176.5L617.5,182L617.5,187L618,192L620,196.5L621.5,201L623,206L624,210.5L625,215.5L625.5,220.5L626,225.5L626,230.5L625.5,235.5L624.5,240.5L622.5,245L620,249.5L617,253.5L613.5,257L611,261L609.5,265.5L609,270.5L608.5,276L608,281.5L607,287.5L606,293L604.5,298.5L602.5,304L599.5,309L596.5,314L593,318L589,322L584.5,325.5L580,329L574.5,330.5M566.5,114.5L570.5,117.5L575,120.5L579,123L583,126L587,129L590.5,133L593.5,136.5L596.5,141L600,145L603,148.5L606.5,153L609,157L611,162L612,167L612,172.5L611.5,178L610.5,183.5L610,188.5L611,193L612.5,197.5L614,202L615,206.5L615.5,211.5L616,216L616.5,221L616.5,225.5L616.5,230.5L616.5,235L615.5,239.5L613.5,244L611,248L609,252L606.5,256L605,260L604,264.5L604,270L603.5,275L603,280.5L602,286L601,291.5L599,296.5L597,301.5L595,306.5L592,311L588.5,315L585,319L581,322.5L577,326M514,94L518.5,96L523,98L527.5,100.5L531.5,103.5L535.5,106L539.5,108L544,110L548,111L552.5,112L557,113.5L561,116.5L564.5,119.5L568,123L571.5,126L575,129L578.5,132L581.5,135.5L585,139L587.5,143L590.5,147L593.5,150.5L597,154L600,158L602.5,162.5L604,167L604.5,172.5L604,178L603,183.5L602.5,188.5L603,193L604.5,197L606,201.5L606.5,206L606.5,210.5L606.5,215L607,219.5L607,224L607,228.5L606.5,233L606,237.5L604.5,242L603,246L601.5,250L600,254L598.5,258L598,262.5L598,267.5L598,273L597.5,278L596.5,283.5L595.5,288.5L594,293.5L592,298L590,303L587,307L584,311L581,315L577.5,318.5L574,322L570,325.5L566,328L562,331L557.5,333.5L553,335.5L549,338L544,339.5M558.5,121L561.5,124.5L564,128L567,131.5L570,135L573,138.5L576,142L578.5,145.5L581,149L584,153L587,156L590.5,159.5L593.5,163L595.5,167.5L596.5,172.5L596.5,177.5L595.5,183L595,188L595,192.5L596,197L597.5,201L598,205.5L598,210L597.5,214.5L597.5,218.5L597.5,223L597.5,227.5L597,231.5L596.5,236L596,240L595,244.5L593.5,248.5L592,252L591.5,256.5L591.5,261L591.5,266L591.5,271L591,276L590.5,281L589,286L587.5,290.5L586,295L584,299.5L581.5,303.5L579,307.5L576,311L573,315L570,318.5L566.5,322M534.5,111L537.5,113.5L541,116.5L544,118.5L547.5,120L551,122L554,124.5L557,128L559.5,132L561.5,136L564,139.5L566.5,143L568.5,146.5L571,150.5L573,154L575.5,157L578.5,160.5L582,163L585,166.5L587,171L588,175.5L588,180.5L588,185.5L588,190L588.5,194.5L589.5,199L590,203.5L590,208L589.5,212.5L589,216.5L588.5,221L588.5,225L588,229.5L588,233.5L587.5,237.5L587,242L585.5,245.5L584.5,249.5L584,253.5L584,258L584,263L584,268L584,273L583,277.5L582,282L581,286.5L579.5,291L577.5,295.5L575.5,299L573.5,303L571,307L568.5,310.5L566,314.5L563,317.5L560.5,321L557.5,324.5L554,327.5L551,330L547.5,333L544,336L540.5,339M548,127.5L550.5,130.5L553,134L555,138L556.5,142L558.5,145.5L560,149.5L562,153L564,156.5L566,159.5L568.5,163L571,166L574,168.5L577,172L578.5,176L580,180.5L581,185L581.5,189.5L582,194.5L583,199L583.5,203.5L583,208L581.5,212.5L580.5,217L580,221L579.5,225L579.5,229.5L579,233.5L578.5,237.5L577.5,241.5L576.5,245L576,249L576,253.5L576.5,258L576,262.5L576,267L575,271.5L574.5,276L573.5,280.5L572.5,285L571,289L569.5,293L568,297L566,301L564.5,305L562,308.5L560,312L557.5,316L555.5,319.5M514,94L517,97L520,100L522.5,103.5L525,107L527.5,110.5L530,114L532.5,118L534.5,121L536.5,124.5L538.5,127.5L541,130.5L543,133L545.5,135.5L547.5,138.5L549,142.5L550.5,146L552,150L553.5,154L555,157.5L556.5,161L558,164L560,167.5L562,170.5L564.5,173.5L567,176.5L569.5,180L571.5,183.5L573,188L574,192.5L574.5,197L575.5,201.5L576,206.5L575,211L573.5,215.5L572,220L571.5,224L571,228L570.5,232.5L569.5,236L568.5,240L567.5,243.5L568,248L568,252.5L568,256.5L567,261L566.5,264.5L565.5,268.5L565,273L564.5,277.5L563.5,281.5L562.5,286L561.5,290L560.5,294.5L559,298.5L557.5,302L556,306L554,310L552.5,313.5L550.5,317L548,320L545.5,322.5L543.5,325.5L541,329L538.5,332L536,335L533,338L530.5,341.5L527.5,344M536,135.5L538,139L539.5,141.5L541,144L542.5,147L544,150.5L545.5,154L546.5,157.5L547.5,161.5L548.5,165L550,168L551,171.5L552.5,175L554,178L556.5,181L559,184L561.5,187.5L563,191.5L564,196L564.5,200.5L565.5,205L565.5,210L564.5,214.5L563,219L562.5,223L561.5,227L561,231L559.5,235L559,238.5L559,243L559.5,247L559,251.5L558.5,255L557.5,258.5L556.5,262.5L556,266.5L555.5,270L555,274L554.5,278.5L554,283L553.5,287.5L552.5,292L551.5,296L550.5,300L549,304L547.5,307.5L546,310.5L544.5,313.5L542.5,316.5M524,114.5L525.5,118.5L526.5,122.5L528,126.5L529,131L530,135L531,139L532,142.5L533,146L534.5,148.5L535.5,151.5L537,154L538,156.5L539,160L540,163.5L540.5,167L541.5,171L542,174.5L543,178L543.5,181.5L545,184.5L547,187.5L549,190L551.5,193.5L552.5,198L553,202.5L554,207L553.5,211.5L552.5,216.5L551.5,220.5L551,224.5L550,228.5L549.5,232.5L549.5,236.5L550,241L549.5,245L549,249L548.5,252.5L548,256L547.5,259.5L546.5,263.5L546,267L545.5,271L545,274.5L544.5,278.5L544,283L543.5,287.5L543,292L542.5,295.5L541.5,299.5L540,302.5L539,306L538,309L536.5,312.5L535.5,316L534,319.5L533,322.5L531.5,326L530,329.5L528.5,333L526.5,336M525.5,139L526.5,143L527,147L527.5,150L528.5,153.5L529,156.5L529.5,160L530.5,163L531,165.5L532,168.5L532.5,171.5L533,175L533.5,179L533.5,182.5L534,186L534.5,189.5L535.5,192.5L537.5,195L539.5,198L541,202L541.5,206.5L542,211L541,215.5L540,220L539.5,224L539,228L539.5,232.5L539.5,236.5L539,240.5L538.5,244L538.5,248L538,251.5L537.5,255L537,258.5L536.5,261.5L536,264.5L535.5,268L534.5,271L534.5,274.5L534,278L533.5,282L533.5,286.5L533,291L532.5,295L532,299L531.5,303L530.5,306.5L530,310L529,313.5M514,94L515,97.5L515.5,101.5L516,105L517,109L517.5,112.5L518,116.5L518.5,120L519,124L519.5,128.5L520,132.5L520.5,137L520.5,141.5L521,145L521.5,149L521.5,152.5L522,156L522.5,159.5L522.5,163L523,166.5L523,170L523.5,173.5L523.5,177L524,180L524,183L524.5,186L525,189L525,192.5L525.5,195.5L526,199L527,202L529,205L529.5,209L529.5,214L529,218L528.5,222.5L528.5,226.5L528.5,230.5L528,234L527.5,238L527.5,241.5L527,244.5L526.5,247.5L526.5,250.5L526,253L525.5,256L525.5,259L525,262L525,265.5L524.5,269L524.5,273L524.5,277L524.5,282L524.5,286.5L524,291L524,295L523.5,299L523.5,303L523,307L522.5,310.5L522,314L521.5,317.5L521,321.5L520.5,325L520,328.5L519.5,331.5L518.5,335L518,338L517.5,341.5L516.5,343M515.5,140L515.5,144.5L515.5,148.5L515.5,152L515.5,155.5L515.5,158.5L515.5,162L516,165.5L516,168.5L516,172L516,175.5L516,178.5L516,182L516,185.5L516,189L516,192.5L516,195.5L516,199L516,202.5L516,205.5L516.5,208.5L517,211.5L517,216L516.5,220L516.5,223L516.5,226L516.5,229.5L516.5,233L516.5,236.5L516.5,240L516.5,243.5L516.5,247L516.5,250.5L516.5,254L516.5,257.5L516,260.5L516,264L516,267.5L516,271.5L516,275L516,279.5L516,283.5L516,288L516,292L516,296L516,299.5L516,303L515.5,307L515.5,310.5M511.5,116L511.5,120L511,124L511,128.5L510.5,133L510.5,138L510,142.5L510,147L510,151L509.5,154.5L509.5,158L509,161L509,163.5L509,166.5L508.5,169.5L508.5,172L508,175L508,178L507.5,181.5L507.5,184.5L507.5,187.5L507,191L507,194L506.5,197L506,200L505.5,204L506.5,209L506.5,213L506.5,216.5L506.5,220L506.5,224L506,228L506,232L506,236L506,240L506,244L506,248L506,252L506,256L506,260L506.5,264L506.5,267.5L506.5,271L506.5,274.5L507,278L507,281.5L507.5,284.5L507.5,287.5L508,291L508,294L508,297L508.5,300L508.5,303L509,306.5L509.5,309.5L509.5,313L510,316.5L510,320L510.5,323.5L511,327.5L511,331M505.5,142.5L505,147L504.5,151.5L504,155L503.5,158L503,160.5L502.5,163L502,165L501,167.5L500.5,170L499.5,172L499,175L498,177.5L497.5,180.5L496.5,183L495.5,186L495,190L495,194.5L495,199L497,204.5L497.5,208L497,211.5L496.5,215.5L496,219.5L496,223L496,227L495.5,231L495.5,235L495,239.5L495,244L495,248.5L495,252.5L495,257L495,261L495,265L495.5,269.5L495.5,273.5L496,277.5L496.5,281L497,284.5L497.5,288L498,291L499,293.5L499.5,295.5L500.5,297.5L501,300L501.5,302.5L502.5,305L503,308M514,94L512.5,97.5L511,101.5L509.5,105L508,109L506.5,112.5L505.5,116.5L504,120.5L503,125L502,129.5L501.5,135L501,140L500.5,145L499.5,149.5L499,153L498,156L497.5,158.5L496.5,160.5L495,162.5L494,164.5L492.5,166L491,168L489.5,170L488,172.5L486.5,175.5L485.5,179L485.5,183.5L485,188L485.5,192.5L487,198L488,202L488,206L487.5,209.5L487,213L486.5,217L486,221L485.5,224.5L485,229L484.5,233L484.5,237L484,241.5L484,246L484,250.5L484,254.5L484,259L484,263.5L484.5,268L484.5,272L485,276L486,280L486.5,284L487,287.5L488,290.5L489.5,293L490.5,295L492,296.5L493,298L494.5,300L495.5,302.5L496.5,305.5L497.5,308.5L498.5,311.5L499.5,315L500.5,318L502,321.5L503,325L504.5,329L505.5,333L507,337.5L508.5,339M496,142.5L495,146.5L494,150.5L493,153L491.5,155.5L490,157.5L488.5,159.5L486.5,161L484.5,162.5L482.5,164.5L480.5,166.5L479,169.5L477.5,173L477,177L476.5,181.5L476.5,186L477.5,191L479,196L479.5,200L478.5,203.5L478,207L477.5,211L477,214.5L476,218.5L475.5,222.5L475,226.5L475,230.5L474.5,234.5L474,239L474,243.5L473.5,247.5L473.5,252L473.5,256.5L474,260.5L474,265L474.5,269.5L475,273.5L475.5,278L476.5,282L477.5,286L478.5,289L480,292L481.5,294L483.5,295.5L485.5,297L487,298.5L488.5,301L490,303.5L491,306.5M500,114.5L498,118L496,122.5L494.5,127.5L493,132.5L492,137.5L491,142.5L490,146L488.5,149L486.5,151.5L485,153.5L482.5,155L480.5,157L478,158.5L475.5,160.5L473.5,163L471.5,166L470.5,170L469,174L468.5,178L468.5,182.5L469.5,187.5L470.5,192.5L470.5,196L469.5,200L469,203.5L468,207L467,211L466.5,215L465.5,219L465,223L464.5,227L464.5,231L464,235L464,239.5L464,243.5L464,248L464.5,252L464.5,256L465,260.5L465,265L465.5,269L466.5,273L467.5,277.5L468.5,281L469.5,285L471,288L472.5,291L474.5,293L476.5,295L478.5,297L480.5,299.5L482.5,301.5L484,304.5L486,307L487.5,310L489.5,313L491.5,316L493.5,319.5L495.5,322.5L497.5,326.5M486.5,139.5L485,143L483,146L481,148.5L479,150L476,152L473.5,153.5L471,156L468.5,158.5L466.5,161.5L465,165L463.5,168.5L462.5,172.5L461.5,177L462,181.5L462.5,186L462,190L461,194L459.5,197.5L458.5,201.5L458,205L457,209L456,213L455,217L454.5,221.5L454,225.5L453.5,229.5L453.5,234L454,238L454,242L454.5,246L455,250L455.5,254.5L456,258.5L456.5,262.5L457.5,267L458,271L459,275L460,279L461.5,282.5L463,286L465,289L467,292L469,294.5L471,297L473.5,299.5L475.5,302L478,304.5L480,307M514,94L510.5,97L507,100L503.5,103L500,106L497,109.5L494,113L491.5,117L489,121L486.5,126L485,130.5L483,135L481,139L479,142L476.5,144.5L474,146.5L471,148.5L468.5,150.5L465.5,153L463.5,156L461.5,159L459.5,162.5L458,166.5L456.5,170.5L455.5,174.5L455,178.5L454.5,182.5L453,186.5L451.5,190L450,194L448.5,197.5L447.5,201.5L446.5,205.5L445.5,210L445,214L444,218.5L443,222.5L442.5,227L442.5,231.5L443,235.5L443,240L444,244L444.5,248L445.5,252L446,256L447,260.5L448,264.5L449,268.5L450,272.5L451,277L452.5,281L454,284.5L456,288.5L458,291.5L460.5,294.5L462.5,297L465,300L468,302.5L470.5,304.5L473,307L475.5,309.5L478.5,312.5L481,315L483.5,318L486.5,320.5L489.5,323.5L492.5,327L495.5,330.5L499,332.5M477.5,134.5L475,137.5L472.5,140L469.5,142.5L466.5,144.5L464,147L461,150L459,153.5L457,157L455,160.5L453,164L451.5,167.5L450,171.5L448,175L446.5,178.5L444,182L442,186L440,189.5L438.5,193.5L437.5,198L436.5,202L435.5,206.5L434.5,210.5L433.5,215L432.5,219.5L432,224L431.5,228.5L431.5,233L431.5,237.5L432,242L433,246.5L434,250.5L435,255L436,259L437.5,263L439,267L440.5,271.5L441.5,275.5L443,279.5L444.5,284L446.5,288L448.5,291.5L451,295L453.5,298L456.5,300.5L459.5,303.5L462.5,305.5L466,308L469,310M490.5,109.5L487,112.5L483.5,116.5L480.5,120.5L478,124.5L475.5,128.5L472.5,132L469.5,134.5L466.5,137.5L463.5,140L460.5,142.5L458,145.5L455.5,149L453.5,152.5L451,156.5L449,160L447,163L444.5,166.5L442,170L439.5,173.5L436.5,176.5L434,180.5L432,184L430,188.5L428.5,192.5L427,197L425.5,201L424.5,205.5L423.5,210L422.5,215L421.5,219.5L421,224L420.5,229L420.5,233.5L420.5,238.5L421,243L422,248L423,252.5L424,256.5L425.5,261L427.5,265.5L429,269.5L431,274L432.5,278L434.5,282L436.5,286.5L438.5,290.5L441,294L444,298L447,301L450,304L453.5,306.5L457.5,308.5L461,311L464.5,313L468.5,315L472,317L475.5,319.5L479.5,322L483,324.5L487,327.5M469,127.5L466,130.5L462.5,133L459.5,136L456.5,139L453.5,142.5L451.5,146L449,149.5L446.5,153L444,156.5L441,159.5L438,162.5L435,166L432,169.5L429,173L426,176.5L423.5,180.5L421.5,185L419.5,189L418,193.5L416.5,198L415.5,202.5L414,207.5L413,212L412,217L411.5,222L411,226.5L411,231.5L411,236.5L411.5,241.5L412,246.5L413,251L414,256L415.5,260.5L417,265.5L418.5,270L420.5,274.5L423,278.5L425,283L427.5,287L430,291L432.5,295.5L435.5,299L439,302.5L442.5,305.5L446.5,308.5L450.5,311L454.5,313L459,315M514,94L509,95.5L504,97.5L499.5,99L495,101.5L490.5,104L486,106.5L482,109L478,112.5L474.5,116L471,119L467.5,122.5L464,125L460,128L456.5,130.5L453.5,134L450.5,137.5L448,141L445.5,145L442.5,148.5L439.5,151.5L436,154.5L432.5,157.5L429.5,161L426.5,164.5L423,168L420,171.5L417.5,175.5L415,180L413,184.5L411,189L409.5,193.5L408,198L407,203L405.5,208L404.5,212.5L404,217.5L403.5,222.5L403,228L403,233L403,238L403.5,243L404,248L405,253L406,258L407.5,263L409.5,268L411,273L413.5,277.5L415.5,282L418.5,286.5L421,291L424,295L427,299L430.5,303L434,306.5L438,309.5L442.5,312.5L447,315L452,316.5L456.5,318.5L461.5,320L466.5,321L471.5,321.5M462.5,120L458.5,122.5L454.5,125.5L451,128.5L448,132L445,136L442.5,139.5L439.5,143L436,146.5L432.5,149L428.5,152L425,155.5L421.5,159L418.5,163L415.5,166.5L412.5,170.5L410,175L407.5,179.5L405.5,184L404,188.5L402.5,193.5L401,198.5L400,203.5L398.5,208.5L398,213.5L397,218.5L396.5,224L396.5,229L396.5,234.5L396.5,239.5L397,245L397.5,250L398.5,255.5L400,260.5L401.5,266L403.5,271L405.5,276L407.5,280.5L410,285.5L413,290L416,294.5L419.5,299L422.5,303.5L426.5,307L430.5,311L435,314L440.5,315.5L446.5,316.5M485,101.5L480.5,103.5L476,106L471.5,108.5L467.5,111.5L463,114L459,116L454.5,119L450.5,122L447,125L444,129L441,133L438,136.5L434.5,140L431,143L427,146L423,149L419.5,152.5L416,156.5L412.5,160L409.5,164L406.5,168.5L404,173L402,177.5L400,182.5L398.5,187L397,192L395.5,197L394.5,202.5L393.5,207.5L392.5,212.5L391.5,218L391,223.5L391,229L391,234L391,239.5L391.5,245L392.5,250.5L393.5,256L394.5,261.5L396.5,267L399,272L401.5,276.5M458,111.5L453.5,113.5L449,116.5L445.5,119.5L442,123.5L439,127.5L435.5,131.5L432,134.5L428.5,138L424,141L420,144L416.5,147.5L413,151.5L409.5,155.5L406.5,159.5L403,164L401,168.5L399,173.5L397.5,178.5M514,94L509,94L503.5,94L498.5,94L493.5,95L488.5,96L483.5,97L478.5,98.5L473.5,100.5L469,102L464,104L459.5,106L454.5,108L450,110L445.5,113L441.5,116.5L438.5,121L436.5,125.5M485.5,91.5L480.5,92.5L476,93.5L472,97M514,94L510,92L505.5,90.5L501,89L496.5,87.5L492,86.5M514,94L511.5,91L509.5,87.5L507,84.5L504.5,84.5M514,94L514,90.5L514.5,87L514.5,83M514,94L516.5,91L519.5,88L522,85L525,84.5M514,94L518.5,92L523,90.5L527.5,89.5L532,88.5L537,88L541.5,89M543,92.5L548.5,92L554,91.5L560,90L565,91M578,92L584,93.5L588.5,97M514,94L519,93.5L524.5,94L529.5,94.5L534.5,96L540,96.5L545,97L550.5,97L556.5,96.5L562.5,96L568.5,96L574.5,96.5L580.5,97.5L586,99L591.5,101.5L596.5,104.5L601.5,107.5L606.5,111L611,115L615,119L619,123.5L621.5,129L624,134.5"/><polygon points="538,92 567.7,94.6 586,97 578,103 560,105 546,101" fill="#081000" fill-opacity="0.85"/></g><polyline fill="none" stroke="#0a1800" stroke-opacity="0.9" stroke-width="1.2" stroke-linejoin="round" points="107.3,114.6 133.9,104.2 161.5,99.0 184.6,98.5 196.0,103.0 210.0,110.0 230.8,117.0 251.5,122.7 260.8,135.4 270.0,144.6 279.0,172.3 286.0,195.4 289.6,218.5 288.5,244.6 283.9,258.5 272.3,272.3 260.8,283.9 251.5,297.7 247.0,311.5"/><polyline fill="none" stroke="#0a1800" stroke-opacity="0.7" stroke-width="1.0" stroke-linejoin="round" points="247.0,311.5 237.7,318.5 219.2,323.0 200.8,330.0 193.8,339.2 184.6,343.9 173.0,345.0 161.5,339.2 150.0,320.8 143.0,322.0 136.2,326.5"/><polyline fill="none" stroke="#0a1800" stroke-opacity="0.9" stroke-width="1.2" stroke-linejoin="round" points="437.7,132.3 447.0,116.0 453.8,107.0 467.7,100.0 483.9,92.0 500.0,86.0 517.8,82.7 533.0,90.0 549.0,97.0 567.7,94.6 586.0,97.0 602.3,106.0 613.8,120.0 616.0,129.0 625.4,138.5 631.0,148.8 625.4,161.5 620.8,177.7 630.0,198.5 633.0,203.8 636.5,224.6 635.4,238.5 623.9,247.7 612.3,257.0 607.7,277.7 605.4,293.9 600.8,303.0"/><polyline fill="none" stroke="#0a1800" stroke-opacity="0.7" stroke-width="1.0" stroke-linejoin="round" points="600.8,303.0 593.8,319.2 580.0,328.5 561.5,330.8 550.0,328.5 546.0,334.0 540.0,342.0 530.0,344.0 520.0,340.0 512.0,332.0 502.0,326.0 492.0,329.0 484.0,324.0 472.0,322.0 460.0,316.0"/><polyline fill="none" stroke="#0a1800" stroke-opacity="0.85" stroke-width="2.2" stroke-linejoin="round" points="600.8,303.0 593.8,319.2 580.0,328.5 561.5,330.8 550.0,328.5"/><polyline fill="none" stroke="#0a1800" stroke-opacity="0.8" stroke-width="1.8" stroke-linejoin="round" points="502.0,326.0 492.0,329.0 484.0,324.0 472.0,322.0 460.0,316.0"/><path d="M161.5,66V101M31,248L50,243.5M293,245L252,236" stroke="#b84444" stroke-width="1.2" fill="none"/><path d="M517.8,64V83M385,248L405,242M650.4,245.4L610,235" stroke="#b84444" stroke-width="1.2" fill="none"/></svg><svg style="position:absolute;left:314px;top:62px" width="27" height="285"><defs><linearGradient id="c1g" x1="0" y1="0" x2="0" y2="1"><stop offset="0.0" stop-color="#f81800"/><stop offset="0.09" stop-color="#ff8000"/><stop offset="0.167" stop-color="#ffff00"/><stop offset="0.33" stop-color="#00f000"/><stop offset="0.5" stop-color="#00ffff"/><stop offset="0.65" stop-color="#0000ff"/><stop offset="0.83" stop-color="#000060"/><stop offset="1.0" stop-color="#800080"/></linearGradient></defs><rect x="1" y="1" width="25" height="283" fill="url(#c1g)" stroke="#181818" stroke-width="1.3"/></svg><div class="dbi" style="left:314px;top:46.5px">dBi</div><div class="lab" style="left:350px;top:63.8px">5</div><div class="lab" style="left:351px;top:127px">-5</div><div class="lab" style="left:351px;top:197.8px">-15</div><div class="lab" style="left:351px;top:266px">-25</div><div class="lab" style="left:351px;top:329.6px">-35</div><svg style="position:absolute;left:669px;top:62px" width="28" height="288"><defs><linearGradient id="c2g" x1="0" y1="0" x2="0" y2="1"><stop offset="0.0" stop-color="#f81800"/><stop offset="0.09" stop-color="#ff8000"/><stop offset="0.167" stop-color="#ffff00"/><stop offset="0.33" stop-color="#00f000"/><stop offset="0.5" stop-color="#00ffff"/><stop offset="0.65" stop-color="#0000ff"/><stop offset="0.83" stop-color="#000060"/><stop offset="1.0" stop-color="#800080"/></linearGradient></defs><rect x="1" y="1" width="26" height="286" fill="url(#c2g)" stroke="#181818" stroke-width="1.3"/></svg><div class="dbi" style="left:669px;top:47.5px">dBi</div><div class="lab" style="left:706px;top:64.8px">5</div><div class="lab" style="left:706px;top:126.5px">-5</div><div class="lab" style="left:706px;top:198px">-15</div><div class="lab" style="left:706px;top:269.5px">-25</div><div class="lab" style="left:706px;top:332.5px">-35</div><div class="ax" style="left:160.5px;top:48.5px">Z</div><div class="ax" style="left:28px;top:249.5px">X</div><div class="ax" style="left:294px;top:246.5px">Y</div><div class="ax" style="left:516.5px;top:46.5px">Z</div><div class="ax" style="left:382px;top:249.5px">X</div><div class="ax" style="left:652px;top:246.5px">Y</div><div class="a" style="left:245.5px;top:383px;font-size:15.4px;line-height:1;color:#111">1850 and 1950 MHz Radiation pattern</div><div style="position:absolute;left:0;top:592px;width:750px;height:1px;background:#f6f6f6"></div><div style="position:absolute;left:0;top:596px;width:750px;height:2px;background:#e6e6e6"></div><div class="a" style="left:2px;top:608px;font-size:17px;line-height:1;color:#222">www.advantech.com</div><div class="a" style="left:687px;top:608px;font-size:17px;line-height:1;color:#111">Page: 12</div><svg style="position:absolute;left:0;top:637px" width="750" height="13"><polygon points="0,0 167,0 155,13 0,13" fill="#9b9b9b"/><polygon points="167,0 750,0 750,13 155,13" fill="#6f6f6b"/></svg></body></html>
